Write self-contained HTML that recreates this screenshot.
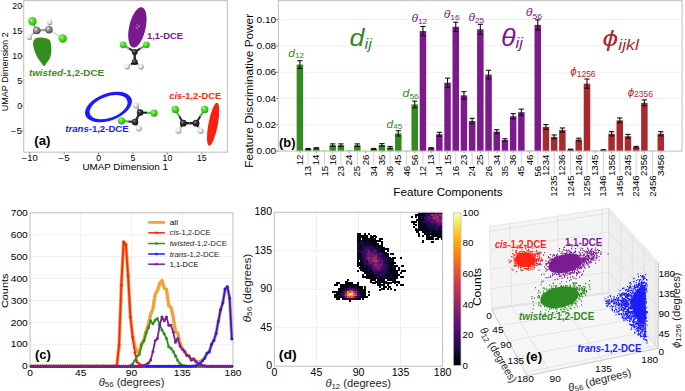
<!DOCTYPE html>
<html><head><meta charset="utf-8"><title>Figure</title>
<style>html,body{margin:0;padding:0;background:#fff;overflow:hidden;}svg{display:block;font-family:"Liberation Sans",sans-serif;}</style>
</head><body>
<svg width="685" height="391" viewBox="0 0 685 391"><defs><radialGradient id="gCl" cx="0.38" cy="0.35" r="0.7"><stop offset="0" stop-color="#d8ffc8"/><stop offset="0.25" stop-color="#5fe63a"/><stop offset="0.8" stop-color="#2cc014"/><stop offset="1" stop-color="#1c8a0c"/></radialGradient>
<radialGradient id="gC" cx="0.38" cy="0.35" r="0.7"><stop offset="0" stop-color="#f2f2f2"/><stop offset="0.3" stop-color="#9a9a9a"/><stop offset="0.8" stop-color="#5e5e5e"/><stop offset="1" stop-color="#3a3a3a"/></radialGradient>
<radialGradient id="gK" cx="0.38" cy="0.35" r="0.7"><stop offset="0" stop-color="#9a9a9a"/><stop offset="0.3" stop-color="#3a3a3a"/><stop offset="0.8" stop-color="#1a1a1a"/><stop offset="1" stop-color="#050505"/></radialGradient>
<radialGradient id="gH" cx="0.38" cy="0.35" r="0.7"><stop offset="0" stop-color="#ffffff"/><stop offset="0.4" stop-color="#e8e8e8"/><stop offset="0.85" stop-color="#a8a8a8"/><stop offset="1" stop-color="#787878"/></radialGradient><linearGradient id="cbar" x1="0" y1="0" x2="0" y2="1"><stop offset="0.00" stop-color="#fcffa4"/><stop offset="0.05" stop-color="#f1ef75"/><stop offset="0.10" stop-color="#f6d746"/><stop offset="0.15" stop-color="#fbbe23"/><stop offset="0.20" stop-color="#fca50a"/><stop offset="0.25" stop-color="#f98e09"/><stop offset="0.30" stop-color="#f37819"/><stop offset="0.35" stop-color="#ea632a"/><stop offset="0.40" stop-color="#dd513a"/><stop offset="0.45" stop-color="#cc4248"/><stop offset="0.50" stop-color="#bc3754"/><stop offset="0.55" stop-color="#a82e5f"/><stop offset="0.60" stop-color="#932667"/><stop offset="0.65" stop-color="#7f1e6c"/><stop offset="0.70" stop-color="#6a176e"/><stop offset="0.75" stop-color="#57106e"/><stop offset="0.80" stop-color="#420a68"/><stop offset="0.85" stop-color="#2b0b57"/><stop offset="0.90" stop-color="#160b39"/><stop offset="0.95" stop-color="#07051b"/><stop offset="1.00" stop-color="#000004"/></linearGradient></defs><polygon points="489.40,226.80 608.60,208.10 608.40,293.20 491.60,309.40" fill="#f4f4f4" stroke="none" stroke-width="0.8"/>
<polygon points="608.60,208.10 658.60,262.70 658.00,348.40 608.40,293.20" fill="#eeeeee" stroke="none" stroke-width="0.8"/>
<polygon points="491.60,309.40 608.40,293.20 658.00,348.40 527.00,375.90" fill="#f6f6f6" stroke="none" stroke-width="0.8"/>
<line x1="489.40" y1="226.80" x2="608.60" y2="208.10" stroke="#e0e0e0" stroke-width="0.8"/>
<line x1="608.60" y1="208.10" x2="658.60" y2="262.70" stroke="#e0e0e0" stroke-width="0.8"/>
<line x1="608.60" y1="208.10" x2="608.40" y2="293.20" stroke="#e0e0e0" stroke-width="0.8"/>
<line x1="491.60" y1="309.40" x2="608.40" y2="293.20" stroke="#e0e0e0" stroke-width="0.8"/>
<line x1="608.40" y1="293.20" x2="658.00" y2="348.40" stroke="#e0e0e0" stroke-width="0.8"/>
<line x1="489.40" y1="226.80" x2="491.60" y2="309.40" stroke="#e0e0e0" stroke-width="0.8"/>
<line x1="658.60" y1="262.70" x2="658.00" y2="348.40" stroke="#e0e0e0" stroke-width="0.8"/>
<line x1="491.57" y1="308.16" x2="608.40" y2="291.92" stroke="#dcdcdc" stroke-width="0.7"/>
<line x1="608.40" y1="291.92" x2="658.01" y2="347.11" stroke="#dcdcdc" stroke-width="0.7"/>
<line x1="491.05" y1="288.75" x2="608.45" y2="271.93" stroke="#dcdcdc" stroke-width="0.7"/>
<line x1="608.45" y1="271.93" x2="658.15" y2="326.97" stroke="#dcdcdc" stroke-width="0.7"/>
<line x1="490.53" y1="269.34" x2="608.50" y2="251.93" stroke="#dcdcdc" stroke-width="0.7"/>
<line x1="608.50" y1="251.93" x2="658.29" y2="306.84" stroke="#dcdcdc" stroke-width="0.7"/>
<line x1="490.02" y1="249.93" x2="608.54" y2="231.93" stroke="#dcdcdc" stroke-width="0.7"/>
<line x1="608.54" y1="231.93" x2="658.43" y2="286.70" stroke="#dcdcdc" stroke-width="0.7"/>
<line x1="489.53" y1="231.51" x2="608.59" y2="212.95" stroke="#dcdcdc" stroke-width="0.7"/>
<line x1="608.59" y1="212.95" x2="658.57" y2="267.58" stroke="#dcdcdc" stroke-width="0.7"/>
<line x1="509.90" y1="223.58" x2="511.69" y2="306.61" stroke="#dcdcdc" stroke-width="0.7"/>
<line x1="511.69" y1="306.61" x2="549.53" y2="371.17" stroke="#dcdcdc" stroke-width="0.7"/>
<line x1="557.70" y1="216.08" x2="558.53" y2="300.12" stroke="#dcdcdc" stroke-width="0.7"/>
<line x1="558.53" y1="300.12" x2="602.06" y2="360.14" stroke="#dcdcdc" stroke-width="0.7"/>
<line x1="602.28" y1="209.09" x2="602.21" y2="294.06" stroke="#dcdcdc" stroke-width="0.7"/>
<line x1="602.21" y1="294.06" x2="651.06" y2="349.86" stroke="#dcdcdc" stroke-width="0.7"/>
<line x1="608.60" y1="208.10" x2="608.40" y2="293.20" stroke="#dcdcdc" stroke-width="0.7"/>
<line x1="491.60" y1="309.40" x2="608.40" y2="293.20" stroke="#dcdcdc" stroke-width="0.7"/>
<line x1="620.70" y1="221.31" x2="620.40" y2="306.56" stroke="#dcdcdc" stroke-width="0.7"/>
<line x1="500.17" y1="325.49" x2="620.40" y2="306.56" stroke="#dcdcdc" stroke-width="0.7"/>
<line x1="632.40" y1="234.09" x2="632.01" y2="319.48" stroke="#dcdcdc" stroke-width="0.7"/>
<line x1="508.45" y1="341.05" x2="632.01" y2="319.48" stroke="#dcdcdc" stroke-width="0.7"/>
<line x1="644.20" y1="246.98" x2="643.72" y2="332.50" stroke="#dcdcdc" stroke-width="0.7"/>
<line x1="516.80" y1="356.75" x2="643.72" y2="332.50" stroke="#dcdcdc" stroke-width="0.7"/>
<line x1="656.10" y1="259.97" x2="655.52" y2="345.64" stroke="#dcdcdc" stroke-width="0.7"/>
<line x1="525.23" y1="372.57" x2="655.52" y2="345.64" stroke="#dcdcdc" stroke-width="0.7"/>
<line x1="491.60" y1="309.40" x2="527.00" y2="375.90" stroke="#bdbdbd" stroke-width="0.8"/>
<line x1="527.00" y1="375.90" x2="658.00" y2="348.40" stroke="#bdbdbd" stroke-width="0.8"/>
<line x1="658.00" y1="348.40" x2="658.60" y2="262.70" stroke="#bdbdbd" stroke-width="0.8"/>
<ellipse cx="525.0" cy="259.8" rx="9.6" ry="7.2" transform="rotate(0 525.0 259.8)" fill="#ff2414"/>
<path d="M517.5 245.6h1.1m6.4 1h1.1m-10.1 1h1.1m2.4 .5h1.1m4.4 0h1.1m5.9 0h1.1m-11.6 1h1.1m2.9 0h1.1m1.4 .5h1.1m-16.6 .5h1.1m1.9 .5h1.1m-.6 0h1.1m10.4 0h1.1m-.6 0h1.1m-1.1 0h1.1m6.9 0h1.1m-16.1 .5h1.1m4.4 0h1.1m-8.1 .5h1.1m1.9 0h1.1m-.1 0h1.1m-.6 0h1.1m4.9 0h1.1m.4 0h1.1m-.1 0h1.1m1.9 0h1.1m-21.6 .5h1.1m-.1 0h1.1m4.4 0h1.1m7.4 0h1.1m-1.1 0h1.1m-1.1 0h1.1m-12.6 .5h1.1m-3.6 .5h1.1m-1.1 0h1.1m2.4 0h1.1m3.4 0h1.1m-.6 0h1.1m-.1 0h1.1m1.4 0h1.1m-.1 0h1.1m.4 0h1.1m-19.6 .5h1.1m4.4 0h1.1m1.4 0h1.1m-.6 0h1.1m-.1 0h1.1m-.1 0h1.1m-.1 0h1.1m-.6 0h1.1m.9 0h1.1m-.6 0h1.1m-.1 0h1.1m-.6 0h1.1m-.1 0h1.1m.9 0h1.1m1.4 0h1.1m-1.1 0h1.1m1.4 0h1.1m-23.6 .5h1.1m3.4 0h1.1m-.1 0h1.1m-.1 0h1.1m2.4 0h1.1m-.1 0h1.1m3.4 0h1.1m1.9 0h1.1m-1.1 0h1.1m-1.1 0h1.1m1.4 0h1.1m-.6 0h1.1m.9 0h1.1m-.6 0h1.1m-25.1 .5h1.1m.9 0h1.1m.4 0h1.1m.9 0h1.1m-1.1 0h1.1m-.1 0h1.1m-1.1 0h1.1m.9 0h1.1m-.6 0h1.1m-.6 0h1.1m-.1 0h1.1m-.6 0h1.1m.4 0h1.1m.9 0h1.1m-1.1 0h1.1m-.6 0h1.1m.4 0h1.1m-17.1 .5h1.1m1.9 0h1.1m-.1 0h1.1m.9 0h1.1m-.1 0h1.1m-.1 0h1.1m.4 0h1.1m-.1 0h1.1m-1.1 0h1.1m-.1 0h1.1m-.1 0h1.1m-.6 0h1.1m-1.1 0h1.1m-1.1 0h1.1m-1.1 0h1.1m-.1 0h1.1m-.1 0h1.1m-.1 0h1.1m-1.1 0h1.1m-.6 0h1.1m.4 0h1.1m-.6 0h1.1m-1.1 0h1.1m-20.1 .5h1.1m2.9 0h1.1m.4 0h1.1m-.6 0h1.1m-1.1 0h1.1m-.6 0h1.1m-1.1 0h1.1m-.6 0h1.1m-.6 0h1.1m.9 0h1.1m-.6 0h1.1m.9 0h1.1m.4 0h1.1m-1.1 0h1.1m-.6 0h1.1m-1.1 0h1.1m-.6 0h1.1m-.6 0h1.1m-.6 0h1.1m-.1 0h1.1m.4 0h1.1m1.9 0h1.1m-19.6 .5h1.1m1.4 0h1.1m.9 0h1.1m-.6 0h1.1m-.6 0h1.1m-.1 0h1.1m-.6 0h1.1m-1.1 0h1.1m1.4 0h1.1m-.6 0h1.1m-.1 0h1.1m-.6 0h1.1m-.6 0h1.1m1.4 0h1.1m-.6 0h1.1m-.6 0h1.1m.9 0h1.1m-23.6 .5h1.1m6.4 0h1.1m-.1 0h1.1m-1.1 0h1.1m2.4 0h1.1m-1.1 0h1.1m-.6 0h1.1m-.1 0h1.1m-1.1 0h1.1m.9 0h1.1m-.6 0h1.1m-1.1 0h1.1m-1.1 0h1.1m.9 0h1.1m-1.1 0h1.1m-.1 0h1.1m-.1 0h1.1m4.9 0h1.1m-25.6 .5h1.1m1.9 0h1.1m.9 0h1.1m.9 0h1.1m.4 0h1.1m-.1 0h1.1m-1.1 0h1.1m.9 0h1.1m-1.1 0h1.1m-.6 0h1.1m-1.1 0h1.1m-.6 0h1.1m-.6 0h1.1m-.1 0h1.1m-.6 0h1.1m-.6 0h1.1m-.6 0h1.1m-.1 0h1.1m-.1 0h1.1m-.6 0h1.1m-.1 0h1.1m-.6 0h1.1m-1.1 0h1.1m.4 0h1.1m-18.1 .5h1.1m.4 0h1.1m-.6 0h1.1m.4 0h1.1m-.1 0h1.1m-.6 0h1.1m.4 0h1.1m-1.1 0h1.1m-.6 0h1.1m.4 0h1.1m-.1 0h1.1m-1.1 0h1.1m-.6 0h1.1m-1.1 0h1.1m.4 0h1.1m-.6 0h1.1m.4 0h1.1m-.1 0h1.1m-.6 0h1.1m.4 0h1.1m-1.1 0h1.1m.4 0h1.1m-22.1 .5h1.1m1.4 0h1.1m-.6 0h1.1m-.6 0h1.1m-1.1 0h1.1m-.6 0h1.1m-.6 0h1.1m-.1 0h1.1m-.6 0h1.1m-.6 0h1.1m-.1 0h1.1m-.6 0h1.1m-.1 0h1.1m-.6 0h1.1m-1.1 0h1.1m-1.1 0h1.1m-.6 0h1.1m-1.1 0h1.1m-.6 0h1.1m-.1 0h1.1m-.1 0h1.1m-1.1 0h1.1m-.6 0h1.1m-1.1 0h1.1m-.6 0h1.1m-1.1 0h1.1m-.6 0h1.1m-.1 0h1.1m-15.1 .5h1.1m-.1 0h1.1m-.1 0h1.1m-.6 0h1.1m-1.1 0h1.1m-1.1 0h1.1m1.4 0h1.1m-.1 0h1.1m-.1 0h1.1m-1.1 0h1.1m-.6 0h1.1m-1.1 0h1.1m-1.1 0h1.1m-.6 0h1.1m-1.1 0h1.1m-1.1 0h1.1m-1.1 0h1.1m-.6 0h1.1m-1.1 0h1.1m-.6 0h1.1m-.6 0h1.1m-.6 0h1.1m-1.1 0h1.1m-.1 0h1.1m-.6 0h1.1m-1.1 0h1.1m-1.1 0h1.1m-.6 0h1.1m-.1 0h1.1m-1.1 0h1.1m-1.1 0h1.1m-.6 0h1.1m-.1 0h1.1m.4 0h1.1m2.4 0h1.1m-19.6 .5h1.1m.4 0h1.1m-.6 0h1.1m.4 0h1.1m-.1 0h1.1m-.6 0h1.1m-1.1 0h1.1m-.6 0h1.1m.9 0h1.1m-.1 0h1.1m-1.1 0h1.1m-.6 0h1.1m-1.1 0h1.1m-1.1 0h1.1m-1.1 0h1.1m-.1 0h1.1m-1.1 0h1.1m-1.1 0h1.1m-1.1 0h1.1m-1.1 0h1.1m-.6 0h1.1m-1.1 0h1.1m-.6 0h1.1m-1.1 0h1.1m-1.1 0h1.1m-.6 0h1.1m-.6 0h1.1m-.6 0h1.1m-.6 0h1.1m-.6 0h1.1m-.6 0h1.1m-1.1 0h1.1m-.1 0h1.1m-1.1 0h1.1m-1.1 0h1.1m.4 0h1.1m-.6 0h1.1m.4 0h1.1m-21.1 .5h1.1m.4 0h1.1m-.1 0h1.1m1.9 0h1.1m-.6 0h1.1m.4 0h1.1m-.1 0h1.1m-1.1 0h1.1m-.6 0h1.1m-.6 0h1.1m-.6 0h1.1m-.1 0h1.1m-1.1 0h1.1m-.6 0h1.1m-.6 0h1.1m-1.1 0h1.1m-.6 0h1.1m-1.1 0h1.1m-.6 0h1.1m-1.1 0h1.1m-1.1 0h1.1m-1.1 0h1.1m2.4 0h1.1m2.4 0h1.1m-.1 0h1.1m-.1 0h1.1m1.4 0h1.1m1.9 0h1.1m-34.1 .5h1.1m3.9 0h1.1m.9 0h1.1m-.1 0h1.1m.4 0h1.1m-.6 0h1.1m-1.1 0h1.1m1.4 0h1.1m-.6 0h1.1m-1.1 0h1.1m-.6 0h1.1m-.6 0h1.1m-.6 0h1.1m-.6 0h1.1m-.6 0h1.1m.9 0h1.1m-.6 0h1.1m-.1 0h1.1m-.6 0h1.1m-1.1 0h1.1m-.1 0h1.1m.4 0h1.1m-1.1 0h1.1m-.6 0h1.1m-.1 0h1.1m.4 0h1.1m.4 0h1.1m-1.1 0h1.1m-.1 0h1.1m-28.6 .5h1.1m1.4 0h1.1m1.4 0h1.1m.4 0h1.1m-.1 0h1.1m-.1 0h1.1m-.6 0h1.1m-.1 0h1.1m.4 0h1.1m.4 0h1.1m-1.1 0h1.1m-.6 0h1.1m.4 0h1.1m-1.1 0h1.1m-.6 0h1.1m-1.1 0h1.1m-1.1 0h1.1m-1.1 0h1.1m-1.1 0h1.1m-.6 0h1.1m-.6 0h1.1m-.6 0h1.1m-.6 0h1.1m-1.1 0h1.1m-.6 0h1.1m-1.1 0h1.1m-.1 0h1.1m-1.1 0h1.1m-.1 0h1.1m-.6 0h1.1m-.6 0h1.1m-.6 0h1.1m-.6 0h1.1m-.6 0h1.1m-.1 0h1.1m-1.1 0h1.1m3.4 0h1.1m-23.6 .5h1.1m.4 0h1.1m-1.1 0h1.1m-.1 0h1.1m-.6 0h1.1m-1.1 0h1.1m-.6 0h1.1m-1.1 0h1.1m.4 0h1.1m2.4 0h1.1m-.6 0h1.1m-.6 0h1.1m-1.1 0h1.1m-1.1 0h1.1m-1.1 0h1.1m-.6 0h1.1m-.6 0h1.1m-.1 0h1.1m-1.1 0h1.1m-.6 0h1.1m-1.1 0h1.1m-.6 0h1.1m-1.1 0h1.1m.4 0h1.1m-.6 0h1.1m1.9 0h1.1m-.6 0h1.1m-.6 0h1.1m.4 0h1.1m-25.1 .5h1.1m-1.1 0h1.1m4.4 0h1.1m-.6 0h1.1m.9 0h1.1m-.1 0h1.1m-1.1 0h1.1m-.6 0h1.1m-1.1 0h1.1m-.6 0h1.1m-.1 0h1.1m-.6 0h1.1m-.6 0h1.1m-1.1 0h1.1m-.6 0h1.1m-1.1 0h1.1m-.6 0h1.1m-1.1 0h1.1m-.6 0h1.1m-1.1 0h1.1m-.6 0h1.1m-.1 0h1.1m-.6 0h1.1m-.6 0h1.1m1.4 0h1.1m-.6 0h1.1m3.9 0h1.1m-.1 0h1.1m3.9 0h1.1m-21.1 .5h1.1m-1.1 0h1.1m-.6 0h1.1m-1.1 0h1.1m-1.1 0h1.1m-1.1 0h1.1m-.6 0h1.1m-1.1 0h1.1m-.1 0h1.1m-1.1 0h1.1m-.1 0h1.1m-1.1 0h1.1m2.4 0h1.1m-1.1 0h1.1m-1.1 0h1.1m-1.1 0h1.1m-.6 0h1.1m-.1 0h1.1m.9 0h1.1m-22.1 .5h1.1m5.4 0h1.1m-.6 0h1.1m-1.1 0h1.1m-.6 0h1.1m-.6 0h1.1m.4 0h1.1m.4 0h1.1m.9 0h1.1m-1.1 0h1.1m1.9 0h1.1m-.6 0h1.1m-1.1 0h1.1m-.6 0h1.1m-1.1 0h1.1m-.6 0h1.1m-.6 0h1.1m-.6 0h1.1m-.6 0h1.1m-1.1 0h1.1m-.1 0h1.1m-1.1 0h1.1m-.6 0h1.1m-.1 0h1.1m.4 0h1.1m-.1 0h1.1m-20.1 .5h1.1m-.6 0h1.1m-.6 0h1.1m3.4 0h1.1m-1.1 0h1.1m-.1 0h1.1m.4 0h1.1m.4 0h1.1m.9 0h1.1m-1.1 0h1.1m-.6 0h1.1m-.6 0h1.1m-1.1 0h1.1m-.1 0h1.1m-.6 0h1.1m-.6 0h1.1m-.6 0h1.1m-.1 0h1.1m-.6 0h1.1m-.6 0h1.1m-.6 0h1.1m-.6 0h1.1m.9 0h1.1m-19.6 .5h1.1m2.4 0h1.1m2.4 0h1.1m.4 0h1.1m-1.1 0h1.1m.4 0h1.1m-1.1 0h1.1m-.1 0h1.1m-1.1 0h1.1m-1.1 0h1.1m.4 0h1.1m-.1 0h1.1m-.6 0h1.1m1.4 0h1.1m-1.1 0h1.1m12.4 0h1.1m-26.6 .5h1.1m-.1 0h1.1m-.6 0h1.1m-1.1 0h1.1m1.9 0h1.1m-.1 0h1.1m.4 0h1.1m.4 0h1.1m-.6 0h1.1m3.4 0h1.1m-.1 0h1.1m1.9 0h1.1m-23.1 .5h1.1m4.9 0h1.1m-.1 0h1.1m-.1 0h1.1m-.1 0h1.1m.4 0h1.1m-1.1 0h1.1m1.9 0h1.1m.4 0h1.1m2.9 0h1.1m3.9 0h1.1m-26.6 .5h1.1m.9 0h1.1m1.9 0h1.1m.4 0h1.1m-.1 0h1.1m1.4 0h1.1m.4 0h1.1m.4 0h1.1m-.6 0h1.1m1.4 0h1.1m.9 0h1.1m.4 0h1.1m-19.6 .5h1.1m-.1 0h1.1m.9 0h1.1m-.1 0h1.1m1.4 0h1.1m-1.1 0h1.1m.9 0h1.1m-.6 0h1.1m-1.1 0h1.1m-.6 0h1.1m-.6 0h1.1m.4 0h1.1m-1.1 0h1.1m-.6 0h1.1m-.6 0h1.1m-.6 0h1.1m-.6 0h1.1m-.1 0h1.1m3.9 0h1.1m-15.6 .5h1.1m-.1 0h1.1m1.4 0h1.1m1.9 0h1.1m.9 0h1.1m-1.1 0h1.1m3.4 0h1.1m-19.6 .5h1.1m1.9 0h1.1m8.9 0h1.1m-.1 0h1.1m-.1 0h1.1m-1.1 0h1.1m-10.6 .5h1.1m9.4 0h1.1m.4 0h1.1m-15.1 .5h1.1m.9 0h1.1m-.6 0h1.1m.9 0h1.1m3.9 0h1.1m5.4 0h1.1m-7.1 .5h1.1m-1.1 0h1.1m4.4 0h1.1m-10.6 .5h1.1m-.1 0h1.1m-.1 0h1.1m.4 0h1.1m-.6 0h1.1m.9 0h1.1m-19.6 .5h1.1m14.9 0h1.1m-8.6 .5h1.1m5.4 0h1.1m2.9 0h1.1m.9 0h1.1m-21.1 .5h1.1m8.4 0h1.1m-.6 0h1.1m4.4 0h1.1m-8.1 .5h1.1m-6.1 1h1.1" stroke="#ff2414" stroke-width="1.1" fill="none"/>
<path d="M528 247.6h1.1m-.6 4h1.1m7.9 .5h1.1m-13.1 .5h1.1m13.9 0h1.1m2.4 0h1.1m-19.1 .5h1.1m9.4 0h1.1m-.6 0h1.1m.4 0h1.1m-15.1 .5h1.1m12.4 0h1.1m.4 0h1.1m-13.6 .5h1.1m.9 0h1.1m8.4 0h1.1m-14.1 .5h1.1m3.4 0h1.1m1.4 0h1.1m3.4 0h1.1m-14.6 .5h1.1m10.4 0h1.1m-10.1 .5h1.1m-.1 0h1.1m3.4 0h1.1m5.9 0h1.1m-9.6 .5h1.1m.9 0h1.1m.9 0h1.1m-.1 0h1.1m-8.1 .5h1.1m.4 0h1.1m-1.1 0h1.1m-.1 0h1.1m-6.6 .5h1.1m12.9 0h1.1m-15.6 .5h1.1m2.9 0h1.1m9.4 0h1.1m-20.1 .5h1.1m-.6 0h1.1m9.9 0h1.1m.9 0h1.1m4.4 0h1.1m.9 0h1.1m-23.1 .5h1.1m-.6 0h1.1m12.4 0h1.1m-.6 0h1.1m.9 0h1.1m1.4 0h1.1m-10.6 .5h1.1m.9 0h1.1m-.6 0h1.1m1.4 0h1.1m-.6 0h1.1m-10.6 .5h1.1m1.9 0h1.1m-.1 0h1.1m6.4 0h1.1m-.6 0h1.1m-.6 0h1.1m.4 0h1.1m-12.1 .5h1.1m2.4 0h1.1m9.9 0h1.1m-17.1 .5h1.1m8.4 0h1.1m3.4 0h1.1m.9 0h1.1m-27.1 .5h1.1m3.9 0h1.1m-.6 0h1.1m-.1 0h1.1m.9 0h1.1m-.1 0h1.1m2.4 0h1.1m-.6 0h1.1m1.9 0h1.1m4.4 0h1.1m-17.1 .5h1.1m-.6 0h1.1m9.4 0h1.1m-.6 0h1.1m-12.6 .5h1.1m7.4 0h1.1m.9 0h1.1m2.4 0h1.1m-15.6 .5h1.1m9.4 0h1.1m-3.1 .5h1.1m.4 0h1.1m.4 0h1.1m1.9 .5h1.1m-.1 0h1.1m-7.6 .5h1.1m.4 .5h1.1m-7.6 .5h1.1m-13.1 .5h1.1m21.4 0h1.1" stroke="#ff2414" stroke-width="1.1" fill="none"/>
<ellipse cx="565.0" cy="263.5" rx="16.5" ry="9.0" transform="rotate(-12 565.0 263.5)" fill="#7b1c93"/>
<path d="M585 243.6h1.1m-17.1 .5h1.1m-.1 1h1.1m5.9 0h1.1m-1.1 1h1.1m-14.1 1h1.1m-1.6 .5h1.1m15.9 .5h1.1m-22.6 .5h1.1m10.9 0h1.1m2.9 0h1.1m-13.1 1h1.1m-.6 .5h1.1m1.4 0h1.1m.9 0h1.1m10.9 0h1.1m8.9 0h1.1m-25.6 .5h1.1m-.1 0h1.1m20.4 0h1.1m-30.6 .5h1.1m-1.1 0h1.1m9.4 0h1.1m4.9 0h1.1m9.9 0h1.1m-25.6 .5h1.1m12.4 0h1.1m-36.6 .5h1.1m25.9 0h1.1m.9 0h1.1m.4 0h1.1m-.1 0h1.1m1.9 0h1.1m3.4 0h1.1m-6.1 .5h1.1m-.1 0h1.1m6.4 0h1.1m7.9 0h1.1m3.9 0h1.1m-35.6 .5h1.1m3.9 0h1.1m2.9 0h1.1m-.6 0h1.1m7.4 0h1.1m7.9 0h1.1m-29.1 .5h1.1m1.9 0h1.1m-.1 0h1.1m-.1 0h1.1m2.4 0h1.1m2.9 0h1.1m-17.1 .5h1.1m6.9 0h1.1m-.1 0h1.1m1.4 0h1.1m-.1 0h1.1m1.4 0h1.1m6.9 0h1.1m5.9 0h1.1m-38.1 .5h1.1m2.4 0h1.1m16.9 0h1.1m1.9 0h1.1m-.6 0h1.1m-.1 0h1.1m-34.1 .5h1.1m8.9 0h1.1m-.6 0h1.1m1.4 0h1.1m4.9 0h1.1m1.9 0h1.1m.9 0h1.1m-.1 0h1.1m3.4 0h1.1m.4 0h1.1m2.4 0h1.1m.9 0h1.1m2.9 0h1.1m-30.6 .5h1.1m4.4 0h1.1m.4 0h1.1m.9 0h1.1m.9 0h1.1m-1.1 0h1.1m.4 0h1.1m-.1 0h1.1m-.1 0h1.1m-.1 0h1.1m-.1 0h1.1m3.9 0h1.1m.4 0h1.1m.9 0h1.1m-28.1 .5h1.1m2.9 0h1.1m-.1 0h1.1m-.6 0h1.1m5.4 0h1.1m2.9 0h1.1m1.4 0h1.1m-.6 0h1.1m-.6 0h1.1m2.9 0h1.1m-.6 0h1.1m.4 0h1.1m.9 0h1.1m6.9 0h1.1m-40.6 .5h1.1m7.4 0h1.1m2.4 0h1.1m-.1 0h1.1m1.9 0h1.1m2.4 0h1.1m.4 0h1.1m.4 0h1.1m.4 0h1.1m.4 0h1.1m-.1 0h1.1m-.6 0h1.1m-.6 0h1.1m2.9 0h1.1m-1.1 0h1.1m4.9 0h1.1m-31.6 .5h1.1m3.9 0h1.1m.4 0h1.1m4.9 0h1.1m-.6 0h1.1m-1.1 0h1.1m-1.1 0h1.1m2.9 0h1.1m3.9 0h1.1m-30.1 .5h1.1m4.9 0h1.1m6.4 0h1.1m-.6 0h1.1m.4 0h1.1m-1.1 0h1.1m1.4 0h1.1m-1.1 0h1.1m-.1 0h1.1m.4 0h1.1m-1.1 0h1.1m-.6 0h1.1m-.6 0h1.1m2.4 0h1.1m-.6 0h1.1m1.4 0h1.1m-.6 0h1.1m-.6 0h1.1m.4 0h1.1m4.9 0h1.1m-36.1 .5h1.1m2.9 0h1.1m8.4 0h1.1m-.1 0h1.1m-1.1 0h1.1m.4 0h1.1m1.4 0h1.1m2.4 0h1.1m.4 0h1.1m.9 0h1.1m-.6 0h1.1m1.9 0h1.1m-30.1 .5h1.1m.9 0h1.1m5.4 0h1.1m-.1 0h1.1m2.4 0h1.1m-1.1 0h1.1m-.1 0h1.1m3.4 0h1.1m-.1 0h1.1m-.6 0h1.1m-.1 0h1.1m1.9 0h1.1m1.4 0h1.1m1.4 0h1.1m-.6 0h1.1m-.1 0h1.1m1.4 0h1.1m7.9 0h1.1m.4 0h1.1m1.9 0h1.1m-45.6 .5h1.1m-.1 0h1.1m1.4 0h1.1m-.6 0h1.1m.4 0h1.1m.9 0h1.1m2.9 0h1.1m-.6 0h1.1m3.9 0h1.1m-1.1 0h1.1m.4 0h1.1m-1.1 0h1.1m-.1 0h1.1m-.6 0h1.1m1.4 0h1.1m.9 0h1.1m.9 0h1.1m-.1 0h1.1m-.6 0h1.1m1.9 0h1.1m-1.1 0h1.1m-.6 0h1.1m-.6 0h1.1m-35.1 .5h1.1m.9 0h1.1m.4 0h1.1m-.1 0h1.1m-1.1 0h1.1m2.9 0h1.1m-1.1 0h1.1m-1.1 0h1.1m2.4 0h1.1m-1.1 0h1.1m-.6 0h1.1m-.6 0h1.1m-1.1 0h1.1m-.1 0h1.1m-.6 0h1.1m-.1 0h1.1m-1.1 0h1.1m-.6 0h1.1m-.1 0h1.1m-.1 0h1.1m-1.1 0h1.1m-.6 0h1.1m-.6 0h1.1m.4 0h1.1m-.1 0h1.1m-.1 0h1.1m-1.1 0h1.1m-.6 0h1.1m-.1 0h1.1m4.4 0h1.1m-.6 0h1.1m.9 0h1.1m.4 0h1.1m-.6 0h1.1m7.4 0h1.1m-52.1 .5h1.1m7.4 0h1.1m-.6 0h1.1m-.1 0h1.1m2.4 0h1.1m2.9 0h1.1m.4 0h1.1m-.1 0h1.1m-.6 0h1.1m-.6 0h1.1m-1.1 0h1.1m-.6 0h1.1m-.6 0h1.1m-1.1 0h1.1m-1.1 0h1.1m-.1 0h1.1m.4 0h1.1m-.6 0h1.1m-1.1 0h1.1m-.1 0h1.1m-1.1 0h1.1m-.6 0h1.1m-1.1 0h1.1m.9 0h1.1m.4 0h1.1m-.6 0h1.1m-1.1 0h1.1m.4 0h1.1m.4 0h1.1m.9 0h1.1m-1.1 0h1.1m-.6 0h1.1m-1.1 0h1.1m-1.1 0h1.1m3.4 0h1.1m1.9 0h1.1m-.1 0h1.1m7.9 0h1.1m2.9 0h1.1m-63.6 .5h1.1m17.4 0h1.1m2.9 0h1.1m-1.1 0h1.1m.9 0h1.1m-.1 0h1.1m-.6 0h1.1m-.6 0h1.1m.9 0h1.1m-.1 0h1.1m-.6 0h1.1m-.6 0h1.1m-.1 0h1.1m-1.1 0h1.1m-1.1 0h1.1m-1.1 0h1.1m-1.1 0h1.1m-.6 0h1.1m-.1 0h1.1m-1.1 0h1.1m1.4 0h1.1m-.1 0h1.1m-1.1 0h1.1m-.6 0h1.1m-.1 0h1.1m-.6 0h1.1m-.6 0h1.1m-.1 0h1.1m-.6 0h1.1m.4 0h1.1m-.6 0h1.1m-.6 0h1.1m.4 0h1.1m-.6 0h1.1m-.6 0h1.1m-.1 0h1.1m-.6 0h1.1m.4 0h1.1m-40.1 .5h1.1m1.9 0h1.1m5.9 0h1.1m-1.1 0h1.1m-.1 0h1.1m.9 0h1.1m-.1 0h1.1m-1.1 0h1.1m-.6 0h1.1m-.6 0h1.1m-1.1 0h1.1m-.6 0h1.1m-.1 0h1.1m.4 0h1.1m-1.1 0h1.1m-.1 0h1.1m-.1 0h1.1m-.6 0h1.1m-1.1 0h1.1m-.6 0h1.1m-1.1 0h1.1m-1.1 0h1.1m-.1 0h1.1m-1.1 0h1.1m-.6 0h1.1m-.6 0h1.1m-.1 0h1.1m-1.1 0h1.1m-1.1 0h1.1m-.6 0h1.1m-.1 0h1.1m-1.1 0h1.1m-.1 0h1.1m1.4 0h1.1m1.4 0h1.1m-1.1 0h1.1m-.6 0h1.1m-.6 0h1.1m.4 0h1.1m-32.1 .5h1.1m2.9 0h1.1m7.4 0h1.1m-.1 0h1.1m-.6 0h1.1m-.6 0h1.1m-.6 0h1.1m-1.1 0h1.1m.4 0h1.1m-1.1 0h1.1m-.6 0h1.1m-.1 0h1.1m-.6 0h1.1m-.6 0h1.1m-1.1 0h1.1m.4 0h1.1m.4 0h1.1m-1.1 0h1.1m-.6 0h1.1m-1.1 0h1.1m5.4 0h1.1m-.6 0h1.1m-.6 0h1.1m3.9 0h1.1m.4 0h1.1m3.9 0h1.1m-43.1 .5h1.1m1.9 0h1.1m1.4 0h1.1m.4 0h1.1m.9 0h1.1m-1.1 0h1.1m-.1 0h1.1m-.6 0h1.1m1.4 0h1.1m.9 0h1.1m-.6 0h1.1m-1.1 0h1.1m-.6 0h1.1m-.6 0h1.1m-.6 0h1.1m-1.1 0h1.1m-.6 0h1.1m.9 0h1.1m.9 0h1.1m-1.1 0h1.1m-1.1 0h1.1m.9 0h1.1m2.9 0h1.1m-.1 0h1.1m.9 0h1.1m.4 0h1.1m-.1 0h1.1m-.6 0h1.1m-1.1 0h1.1m-.6 0h1.1m7.9 0h1.1m-44.1 .5h1.1m.4 0h1.1m2.9 0h1.1m.4 0h1.1m1.4 0h1.1m1.4 0h1.1m-.6 0h1.1m-1.1 0h1.1m-.1 0h1.1m-1.1 0h1.1m.4 0h1.1m-.1 0h1.1m.9 0h1.1m-.6 0h1.1m-.6 0h1.1m-.6 0h1.1m-.6 0h1.1m-.1 0h1.1m-.1 0h1.1m-.6 0h1.1m.4 0h1.1m.4 0h1.1m-.6 0h1.1m-.1 0h1.1m-.6 0h1.1m-.6 0h1.1m2.9 0h1.1m1.9 0h1.1m-37.1 .5h1.1m-.1 0h1.1m2.4 0h1.1m-.6 0h1.1m-.1 0h1.1m-.1 0h1.1m-.6 0h1.1m1.4 0h1.1m-.6 0h1.1m.4 0h1.1m-.6 0h1.1m-.6 0h1.1m-.1 0h1.1m-1.1 0h1.1m-1.1 0h1.1m-.6 0h1.1m.9 0h1.1m1.9 0h1.1m-1.1 0h1.1m-1.1 0h1.1m-.1 0h1.1m-1.1 0h1.1m-.6 0h1.1m-.6 0h1.1m-1.1 0h1.1m-1.1 0h1.1m-.6 0h1.1m-1.1 0h1.1m-.6 0h1.1m.4 0h1.1m-1.1 0h1.1m-.1 0h1.1m-.6 0h1.1m-.1 0h1.1m-1.1 0h1.1m-.6 0h1.1m.9 0h1.1m.9 0h1.1m-.1 0h1.1m9.4 0h1.1m4.4 0h1.1m-56.6 .5h1.1m5.4 0h1.1m9.4 0h1.1m.9 0h1.1m-.1 0h1.1m.9 0h1.1m-.6 0h1.1m-.6 0h1.1m-.1 0h1.1m-.1 0h1.1m.4 0h1.1m-.1 0h1.1m.4 0h1.1m-.6 0h1.1m-1.1 0h1.1m-.1 0h1.1m-.6 0h1.1m-1.1 0h1.1m-1.1 0h1.1m-.6 0h1.1m-1.1 0h1.1m2.4 0h1.1m-.6 0h1.1m.9 0h1.1m2.4 0h1.1m-.1 0h1.1m3.9 0h1.1m-49.1 .5h1.1m9.9 0h1.1m-1.1 0h1.1m1.4 0h1.1m-.6 0h1.1m-.1 0h1.1m1.9 0h1.1m1.9 0h1.1m.4 0h1.1m-.1 0h1.1m-1.1 0h1.1m-.6 0h1.1m-.6 0h1.1m-.6 0h1.1m-.6 0h1.1m.4 0h1.1m-1.1 0h1.1m-.6 0h1.1m-.6 0h1.1m-.6 0h1.1m.4 0h1.1m-1.1 0h1.1m-.1 0h1.1m-1.1 0h1.1m-.6 0h1.1m-1.1 0h1.1m-1.1 0h1.1m-.6 0h1.1m-.6 0h1.1m-.6 0h1.1m-.6 0h1.1m-.6 0h1.1m.9 0h1.1m.9 0h1.1m-.1 0h1.1m-1.1 0h1.1m.9 0h1.1m-1.1 0h1.1m-.6 0h1.1m6.4 0h1.1m-48.1 .5h1.1m-1.1 0h1.1m3.9 0h1.1m2.9 0h1.1m-.1 0h1.1m-.1 0h1.1m-1.1 0h1.1m3.4 0h1.1m-1.1 0h1.1m1.4 0h1.1m-.6 0h1.1m-.1 0h1.1m1.9 0h1.1m-1.1 0h1.1m-.6 0h1.1m.4 0h1.1m-1.1 0h1.1m-.1 0h1.1m-1.1 0h1.1m-.6 0h1.1m-.1 0h1.1m-.6 0h1.1m-1.1 0h1.1m-1.1 0h1.1m-1.1 0h1.1m-.6 0h1.1m-.1 0h1.1m.4 0h1.1m-1.1 0h1.1m-.1 0h1.1m.9 0h1.1m2.9 0h1.1m-.6 0h1.1m2.4 0h1.1m-45.6 .5h1.1m7.4 0h1.1m2.4 0h1.1m1.4 0h1.1m.4 0h1.1m-.1 0h1.1m-.6 0h1.1m-.1 0h1.1m.9 0h1.1m-.1 0h1.1m-1.1 0h1.1m-.6 0h1.1m-1.1 0h1.1m-.6 0h1.1m-1.1 0h1.1m-.6 0h1.1m-.6 0h1.1m-.6 0h1.1m-1.1 0h1.1m-.6 0h1.1m-.6 0h1.1m.9 0h1.1m-.6 0h1.1m-.6 0h1.1m-.6 0h1.1m-.1 0h1.1m-1.1 0h1.1m-.1 0h1.1m-1.1 0h1.1m-1.1 0h1.1m-.1 0h1.1m3.4 0h1.1m-.6 0h1.1m.4 0h1.1m-.1 0h1.1m-.6 0h1.1m.4 0h1.1m-.6 0h1.1m2.4 0h1.1m.9 0h1.1m-35.1 .5h1.1m.4 0h1.1m.4 0h1.1m-.1 0h1.1m-1.1 0h1.1m-.1 0h1.1m-.6 0h1.1m-1.1 0h1.1m.9 0h1.1m.9 0h1.1m-1.1 0h1.1m.9 0h1.1m-.6 0h1.1m-.1 0h1.1m.4 0h1.1m-.1 0h1.1m.4 0h1.1m-.6 0h1.1m-.6 0h1.1m-.6 0h1.1m-.1 0h1.1m-.6 0h1.1m-.1 0h1.1m-1.1 0h1.1m-.6 0h1.1m1.4 0h1.1m-.6 0h1.1m-.1 0h1.1m-.6 0h1.1m.9 0h1.1m-.1 0h1.1m1.9 0h1.1m-.6 0h1.1m-33.6 .5h1.1m1.4 0h1.1m2.4 0h1.1m-.6 0h1.1m-.1 0h1.1m-1.1 0h1.1m-.6 0h1.1m-1.1 0h1.1m.9 0h1.1m.4 0h1.1m-1.1 0h1.1m-.1 0h1.1m-.6 0h1.1m-.6 0h1.1m-.6 0h1.1m-.1 0h1.1m-1.1 0h1.1m.4 0h1.1m.9 0h1.1m3.4 0h1.1m-.6 0h1.1m.9 0h1.1m-.6 0h1.1m-30.1 .5h1.1m-.1 0h1.1m-.6 0h1.1m-.6 0h1.1m-.1 0h1.1m.9 0h1.1m-1.1 0h1.1m-.6 0h1.1m-.1 0h1.1m-.6 0h1.1m-.6 0h1.1m2.4 0h1.1m.4 0h1.1m-.6 0h1.1m-1.1 0h1.1m-.6 0h1.1m-1.1 0h1.1m-1.1 0h1.1m-1.1 0h1.1m.9 0h1.1m1.9 0h1.1m1.9 0h1.1m-.1 0h1.1m-.1 0h1.1m-.6 0h1.1m-.6 0h1.1m-1.1 0h1.1m-.1 0h1.1m3.4 0h1.1m2.4 0h1.1m-1.1 0h1.1m6.4 0h1.1m-45.6 .5h1.1m5.9 0h1.1m.9 0h1.1m-.6 0h1.1m.4 0h1.1m-.6 0h1.1m-.1 0h1.1m-.1 0h1.1m-1.1 0h1.1m-.1 0h1.1m-1.1 0h1.1m.9 0h1.1m-1.1 0h1.1m-.1 0h1.1m-.6 0h1.1m-.6 0h1.1m-.1 0h1.1m-.6 0h1.1m-.6 0h1.1m-.1 0h1.1m-.6 0h1.1m2.4 0h1.1m-.1 0h1.1m-1.1 0h1.1m1.4 0h1.1m-.6 0h1.1m-.6 0h1.1m.4 0h1.1m-.6 0h1.1m-.6 0h1.1m-.1 0h1.1m-.1 0h1.1m.4 0h1.1m-.6 0h1.1m.9 0h1.1m.4 0h1.1m-35.6 .5h1.1m.4 0h1.1m-.1 0h1.1m.4 0h1.1m3.9 0h1.1m.4 0h1.1m1.4 0h1.1m-1.1 0h1.1m-1.1 0h1.1m-.6 0h1.1m-.6 0h1.1m-.6 0h1.1m-1.1 0h1.1m-.1 0h1.1m-.6 0h1.1m-.6 0h1.1m-1.1 0h1.1m1.4 0h1.1m-1.1 0h1.1m-.6 0h1.1m.4 0h1.1m-1.1 0h1.1m-.6 0h1.1m-.1 0h1.1m-1.1 0h1.1m.9 0h1.1m-.1 0h1.1m.4 0h1.1m.9 0h1.1m-31.1 .5h1.1m.4 0h1.1m3.4 0h1.1m-.6 0h1.1m.4 0h1.1m-.1 0h1.1m-.1 0h1.1m2.4 0h1.1m-.6 0h1.1m-1.1 0h1.1m-1.1 0h1.1m.4 0h1.1m-.6 0h1.1m.9 0h1.1m-1.1 0h1.1m-.6 0h1.1m.9 0h1.1m-.6 0h1.1m.4 0h1.1m2.9 0h1.1m2.9 0h1.1m-.1 0h1.1m-.6 0h1.1m2.9 0h1.1m-40.1 .5h1.1m1.9 0h1.1m-1.1 0h1.1m-.6 0h1.1m-.6 0h1.1m-.6 0h1.1m-.1 0h1.1m-.6 0h1.1m.9 0h1.1m.4 0h1.1m.4 0h1.1m1.4 0h1.1m1.9 0h1.1m-.6 0h1.1m-.1 0h1.1m.4 0h1.1m-1.1 0h1.1m-.1 0h1.1m-1.1 0h1.1m1.4 0h1.1m-.6 0h1.1m-1.1 0h1.1m2.4 0h1.1m-.6 0h1.1m4.4 0h1.1m-.6 0h1.1m.9 0h1.1m-33.6 .5h1.1m-1.1 0h1.1m1.4 0h1.1m4.9 0h1.1m2.4 0h1.1m-.6 0h1.1m-.6 0h1.1m.4 0h1.1m-1.1 0h1.1m-.1 0h1.1m-1.1 0h1.1m3.4 0h1.1m-.1 0h1.1m-.1 0h1.1m-1.1 0h1.1m-.6 0h1.1m-.6 0h1.1m1.4 0h1.1m-.6 0h1.1m1.4 0h1.1m-31.6 .5h1.1m1.9 0h1.1m4.9 0h1.1m-1.1 0h1.1m.4 0h1.1m-.6 0h1.1m-.1 0h1.1m-.6 0h1.1m1.4 0h1.1m-1.1 0h1.1m.4 0h1.1m-.1 0h1.1m1.4 0h1.1m5.4 0h1.1m-.6 0h1.1m-.1 0h1.1m-.1 0h1.1m-38.1 .5h1.1m6.9 0h1.1m8.4 0h1.1m-.1 0h1.1m2.9 0h1.1m-.6 0h1.1m-.6 0h1.1m-.6 0h1.1m-.6 0h1.1m1.4 0h1.1m-1.1 0h1.1m-1.1 0h1.1m-.6 0h1.1m-.6 0h1.1m1.4 0h1.1m.4 0h1.1m-.6 0h1.1m-.6 0h1.1m-.1 0h1.1m-.1 0h1.1m-.6 0h1.1m-25.1 .5h1.1m2.4 0h1.1m.9 0h1.1m1.4 0h1.1m2.9 0h1.1m-1.1 0h1.1m.9 0h1.1m.4 0h1.1m.9 0h1.1m8.4 0h1.1m-32.6 .5h1.1m4.4 0h1.1m1.9 0h1.1m-1.1 0h1.1m-.6 0h1.1m1.9 0h1.1m2.9 0h1.1m.4 0h1.1m-.6 0h1.1m-.1 0h1.1m.4 0h1.1m-.1 0h1.1m.4 0h1.1m-.6 0h1.1m12.9 0h1.1m-32.6 .5h1.1m-.1 0h1.1m5.9 0h1.1m11.4 0h1.1m.9 0h1.1m2.9 0h1.1m-25.6 .5h1.1m-1.1 0h1.1m2.4 0h1.1m-1.1 0h1.1m1.4 0h1.1m.9 0h1.1m-.6 0h1.1m1.4 0h1.1m-.1 0h1.1m-.1 0h1.1m4.4 0h1.1m.9 0h1.1m4.4 0h1.1m-1.1 0h1.1m-24.1 .5h1.1m-.6 0h1.1m-1.1 0h1.1m2.4 0h1.1m4.4 0h1.1m2.4 0h1.1m.4 0h1.1m1.4 0h1.1m1.4 0h1.1m1.4 0h1.1m-25.1 .5h1.1m-.6 0h1.1m1.9 0h1.1m3.4 0h1.1m1.9 0h1.1m-.6 0h1.1m.4 0h1.1m1.4 0h1.1m1.4 0h1.1m2.4 0h1.1m-.1 0h1.1m-26.1 .5h1.1m5.4 0h1.1m9.4 0h1.1m-26.6 .5h1.1m9.4 0h1.1m3.4 0h1.1m-.6 0h1.1m4.9 0h1.1m1.4 0h1.1m-1.1 0h1.1m.4 0h1.1m-.1 0h1.1m5.4 0h1.1m4.4 0h1.1m-42.1 .5h1.1m10.4 0h1.1m2.4 0h1.1m.4 0h1.1m2.9 0h1.1m.4 0h1.1m-.1 .5h1.1m10.9 0h1.1m3.9 0h1.1m-30.1 .5h1.1m6.4 0h1.1m5.9 0h1.1m-17.6 .5h1.1m9.4 0h1.1m2.4 0h1.1m-15.1 .5h1.1m7.9 0h1.1m11.9 0h1.1m-23.6 .5h1.1m13.4 0h1.1m4.9 0h1.1m7.9 0h1.1m-34.6 .5h1.1m.9 0h1.1m12.9 .5h1.1m4.4 0h1.1m5.4 0h1.1m.9 .5h1.1m-19.6 .5h1.1m-3.6 .5h1.1m14.9 0h1.1m-29.1 1.5h1.1m-2.6 1h1.1m33.4 1h1.1" stroke="#7b1c93" stroke-width="1.1" fill="none"/>
<path d="M600.5 245.6h1.1m-14.6 2.5h1.1m6.9 0h1.1m-14.1 .5h1.1m8.4 0h1.1m-5.1 .5h1.1m2.4 .5h1.1m4.9 0h1.1m-1.1 0h1.1m-3.6 .5h1.1m-13.1 .5h1.1m11.9 0h1.1m1.4 0h1.1m-.1 0h1.1m-16.1 .5h1.1m6.4 0h1.1m-6.1 .5h1.1m.9 0h1.1m.4 0h1.1m-.6 0h1.1m-1.1 0h1.1m1.4 0h1.1m-9.1 .5h1.1m14.4 0h1.1m-15.1 .5h1.1m-.6 0h1.1m-1.1 0h1.1m.9 0h1.1m.9 0h1.1m.9 0h1.1m-.6 0h1.1m-.1 0h1.1m2.4 0h1.1m-2.6 .5h1.1m-9.1 .5h1.1m.4 0h1.1m-1.1 0h1.1m1.4 0h1.1m-.6 0h1.1m.9 0h1.1m-12.6 .5h1.1m-.6 0h1.1m1.4 0h1.1m2.9 0h1.1m-.1 0h1.1m-.6 0h1.1m-.1 0h1.1m5.9 0h1.1m-.6 0h1.1m5.9 0h1.1m-28.6 .5h1.1m9.9 0h1.1m-9.1 .5h1.1m-.6 0h1.1m5.9 0h1.1m-.1 0h1.1m1.4 0h1.1m.9 0h1.1m-18.6 .5h1.1m1.9 0h1.1m3.9 0h1.1m-.6 0h1.1m-.1 0h1.1m-.6 0h1.1m1.9 0h1.1m3.9 0h1.1m-21.1 .5h1.1m8.4 0h1.1m-.6 0h1.1m-.6 0h1.1m4.9 0h1.1m-.6 0h1.1m-9.6 .5h1.1m1.9 0h1.1m2.4 0h1.1m5.9 0h1.1m-16.6 .5h1.1m.4 0h1.1m-.6 0h1.1m2.9 0h1.1m1.4 0h1.1m.4 0h1.1m1.4 0h1.1m-.1 0h1.1m-23.1 .5h1.1m5.9 0h1.1m2.4 0h1.1m-1.1 0h1.1m2.4 0h1.1m3.9 0h1.1m-23.1 .5h1.1m7.9 0h1.1m5.4 0h1.1m-.1 0h1.1m1.4 0h1.1m.4 0h1.1m2.4 0h1.1m-20.6 .5h1.1m4.4 0h1.1m-.1 0h1.1m.4 0h1.1m.4 0h1.1m-1.1 0h1.1m-.6 0h1.1m-.1 0h1.1m.9 0h1.1m.4 0h1.1m-.1 0h1.1m-10.6 .5h1.1m-.6 0h1.1m-.1 0h1.1m-.1 0h1.1m.9 0h1.1m3.4 0h1.1m-.6 0h1.1m-15.6 .5h1.1m.9 0h1.1m1.4 0h1.1m1.4 0h1.1m-.6 0h1.1m.9 0h1.1m-1.1 0h1.1m-.6 0h1.1m-.6 0h1.1m-.6 0h1.1m.9 0h1.1m-3.1 .5h1.1m1.4 0h1.1m1.4 0h1.1m-18.1 .5h1.1m4.9 0h1.1m1.4 0h1.1m1.9 0h1.1m-14.6 .5h1.1m3.4 0h1.1m5.9 0h1.1m-6.6 .5h1.1m1.4 0h1.1m5.9 0h1.1m-20.6 .5h1.1m8.4 0h1.1m-.6 0h1.1m-.6 0h1.1m1.9 0h1.1m1.4 0h1.1m.9 0h1.1m-.1 0h1.1m-11.1 .5h1.1m3.9 0h1.1m1.4 0h1.1m-14.6 .5h1.1m9.4 .5h1.1m1.4 0h1.1m-7.1 .5h1.1m1.4 .5h1.1m-3.6 .5h1.1m6.4 0h1.1m-11.6 .5h1.1m-.6 1.5h1.1m9.9 0h1.1" stroke="#7b1c93" stroke-width="1.1" fill="none"/>
<ellipse cx="559.5" cy="297.2" rx="19.5" ry="10.2" transform="rotate(-12 559.5 297.2)" fill="#2e8c22"/>
<path d="M569 280.6h1.1m18.9 0h1.1m-29.1 1h1.1m3.9 0h1.1m5.4 1h1.1m-20.6 .5h1.1m18.9 0h1.1m.4 0h1.1m.4 0h1.1m-24.6 .5h1.1m5.9 0h1.1m12.4 0h1.1m-.6 0h1.1m-34.1 1h1.1m7.4 .5h1.1m19.4 0h1.1m2.4 0h1.1m-18.1 .5h1.1m3.9 0h1.1m2.9 0h1.1m.4 0h1.1m2.4 0h1.1m-20.1 .5h1.1m.9 0h1.1m.9 0h1.1m4.4 0h1.1m1.4 0h1.1m14.9 0h1.1m-24.6 .5h1.1m4.9 0h1.1m3.4 0h1.1m2.4 0h1.1m-.6 0h1.1m2.9 0h1.1m-15.1 .5h1.1m4.4 0h1.1m5.9 0h1.1m2.4 0h1.1m-42.1 .5h1.1m18.9 0h1.1m4.9 0h1.1m-1.1 0h1.1m-.1 0h1.1m-.6 0h1.1m-.6 0h1.1m1.4 0h1.1m-.6 0h1.1m1.9 0h1.1m-27.6 .5h1.1m-.1 0h1.1m5.9 0h1.1m-.1 0h1.1m6.9 0h1.1m-.1 0h1.1m1.9 0h1.1m1.4 0h1.1m-1.1 0h1.1m-.6 0h1.1m.9 0h1.1m5.4 0h1.1m8.4 0h1.1m-33.6 .5h1.1m-.6 0h1.1m-.6 0h1.1m2.4 0h1.1m.4 0h1.1m1.4 0h1.1m-.6 0h1.1m-1.1 0h1.1m-.6 0h1.1m-.6 0h1.1m-.1 0h1.1m3.4 0h1.1m1.9 0h1.1m2.9 0h1.1m-31.1 .5h1.1m.4 0h1.1m-1.1 0h1.1m1.9 0h1.1m10.9 0h1.1m-.6 0h1.1m.9 0h1.1m.9 0h1.1m-.6 0h1.1m-.6 0h1.1m.9 0h1.1m-.6 0h1.1m3.4 0h1.1m-.6 0h1.1m.4 0h1.1m5.4 0h1.1m-26.6 .5h1.1m.9 0h1.1m1.9 0h1.1m5.9 0h1.1m.4 0h1.1m10.4 0h1.1m-35.1 .5h1.1m-.1 0h1.1m1.4 0h1.1m-1.1 0h1.1m4.4 0h1.1m-.1 0h1.1m-.6 0h1.1m-.1 0h1.1m-1.1 0h1.1m.9 0h1.1m1.4 0h1.1m.9 0h1.1m.9 0h1.1m-.6 0h1.1m-.6 0h1.1m1.9 0h1.1m2.9 0h1.1m-38.6 .5h1.1m16.9 0h1.1m1.4 0h1.1m-.1 0h1.1m-1.1 0h1.1m-.6 0h1.1m1.4 0h1.1m3.4 0h1.1m-.1 0h1.1m1.9 0h1.1m11.9 0h1.1m-42.1 .5h1.1m2.4 0h1.1m2.9 0h1.1m-.1 0h1.1m1.9 0h1.1m.4 0h1.1m-.6 0h1.1m.4 0h1.1m-.6 0h1.1m-.6 0h1.1m.4 0h1.1m.4 0h1.1m-.1 0h1.1m2.9 0h1.1m-1.1 0h1.1m.9 0h1.1m-22.1 .5h1.1m2.4 0h1.1m-.1 0h1.1m-.1 0h1.1m-.6 0h1.1m-.6 0h1.1m.9 0h1.1m-.6 0h1.1m-.1 0h1.1m-.6 0h1.1m-1.1 0h1.1m.4 0h1.1m-1.1 0h1.1m2.9 0h1.1m-1.1 0h1.1m-.6 0h1.1m-.6 0h1.1m-.1 0h1.1m-.1 0h1.1m.9 0h1.1m1.9 0h1.1m.4 0h1.1m.9 0h1.1m6.4 0h1.1m-44.6 .5h1.1m5.9 0h1.1m3.4 0h1.1m-.1 0h1.1m-1.1 0h1.1m-1.1 0h1.1m-.6 0h1.1m-1.1 0h1.1m-.6 0h1.1m.4 0h1.1m-.1 0h1.1m1.4 0h1.1m-.6 0h1.1m3.9 0h1.1m-1.1 0h1.1m-1.1 0h1.1m-.1 0h1.1m-1.1 0h1.1m-.6 0h1.1m-.6 0h1.1m-.1 0h1.1m2.4 0h1.1m-.1 0h1.1m1.9 0h1.1m-31.6 .5h1.1m2.4 0h1.1m.4 0h1.1m1.9 0h1.1m-.6 0h1.1m-.1 0h1.1m-.1 0h1.1m3.4 0h1.1m-1.1 0h1.1m-.1 0h1.1m.4 0h1.1m-.6 0h1.1m-.1 0h1.1m-1.1 0h1.1m-.1 0h1.1m.4 0h1.1m-1.1 0h1.1m-1.1 0h1.1m-.6 0h1.1m-.6 0h1.1m3.4 0h1.1m-.1 0h1.1m.4 0h1.1m1.4 0h1.1m-39.1 .5h1.1m10.4 0h1.1m4.4 0h1.1m-1.1 0h1.1m-.1 0h1.1m.4 0h1.1m1.4 0h1.1m.4 0h1.1m.4 0h1.1m2.4 0h1.1m7.9 0h1.1m1.4 0h1.1m-.6 0h1.1m-36.6 .5h1.1m-.6 0h1.1m-.6 0h1.1m6.9 0h1.1m-.6 0h1.1m-1.1 0h1.1m-1.1 0h1.1m-.6 0h1.1m.9 0h1.1m1.9 0h1.1m-1.1 0h1.1m-1.1 0h1.1m-.1 0h1.1m1.4 0h1.1m-.6 0h1.1m-.1 0h1.1m-.6 0h1.1m.9 0h1.1m-.6 0h1.1m3.9 0h1.1m-.1 0h1.1m3.9 0h1.1m2.4 0h1.1m-28.6 .5h1.1m-.6 0h1.1m-1.1 0h1.1m.4 0h1.1m-1.1 0h1.1m-.1 0h1.1m-.1 0h1.1m-.1 0h1.1m-.6 0h1.1m-1.1 0h1.1m-.1 0h1.1m.9 0h1.1m.9 0h1.1m-1.1 0h1.1m.9 0h1.1m-.1 0h1.1m.9 0h1.1m-1.1 0h1.1m.4 0h1.1m-.1 0h1.1m-.1 0h1.1m-.6 0h1.1m.4 0h1.1m-30.1 .5h1.1m.4 0h1.1m-.6 0h1.1m2.9 0h1.1m.4 0h1.1m-.6 0h1.1m.4 0h1.1m-1.1 0h1.1m3.4 0h1.1m-1.1 0h1.1m-.6 0h1.1m-.6 0h1.1m-.6 0h1.1m-1.1 0h1.1m-.6 0h1.1m-1.1 0h1.1m.4 0h1.1m-.6 0h1.1m-.6 0h1.1m.4 0h1.1m.4 0h1.1m-.6 0h1.1m-.6 0h1.1m-1.1 0h1.1m-.1 0h1.1m-1.1 0h1.1m-.6 0h1.1m-.6 0h1.1m-.6 0h1.1m.4 0h1.1m-.1 0h1.1m1.9 0h1.1m-.6 0h1.1m-30.6 .5h1.1m1.9 0h1.1m-.6 0h1.1m1.4 0h1.1m.9 0h1.1m-1.1 0h1.1m.4 0h1.1m1.9 0h1.1m-1.1 0h1.1m-.6 0h1.1m-1.1 0h1.1m-.6 0h1.1m.9 0h1.1m-1.1 0h1.1m-.1 0h1.1m-.1 0h1.1m-.1 0h1.1m.4 0h1.1m-.6 0h1.1m-1.1 0h1.1m-1.1 0h1.1m-.6 0h1.1m.4 0h1.1m1.9 0h1.1m.4 0h1.1m.9 0h1.1m4.9 0h1.1m-44.1 .5h1.1m2.4 0h1.1m-.1 0h1.1m4.9 0h1.1m4.4 0h1.1m-.6 0h1.1m-.6 0h1.1m-.6 0h1.1m2.4 0h1.1m-.1 0h1.1m-1.1 0h1.1m-.6 0h1.1m-.6 0h1.1m-1.1 0h1.1m-1.1 0h1.1m-1.1 0h1.1m-.6 0h1.1m-.6 0h1.1m.9 0h1.1m-.6 0h1.1m-.1 0h1.1m-.6 0h1.1m-1.1 0h1.1m-1.1 0h1.1m.9 0h1.1m-.1 0h1.1m-1.1 0h1.1m1.9 0h1.1m-.1 0h1.1m.9 0h1.1m-1.1 0h1.1m2.9 0h1.1m-41.1 .5h1.1m4.4 0h1.1m2.4 0h1.1m-.6 0h1.1m.4 0h1.1m-1.1 0h1.1m-1.1 0h1.1m-.6 0h1.1m.9 0h1.1m-.1 0h1.1m-.6 0h1.1m.9 0h1.1m-.1 0h1.1m-.6 0h1.1m-.6 0h1.1m-.1 0h1.1m-1.1 0h1.1m-.1 0h1.1m-1.1 0h1.1m-.6 0h1.1m.4 0h1.1m-1.1 0h1.1m-.6 0h1.1m-1.1 0h1.1m.4 0h1.1m-.6 0h1.1m.4 0h1.1m-.6 0h1.1m-1.1 0h1.1m-.6 0h1.1m-.6 0h1.1m-1.1 0h1.1m-1.1 0h1.1m-1.1 0h1.1m.4 0h1.1m-1.1 0h1.1m-1.1 0h1.1m-.1 0h1.1m-.6 0h1.1m8.9 0h1.1m-50.1 .5h1.1m12.4 0h1.1m-.1 0h1.1m-.6 0h1.1m1.4 0h1.1m.4 0h1.1m-.6 0h1.1m.9 0h1.1m-1.1 0h1.1m.4 0h1.1m.9 0h1.1m-.6 0h1.1m-1.1 0h1.1m-1.1 0h1.1m-1.1 0h1.1m-.6 0h1.1m.4 0h1.1m-.6 0h1.1m1.4 0h1.1m-.6 0h1.1m.9 0h1.1m-.6 0h1.1m-.6 0h1.1m-.1 0h1.1m-1.1 0h1.1m.4 0h1.1m.4 0h1.1m-.6 0h1.1m-.6 0h1.1m1.4 0h1.1m-.1 0h1.1m.4 0h1.1m2.9 0h1.1m1.4 0h1.1m-46.1 .5h1.1m.4 0h1.1m-.6 0h1.1m4.4 0h1.1m-.1 0h1.1m-.6 0h1.1m.4 0h1.1m-1.1 0h1.1m-.1 0h1.1m-1.1 0h1.1m-.1 0h1.1m-1.1 0h1.1m.4 0h1.1m.4 0h1.1m-.6 0h1.1m-1.1 0h1.1m-.6 0h1.1m-.6 0h1.1m-1.1 0h1.1m-.6 0h1.1m-1.1 0h1.1m-.1 0h1.1m-1.1 0h1.1m-1.1 0h1.1m-.6 0h1.1m-.6 0h1.1m-1.1 0h1.1m-1.1 0h1.1m-1.1 0h1.1m-1.1 0h1.1m-1.1 0h1.1m.9 0h1.1m-1.1 0h1.1m-.6 0h1.1m-1.1 0h1.1m-.6 0h1.1m.9 0h1.1m.9 0h1.1m-.1 0h1.1m.4 0h1.1m-.1 0h1.1m-.6 0h1.1m2.4 0h1.1m.9 0h1.1m-32.6 .5h1.1m2.9 0h1.1m-.1 0h1.1m-1.1 0h1.1m1.9 0h1.1m2.4 0h1.1m-.6 0h1.1m-.6 0h1.1m-.6 0h1.1m.4 0h1.1m.4 0h1.1m.4 0h1.1m-1.1 0h1.1m-1.1 0h1.1m-1.1 0h1.1m1.9 0h1.1m-.1 0h1.1m-.6 0h1.1m.9 0h1.1m-1.1 0h1.1m-1.1 0h1.1m.4 0h1.1m-.1 0h1.1m-1.1 0h1.1m2.9 0h1.1m-39.1 .5h1.1m3.4 0h1.1m4.9 0h1.1m.9 0h1.1m-1.1 0h1.1m.4 0h1.1m1.4 0h1.1m1.9 0h1.1m2.4 0h1.1m-.1 0h1.1m-1.1 0h1.1m-.6 0h1.1m2.4 0h1.1m-.1 0h1.1m-.6 0h1.1m.4 0h1.1m-.6 0h1.1m-1.1 0h1.1m-1.1 0h1.1m-.1 0h1.1m.4 0h1.1m-.1 0h1.1m3.9 0h1.1m-1.1 0h1.1m3.4 0h1.1m-48.1 .5h1.1m8.4 0h1.1m2.9 0h1.1m-1.1 0h1.1m5.4 0h1.1m-.6 0h1.1m-.6 0h1.1m-.1 0h1.1m-1.1 0h1.1m-.6 0h1.1m-.6 0h1.1m-.1 0h1.1m-.6 0h1.1m-.6 0h1.1m-.1 0h1.1m-.1 0h1.1m-1.1 0h1.1m.4 0h1.1m-.1 0h1.1m-.6 0h1.1m-1.1 0h1.1m-.6 0h1.1m-.6 0h1.1m-.6 0h1.1m-.6 0h1.1m-.1 0h1.1m-.6 0h1.1m.9 0h1.1m-.6 0h1.1m-1.1 0h1.1m-.6 0h1.1m-.6 0h1.1m-.6 0h1.1m-.6 0h1.1m-.1 0h1.1m-.6 0h1.1m.9 0h1.1m-1.1 0h1.1m-32.6 .5h1.1m2.9 0h1.1m.4 0h1.1m-.1 0h1.1m-1.1 0h1.1m-.6 0h1.1m-.6 0h1.1m.9 0h1.1m.9 0h1.1m-.6 0h1.1m-.1 0h1.1m-.6 0h1.1m-.1 0h1.1m-.1 0h1.1m-1.1 0h1.1m-.6 0h1.1m-1.1 0h1.1m-.6 0h1.1m-.1 0h1.1m-.6 0h1.1m-1.1 0h1.1m.4 0h1.1m-1.1 0h1.1m-.1 0h1.1m.4 0h1.1m1.9 0h1.1m.4 0h1.1m.9 0h1.1m-.6 0h1.1m-.6 0h1.1m-.6 0h1.1m1.4 0h1.1m-32.1 .5h1.1m.9 0h1.1m-.6 0h1.1m-.1 0h1.1m1.4 0h1.1m-.1 0h1.1m-.1 0h1.1m1.4 0h1.1m.9 0h1.1m.4 0h1.1m-.6 0h1.1m1.4 0h1.1m-.1 0h1.1m-.6 0h1.1m-.6 0h1.1m-.6 0h1.1m-.6 0h1.1m1.9 0h1.1m-.6 0h1.1m.4 0h1.1m4.9 0h1.1m4.4 0h1.1m-38.1 .5h1.1m-.6 0h1.1m2.4 0h1.1m-1.1 0h1.1m.9 0h1.1m.9 0h1.1m-.1 0h1.1m-.1 0h1.1m-.1 0h1.1m-.6 0h1.1m-.6 0h1.1m-.6 0h1.1m.4 0h1.1m-.6 0h1.1m.4 0h1.1m-1.1 0h1.1m-.1 0h1.1m-.6 0h1.1m-.1 0h1.1m-.6 0h1.1m3.4 0h1.1m.4 0h1.1m2.9 0h1.1m1.4 0h1.1m.4 0h1.1m-32.1 .5h1.1m-.6 0h1.1m2.9 0h1.1m-.1 0h1.1m-1.1 0h1.1m-.6 0h1.1m-.1 0h1.1m-.6 0h1.1m-1.1 0h1.1m-.6 0h1.1m-1.1 0h1.1m-1.1 0h1.1m-.6 0h1.1m-1.1 0h1.1m-.6 0h1.1m.4 0h1.1m.4 0h1.1m.4 0h1.1m-1.1 0h1.1m-.6 0h1.1m.4 0h1.1m1.4 0h1.1m-.6 0h1.1m-.1 0h1.1m-.6 0h1.1m-.6 0h1.1m1.4 0h1.1m-.6 0h1.1m.9 0h1.1m.9 0h1.1m-29.1 .5h1.1m3.4 0h1.1m-.1 0h1.1m.4 0h1.1m-.6 0h1.1m.9 0h1.1m-.1 0h1.1m-.6 0h1.1m2.4 0h1.1m-.6 0h1.1m-1.1 0h1.1m-1.1 0h1.1m-1.1 0h1.1m-.6 0h1.1m-.1 0h1.1m-.6 0h1.1m-.1 0h1.1m-1.1 0h1.1m-.6 0h1.1m.9 0h1.1m1.4 0h1.1m6.4 0h1.1m-1.1 0h1.1m5.4 0h1.1m-49.6 .5h1.1m8.9 0h1.1m1.9 0h1.1m.9 0h1.1m-.1 0h1.1m-.6 0h1.1m-.1 0h1.1m1.4 0h1.1m-.6 0h1.1m-.6 0h1.1m2.4 0h1.1m-.6 0h1.1m1.4 0h1.1m-.1 0h1.1m2.9 0h1.1m.4 0h1.1m-.1 0h1.1m-.6 0h1.1m-.1 0h1.1m.4 0h1.1m.4 0h1.1m3.4 0h1.1m-34.6 .5h1.1m-.6 0h1.1m-.6 0h1.1m-.6 0h1.1m.4 0h1.1m-.1 0h1.1m.4 0h1.1m-1.1 0h1.1m.4 0h1.1m.4 0h1.1m.9 0h1.1m-.1 0h1.1m.4 0h1.1m-1.1 0h1.1m-.6 0h1.1m-.1 0h1.1m-.6 0h1.1m-1.1 0h1.1m-.6 0h1.1m-.6 0h1.1m-1.1 0h1.1m-.6 0h1.1m-.6 0h1.1m-.6 0h1.1m-.6 0h1.1m.9 0h1.1m.4 0h1.1m-.1 0h1.1m.9 0h1.1m2.4 0h1.1m-34.1 .5h1.1m6.9 0h1.1m1.4 0h1.1m-.6 0h1.1m-.6 0h1.1m-.6 0h1.1m4.4 0h1.1m.4 0h1.1m-1.1 0h1.1m-.6 0h1.1m.9 0h1.1m-.1 0h1.1m.4 0h1.1m-.1 0h1.1m-.1 0h1.1m-1.1 0h1.1m-1.1 0h1.1m-.6 0h1.1m-.1 0h1.1m.9 0h1.1m-1.1 0h1.1m-.1 0h1.1m-.1 0h1.1m2.9 0h1.1m-35.1 .5h1.1m3.4 0h1.1m.4 0h1.1m-1.1 0h1.1m.9 0h1.1m-.6 0h1.1m1.9 0h1.1m-.1 0h1.1m1.9 0h1.1m-1.1 0h1.1m1.9 0h1.1m-.1 0h1.1m1.9 0h1.1m-.1 0h1.1m-.6 0h1.1m.4 0h1.1m1.9 0h1.1m.4 0h1.1m.9 0h1.1m-.1 0h1.1m1.4 0h1.1m-30.6 .5h1.1m-.6 0h1.1m.9 0h1.1m-1.1 0h1.1m.9 0h1.1m-.6 0h1.1m-.6 0h1.1m-.6 0h1.1m.4 0h1.1m-1.1 0h1.1m-1.1 0h1.1m-.6 0h1.1m-.6 0h1.1m.4 0h1.1m-.1 0h1.1m-.6 0h1.1m.4 0h1.1m2.4 0h1.1m-.1 0h1.1m-1.1 0h1.1m.4 0h1.1m-.1 0h1.1m4.4 0h1.1m2.4 0h1.1m-.1 0h1.1m-28.6 .5h1.1m-.6 0h1.1m9.4 0h1.1m-.1 0h1.1m.9 0h1.1m-.6 0h1.1m-.1 0h1.1m.9 0h1.1m2.4 0h1.1m1.9 0h1.1m-28.1 .5h1.1m.9 0h1.1m1.9 0h1.1m-.1 0h1.1m-.6 0h1.1m.4 0h1.1m-.1 0h1.1m1.4 0h1.1m-1.1 0h1.1m-.6 0h1.1m-.1 0h1.1m-.6 0h1.1m-.6 0h1.1m-.1 0h1.1m6.4 0h1.1m-1.1 0h1.1m-35.6 .5h1.1m3.9 0h1.1m.4 0h1.1m3.9 0h1.1m-1.1 0h1.1m-.6 0h1.1m-.1 0h1.1m-.1 0h1.1m2.4 0h1.1m-1.1 0h1.1m-.6 0h1.1m3.4 0h1.1m-.6 0h1.1m.9 0h1.1m-.1 0h1.1m11.4 0h1.1m2.9 0h1.1m4.4 0h1.1m-42.6 .5h1.1m6.4 0h1.1m1.9 0h1.1m2.9 0h1.1m-1.1 0h1.1m1.4 0h1.1m1.4 0h1.1m1.9 0h1.1m.9 0h1.1m2.4 0h1.1m1.9 0h1.1m-31.1 .5h1.1m6.9 0h1.1m3.4 0h1.1m.4 0h1.1m.4 0h1.1m1.4 0h1.1m-15.6 .5h1.1m1.4 0h1.1m2.9 0h1.1m.4 0h1.1m3.9 0h1.1m.4 0h1.1m.4 0h1.1m2.4 0h1.1m3.9 0h1.1m-1.1 0h1.1m7.4 0h1.1m-31.1 .5h1.1m2.9 0h1.1m-.1 0h1.1m1.9 0h1.1m-.6 0h1.1m-.1 0h1.1m.4 0h1.1m5.4 0h1.1m-16.6 .5h1.1m.9 0h1.1m-.6 0h1.1m-1.1 0h1.1m.9 0h1.1m2.9 0h1.1m2.9 0h1.1m1.9 0h1.1m-.6 0h1.1m7.9 0h1.1m-25.6 .5h1.1m5.4 0h1.1m12.4 0h1.1m-19.6 .5h1.1m.9 0h1.1m.9 0h1.1m13.9 0h1.1m-.6 0h1.1m-39.1 .5h1.1m26.4 0h1.1m1.9 0h1.1m2.4 0h1.1m-18.6 .5h1.1m6.4 0h1.1m2.9 0h1.1m-1.1 0h1.1m2.4 0h1.1m-19.6 .5h1.1m20.9 0h1.1m-7.1 1h1.1m-22.6 .5h1.1m6.9 0h1.1m6.9 0h1.1m5.9 0h1.1m.4 0h1.1m-3.6 .5h1.1m-.6 0h1.1m-11.1 .5h1.1m-9.1 .5h1.1m12.4 0h1.1m-4.1 1h1.1m-11.1 .5h1.1m14.4 .5h1.1m-1.1 0h1.1m-18.1 .5h1.1" stroke="#2e8c22" stroke-width="1.1" fill="none"/>
<path d="M585 283.6h1.1m2.4 1h1.1m-15.1 .5h1.1m2.4 .5h1.1m.9 0h1.1m-7.1 1h1.1m7.9 0h1.1m-.6 0h1.1m-1.1 0h1.1m4.4 0h1.1m-5.1 .5h1.1m-13.1 .5h1.1m2.9 0h1.1m3.4 0h1.1m-5.6 .5h1.1m.9 0h1.1m.4 0h1.1m-1.1 0h1.1m-9.6 .5h1.1m2.9 0h1.1m4.9 0h1.1m.9 0h1.1m-10.1 .5h1.1m2.4 0h1.1m1.9 0h1.1m-.6 0h1.1m6.4 0h1.1m-17.1 .5h1.1m-1.1 0h1.1m-.1 0h1.1m-.1 0h1.1m.4 0h1.1m.9 0h1.1m2.4 0h1.1m.4 0h1.1m-12.6 .5h1.1m4.9 0h1.1m3.4 0h1.1m-.1 0h1.1m-12.1 .5h1.1m-.1 0h1.1m.4 0h1.1m2.4 0h1.1m1.4 0h1.1m1.4 0h1.1m.4 0h1.1m-.6 0h1.1m-14.1 .5h1.1m-.6 0h1.1m11.4 0h1.1m-20.6 .5h1.1m4.9 0h1.1m-.1 0h1.1m1.9 0h1.1m-.6 0h1.1m-7.1 .5h1.1m4.4 0h1.1m4.4 0h1.1m.9 0h1.1m.9 0h1.1m-13.6 .5h1.1m1.4 0h1.1m-1.1 0h1.1m4.9 0h1.1m-9.6 .5h1.1m5.4 0h1.1m-.6 0h1.1m-.6 0h1.1m1.4 0h1.1m-10.6 .5h1.1m-.6 0h1.1m3.9 0h1.1m-.1 0h1.1m-.6 0h1.1m-.6 0h1.1m.4 0h1.1m.4 0h1.1m-9.6 .5h1.1m-9.1 .5h1.1m3.4 0h1.1m4.4 0h1.1m-.1 0h1.1m.9 0h1.1m-6.1 .5h1.1m7.9 0h1.1m-12.6 1h1.1m-4.1 1.5h1.1m6.9 1h1.1m-10.6 1h1.1m.9 .5h1.1" stroke="#2e8c22" stroke-width="1.1" fill="none"/>
<polygon points="641,286 645.5,290 645.5,318 641,326 635,314 630,303 634,294 638,289" fill="#1d1dff"/>
<path d="M637.5 274.1h1.1m6.4 .5h1.1m-6.1 1h1.1m1.4 0h1.1m-2.1 .5h1.1m-4.6 .5h1.1m2.9 0h1.1m.4 0h1.1m-3.1 .5h1.1m-.1 0h1.1m-10.1 1h1.1m8.4 0h1.1m-.6 0h1.1m-.6 0h1.1m-.6 0h1.1m-12.1 .5h1.1m9.9 0h1.1m-3.1 .5h1.1m-6.1 .5h1.1m1.4 0h1.1m1.9 0h1.1m-1.1 0h1.1m1.9 0h1.1m-8.1 .5h1.1m6.4 0h1.1m-11.6 .5h1.1m1.9 .5h1.1m1.4 0h1.1m-9.6 .5h1.1m-.6 0h1.1m6.4 .5h1.1m1.4 0h1.1m-14.6 .5h1.1m4.4 0h1.1m3.9 0h1.1m.4 0h1.1m.4 0h1.1m-1.1 0h1.1m-.1 0h1.1m-16.6 .5h1.1m7.9 0h1.1m-.1 0h1.1m1.4 0h1.1m.4 0h1.1m1.9 0h1.1m-9.1 .5h1.1m1.9 0h1.1m-.6 0h1.1m-.6 0h1.1m-.6 0h1.1m-13.1 .5h1.1m6.4 0h1.1m.4 0h1.1m-1.1 0h1.1m.4 0h1.1m2.9 0h1.1m-10.1 .5h1.1m1.4 0h1.1m1.9 0h1.1m3.9 0h1.1m-1.1 0h1.1m-13.6 .5h1.1m-.6 0h1.1m1.9 0h1.1m-.1 0h1.1m-.1 0h1.1m.9 0h1.1m1.9 0h1.1m-16.1 .5h1.1m5.9 0h1.1m2.9 0h1.1m.9 0h1.1m-.1 0h1.1m.4 0h1.1m-16.6 .5h1.1m3.4 0h1.1m1.4 0h1.1m.4 0h1.1m1.9 0h1.1m-.1 0h1.1m.4 0h1.1m-1.1 0h1.1m-.1 0h1.1m.9 0h1.1m-20.6 .5h1.1m1.9 0h1.1m1.4 0h1.1m2.9 0h1.1m-.6 0h1.1m2.4 0h1.1m-1.1 0h1.1m-.6 0h1.1m1.4 0h1.1m-.6 0h1.1m-.6 0h1.1m-16.1 .5h1.1m3.4 0h1.1m-.1 0h1.1m-.1 0h1.1m.4 0h1.1m1.4 0h1.1m.9 0h1.1m-1.1 0h1.1m-.6 0h1.1m-.6 0h1.1m.4 0h1.1m-16.6 .5h1.1m-.6 0h1.1m-.6 0h1.1m3.9 0h1.1m-1.1 0h1.1m-.6 0h1.1m.4 0h1.1m2.4 0h1.1m1.4 0h1.1m.4 0h1.1m-22.6 .5h1.1m-.6 0h1.1m3.4 0h1.1m-.1 0h1.1m.4 0h1.1m2.4 0h1.1m3.9 0h1.1m3.4 0h1.1m-.6 0h1.1m.9 0h1.1m-25.1 .5h1.1m9.4 0h1.1m7.4 0h1.1m-1.1 0h1.1m-.6 0h1.1m-1.1 0h1.1m-.6 0h1.1m-8.6 .5h1.1m-1.1 0h1.1m7.4 0h1.1m-.6 0h1.1m-.6 0h1.1m-.1 0h1.1m-.6 0h1.1m-21.1 .5h1.1m-.6 0h1.1m.4 0h1.1m6.4 0h1.1m.9 0h1.1m.9 0h1.1m-1.1 0h1.1m3.9 0h1.1m.9 0h1.1m-22.1 .5h1.1m1.9 0h1.1m1.9 0h1.1m.9 0h1.1m3.9 0h1.1m-.6 0h1.1m-.6 0h1.1m-.6 0h1.1m.9 0h1.1m1.9 0h1.1m-.1 0h1.1m-27.1 .5h1.1m7.4 0h1.1m-.6 0h1.1m.4 0h1.1m-.6 0h1.1m3.9 0h1.1m-.1 0h1.1m3.9 0h1.1m-.1 0h1.1m-.1 0h1.1m-.6 0h1.1m-18.6 .5h1.1m-.1 0h1.1m-.1 0h1.1m2.4 0h1.1m3.9 0h1.1m-.1 0h1.1m1.4 0h1.1m-.6 0h1.1m-.6 0h1.1m-1.1 0h1.1m-1.1 0h1.1m.9 0h1.1m-12.1 .5h1.1m1.9 0h1.1m-.6 0h1.1m.9 0h1.1m3.4 0h1.1m-.1 0h1.1m-.6 0h1.1m1.4 0h1.1m-15.1 .5h1.1m-1.1 0h1.1m2.4 0h1.1m-.6 0h1.1m1.9 0h1.1m.4 0h1.1m.4 0h1.1m-.1 0h1.1m-22.1 .5h1.1m6.4 0h1.1m1.4 0h1.1m-.6 0h1.1m1.4 0h1.1m-.6 0h1.1m-1.1 0h1.1m2.9 0h1.1m.4 0h1.1m-1.1 0h1.1m-.6 0h1.1m-.6 0h1.1m-.6 0h1.1m-.6 0h1.1m-.1 0h1.1m-.6 0h1.1m-22.1 .5h1.1m-1.1 0h1.1m.9 0h1.1m1.4 0h1.1m-1.1 0h1.1m2.4 0h1.1m.4 0h1.1m-.1 0h1.1m-.6 0h1.1m2.9 0h1.1m-.6 0h1.1m4.4 0h1.1m-27.6 .5h1.1m1.9 0h1.1m-.1 0h1.1m-1.1 0h1.1m.9 0h1.1m-1.1 0h1.1m-.1 0h1.1m-1.1 0h1.1m1.4 0h1.1m1.9 0h1.1m1.9 0h1.1m.4 0h1.1m3.9 0h1.1m3.4 0h1.1m-25.1 .5h1.1m5.9 0h1.1m4.9 0h1.1m-1.1 0h1.1m-.1 0h1.1m-1.1 0h1.1m.9 0h1.1m1.9 0h1.1m-21.1 .5h1.1m-.6 0h1.1m-.1 0h1.1m.4 0h1.1m-.1 0h1.1m-.6 0h1.1m.4 0h1.1m-.6 0h1.1m-.6 0h1.1m-.6 0h1.1m-.1 0h1.1m11.9 0h1.1m-.1 0h1.1m-24.1 .5h1.1m.9 0h1.1m.9 0h1.1m1.4 0h1.1m-.6 0h1.1m-.1 0h1.1m.4 0h1.1m-.6 0h1.1m-.1 0h1.1m.9 0h1.1m-.6 0h1.1m.4 0h1.1m1.4 0h1.1m.4 0h1.1m-1.1 0h1.1m.9 0h1.1m-.6 0h1.1m2.9 0h1.1m-36.6 .5h1.1m6.4 0h1.1m1.9 0h1.1m3.4 0h1.1m.9 0h1.1m.4 0h1.1m.9 0h1.1m-.1 0h1.1m.4 0h1.1m-1.1 0h1.1m.4 0h1.1m.9 0h1.1m-1.1 0h1.1m-.1 0h1.1m-.6 0h1.1m-1.1 0h1.1m-.1 0h1.1m1.4 0h1.1m-1.1 0h1.1m-.1 0h1.1m-1.1 0h1.1m-.6 0h1.1m.9 0h1.1m-26.1 .5h1.1m.4 0h1.1m3.9 0h1.1m-.1 0h1.1m.4 0h1.1m4.4 0h1.1m1.4 0h1.1m.4 0h1.1m-.1 0h1.1m-1.1 0h1.1m-.1 0h1.1m-.6 0h1.1m-.6 0h1.1m.9 0h1.1m.4 0h1.1m-35.6 .5h1.1m2.4 0h1.1m4.9 0h1.1m4.4 0h1.1m.9 0h1.1m-.1 0h1.1m2.4 0h1.1m1.4 0h1.1m1.4 0h1.1m2.4 0h1.1m-1.1 0h1.1m-.6 0h1.1m-1.1 0h1.1m-.6 0h1.1m-.6 0h1.1m-.1 0h1.1m-.6 0h1.1m.4 0h1.1m-.6 0h1.1m-38.6 .5h1.1m4.9 0h1.1m10.9 0h1.1m3.9 0h1.1m1.4 0h1.1m-.6 0h1.1m.4 0h1.1m-1.1 0h1.1m-.1 0h1.1m-.6 0h1.1m1.4 0h1.1m3.9 0h1.1m-29.1 .5h1.1m-1.1 0h1.1m.9 0h1.1m2.4 0h1.1m-.6 0h1.1m1.9 0h1.1m.4 0h1.1m2.9 0h1.1m-1.1 0h1.1m1.9 0h1.1m2.4 0h1.1m1.4 0h1.1m-.6 0h1.1m.4 0h1.1m-1.1 0h1.1m-1.1 0h1.1m-1.1 0h1.1m-.6 0h1.1m-25.1 .5h1.1m7.4 0h1.1m3.9 0h1.1m-.1 0h1.1m2.4 0h1.1m-.1 0h1.1m.4 0h1.1m5.4 0h1.1m-41.6 .5h1.1m7.9 0h1.1m2.9 0h1.1m2.9 0h1.1m.4 0h1.1m-.1 0h1.1m1.9 0h1.1m-.6 0h1.1m-.1 0h1.1m2.9 0h1.1m-.1 0h1.1m-.6 0h1.1m-.1 0h1.1m-.6 0h1.1m-.1 0h1.1m2.9 0h1.1m.9 0h1.1m-.6 0h1.1m-33.1 .5h1.1m4.4 0h1.1m5.4 0h1.1m-.1 0h1.1m-1.1 0h1.1m2.9 0h1.1m-.1 0h1.1m.9 0h1.1m4.9 0h1.1m-.6 0h1.1m.4 0h1.1m-.6 0h1.1m-.6 0h1.1m1.4 0h1.1m1.9 0h1.1m-38.1 .5h1.1m3.9 0h1.1m-.6 0h1.1m-.1 0h1.1m5.4 0h1.1m.4 0h1.1m-1.1 0h1.1m.9 0h1.1m2.4 0h1.1m-.6 0h1.1m-.1 0h1.1m-1.1 0h1.1m6.4 0h1.1m1.9 0h1.1m-1.1 0h1.1m2.4 0h1.1m-.1 0h1.1m-1.1 0h1.1m-39.6 .5h1.1m1.4 0h1.1m2.4 0h1.1m-.1 0h1.1m.4 0h1.1m.9 0h1.1m-.6 0h1.1m-1.1 0h1.1m-.6 0h1.1m-.1 0h1.1m1.9 0h1.1m-.1 0h1.1m-1.1 0h1.1m.9 0h1.1m-.1 0h1.1m2.4 0h1.1m-.6 0h1.1m-.1 0h1.1m-.1 0h1.1m-1.1 0h1.1m2.9 0h1.1m.4 0h1.1m.4 0h1.1m-1.1 0h1.1m-.1 0h1.1m-30.1 .5h1.1m4.4 0h1.1m2.4 0h1.1m-.6 0h1.1m-.6 0h1.1m.9 0h1.1m-1.1 0h1.1m-.6 0h1.1m2.9 0h1.1m.9 0h1.1m-.6 0h1.1m1.9 0h1.1m.4 0h1.1m-.6 0h1.1m-1.1 0h1.1m-.6 0h1.1m2.4 0h1.1m-.6 0h1.1m-.1 0h1.1m-.6 0h1.1m1.4 0h1.1m-.6 0h1.1m-1.1 0h1.1m-40.1 .5h1.1m1.4 0h1.1m-.1 0h1.1m2.9 0h1.1m2.9 0h1.1m-1.1 0h1.1m.4 0h1.1m2.4 0h1.1m.4 0h1.1m-.1 0h1.1m-.6 0h1.1m.4 0h1.1m-.6 0h1.1m1.9 0h1.1m-.1 0h1.1m-1.1 0h1.1m.4 0h1.1m1.9 0h1.1m.9 0h1.1m-1.1 0h1.1m.4 0h1.1m-.6 0h1.1m.9 0h1.1m-.6 0h1.1m-.6 0h1.1m-.6 0h1.1m-1.1 0h1.1m.4 0h1.1m-39.1 .5h1.1m1.4 0h1.1m.9 0h1.1m-.1 0h1.1m-.6 0h1.1m1.4 0h1.1m.9 0h1.1m3.4 0h1.1m-.6 0h1.1m-.6 0h1.1m-1.1 0h1.1m1.9 0h1.1m-.6 0h1.1m-1.1 0h1.1m-1.1 0h1.1m-.6 0h1.1m3.9 0h1.1m.4 0h1.1m1.9 0h1.1m-.6 0h1.1m-.1 0h1.1m-.1 0h1.1m2.9 0h1.1m-.1 0h1.1m-.1 0h1.1m-1.1 0h1.1m-.6 0h1.1m-1.1 0h1.1m.4 0h1.1m-40.1 .5h1.1m2.4 0h1.1m-1.1 0h1.1m-.6 0h1.1m2.4 0h1.1m6.4 0h1.1m-.1 0h1.1m-.1 0h1.1m-.1 0h1.1m.9 0h1.1m1.4 0h1.1m.4 0h1.1m-.1 0h1.1m3.9 0h1.1m-1.1 0h1.1m.4 0h1.1m-.6 0h1.1m2.4 0h1.1m-.6 0h1.1m-.6 0h1.1m-31.1 .5h1.1m1.4 0h1.1m.9 0h1.1m1.4 0h1.1m.4 0h1.1m2.9 0h1.1m-.1 0h1.1m-1.1 0h1.1m1.9 0h1.1m-.6 0h1.1m-.6 0h1.1m-.6 0h1.1m-1.1 0h1.1m2.4 0h1.1m2.4 0h1.1m-1.1 0h1.1m-1.1 0h1.1m-.1 0h1.1m.4 0h1.1m1.9 0h1.1m.4 0h1.1m-1.1 0h1.1m-38.6 .5h1.1m-.1 0h1.1m-1.1 0h1.1m2.9 0h1.1m.4 0h1.1m.4 0h1.1m8.9 0h1.1m.4 0h1.1m-.6 0h1.1m1.9 0h1.1m5.4 0h1.1m-.6 0h1.1m1.4 0h1.1m.4 0h1.1m-.1 0h1.1m-1.1 0h1.1m-.6 0h1.1m.9 0h1.1m-41.1 .5h1.1m-.6 0h1.1m.4 0h1.1m-.6 0h1.1m-.6 0h1.1m-.1 0h1.1m4.9 0h1.1m1.4 0h1.1m-.6 0h1.1m-.6 0h1.1m1.4 0h1.1m.4 0h1.1m-.1 0h1.1m-.6 0h1.1m-.1 0h1.1m-1.1 0h1.1m1.4 0h1.1m1.4 0h1.1m-1.1 0h1.1m4.9 0h1.1m-1.1 0h1.1m-.1 0h1.1m-.6 0h1.1m-1.1 0h1.1m.4 0h1.1m-1.1 0h1.1m-.6 0h1.1m3.9 0h1.1m-37.6 .5h1.1m3.9 0h1.1m1.4 0h1.1m.4 0h1.1m1.9 0h1.1m3.9 0h1.1m-1.1 0h1.1m-.6 0h1.1m-.6 0h1.1m.9 0h1.1m4.4 0h1.1m-1.1 0h1.1m.9 0h1.1m-1.1 0h1.1m-1.1 0h1.1m-.6 0h1.1m-1.1 0h1.1m-.6 0h1.1m-.6 0h1.1m2.9 0h1.1m-.6 0h1.1m-.6 0h1.1m.4 0h1.1m-27.6 .5h1.1m-.1 0h1.1m-.6 0h1.1m1.4 0h1.1m.4 0h1.1m-.1 0h1.1m.4 0h1.1m.4 0h1.1m-.1 0h1.1m-.6 0h1.1m4.9 0h1.1m-.6 0h1.1m1.9 0h1.1m-.6 0h1.1m-.6 0h1.1m-.1 0h1.1m-.6 0h1.1m.9 0h1.1m-36.1 .5h1.1m6.9 0h1.1m1.4 0h1.1m1.4 0h1.1m.4 0h1.1m-.6 0h1.1m-.6 0h1.1m-.6 0h1.1m-.1 0h1.1m-.6 0h1.1m-.1 0h1.1m3.9 0h1.1m-.6 0h1.1m3.9 0h1.1m-.6 0h1.1m-.6 0h1.1m.9 0h1.1m.9 0h1.1m-.6 0h1.1m-.6 0h1.1m.9 0h1.1m-34.6 .5h1.1m5.4 0h1.1m-.1 0h1.1m-.6 0h1.1m.9 0h1.1m-1.1 0h1.1m-.1 0h1.1m.9 0h1.1m1.4 0h1.1m-.6 0h1.1m1.4 0h1.1m.9 0h1.1m.9 0h1.1m1.9 0h1.1m.4 0h1.1m.4 0h1.1m.4 0h1.1m2.4 0h1.1m-39.6 .5h1.1m-.1 0h1.1m4.9 0h1.1m.9 0h1.1m4.9 0h1.1m1.9 0h1.1m5.4 0h1.1m-.1 0h1.1m-.1 0h1.1m.9 0h1.1m-.6 0h1.1m-.1 0h1.1m-.6 0h1.1m.4 0h1.1m.4 0h1.1m-.6 0h1.1m.9 0h1.1m.4 0h1.1m-1.1 0h1.1m-.1 0h1.1m-.6 0h1.1m-36.6 .5h1.1m1.4 0h1.1m-1.1 0h1.1m8.4 0h1.1m-1.1 0h1.1m1.9 0h1.1m-.1 0h1.1m-.1 0h1.1m-.1 0h1.1m1.4 0h1.1m3.9 0h1.1m.4 0h1.1m1.4 0h1.1m.9 0h1.1m-1.1 0h1.1m-.6 0h1.1m-.6 0h1.1m-.1 0h1.1m-1.1 0h1.1m-24.6 .5h1.1m3.9 0h1.1m2.4 0h1.1m-1.1 0h1.1m6.4 0h1.1m.9 0h1.1m-.6 0h1.1m2.9 0h1.1m-.6 0h1.1m-28.1 .5h1.1m2.9 0h1.1m.9 0h1.1m-.6 0h1.1m-.1 0h1.1m1.4 0h1.1m1.9 0h1.1m.4 0h1.1m-1.1 0h1.1m-.1 0h1.1m.4 0h1.1m-.1 0h1.1m-.1 0h1.1m3.4 0h1.1m1.4 0h1.1m.9 0h1.1m1.4 0h1.1m-35.6 .5h1.1m5.4 0h1.1m9.9 0h1.1m1.9 0h1.1m3.4 0h1.1m-1.1 0h1.1m1.4 0h1.1m3.9 0h1.1m-.6 0h1.1m-1.1 0h1.1m-27.1 .5h1.1m1.4 0h1.1m1.4 0h1.1m-.6 0h1.1m-.1 0h1.1m-1.1 0h1.1m1.4 0h1.1m-1.1 0h1.1m-.6 0h1.1m-.6 0h1.1m.4 0h1.1m-.6 0h1.1m-1.1 0h1.1m-1.1 0h1.1m-.6 0h1.1m-1.1 0h1.1m-.1 0h1.1m-.1 0h1.1m-.6 0h1.1m1.4 0h1.1m.9 0h1.1m-.6 0h1.1m.4 0h1.1m.9 0h1.1m1.9 0h1.1m-31.1 .5h1.1m8.4 0h1.1m-.6 0h1.1m4.4 0h1.1m1.9 0h1.1m.4 0h1.1m-1.1 0h1.1m-.1 0h1.1m-1.1 0h1.1m-1.1 0h1.1m-.1 0h1.1m-.6 0h1.1m.9 0h1.1m.9 0h1.1m1.4 0h1.1m-.6 0h1.1m-34.1 .5h1.1m-.6 0h1.1m2.9 0h1.1m3.9 0h1.1m.4 0h1.1m-.1 0h1.1m-.6 0h1.1m1.4 0h1.1m-.6 0h1.1m-.1 0h1.1m5.9 0h1.1m-.6 0h1.1m.4 0h1.1m-.6 0h1.1m-1.1 0h1.1m4.4 0h1.1m-1.1 0h1.1m-1.1 0h1.1m.4 0h1.1m-26.6 .5h1.1m-.1 0h1.1m.4 0h1.1m-.1 0h1.1m3.4 0h1.1m-1.1 0h1.1m5.4 0h1.1m.4 0h1.1m-.6 0h1.1m-.1 0h1.1m-.1 0h1.1m-1.1 0h1.1m-.6 0h1.1m-.1 0h1.1m-.6 0h1.1m-.6 0h1.1m-.1 0h1.1m-1.1 0h1.1m-.6 0h1.1m-.6 0h1.1m-.1 0h1.1m.4 0h1.1m-33.6 .5h1.1m.9 0h1.1m11.4 0h1.1m-.6 0h1.1m-.1 0h1.1m3.4 0h1.1m1.9 0h1.1m-.6 0h1.1m-.1 0h1.1m-.1 0h1.1m-.6 0h1.1m-.6 0h1.1m.4 0h1.1m-.6 0h1.1m.9 0h1.1m-1.1 0h1.1m-.1 0h1.1m-.6 0h1.1m-1.1 0h1.1m-.6 0h1.1m-29.6 .5h1.1m.9 0h1.1m3.4 0h1.1m3.4 0h1.1m-.1 0h1.1m2.9 0h1.1m-.6 0h1.1m.4 0h1.1m.4 0h1.1m-1.1 0h1.1m-.6 0h1.1m-1.1 0h1.1m.4 0h1.1m-.6 0h1.1m1.9 0h1.1m-.6 0h1.1m1.9 0h1.1m-1.1 0h1.1m-28.1 .5h1.1m5.4 0h1.1m-.1 0h1.1m-.1 0h1.1m-.1 0h1.1m-.1 0h1.1m.4 0h1.1m-.1 0h1.1m-.6 0h1.1m-.6 0h1.1m-.1 0h1.1m-1.1 0h1.1m3.4 0h1.1m.9 0h1.1m1.4 0h1.1m.9 0h1.1m-1.1 0h1.1m.9 0h1.1m-.6 0h1.1m-33.6 .5h1.1m1.4 0h1.1m-.6 0h1.1m4.4 0h1.1m1.4 0h1.1m1.9 0h1.1m.4 0h1.1m-.1 0h1.1m-.6 0h1.1m-.1 0h1.1m.9 0h1.1m-.6 0h1.1m-.6 0h1.1m2.9 0h1.1m-.6 0h1.1m-.1 0h1.1m1.9 0h1.1m.4 0h1.1m-.6 0h1.1m.4 0h1.1m-20.6 .5h1.1m-.1 0h1.1m-.1 0h1.1m-1.1 0h1.1m2.9 0h1.1m-.1 0h1.1m1.4 0h1.1m-1.1 0h1.1m-.1 0h1.1m.9 0h1.1m-.6 0h1.1m.4 0h1.1m-.1 0h1.1m2.4 0h1.1m-21.6 .5h1.1m2.9 0h1.1m.4 0h1.1m.4 0h1.1m.4 0h1.1m.9 0h1.1m2.9 0h1.1m-1.1 0h1.1m3.4 0h1.1m-.6 0h1.1m-27.1 .5h1.1m.4 0h1.1m.9 0h1.1m.9 0h1.1m.4 0h1.1m5.4 0h1.1m.9 0h1.1m.4 0h1.1m-.6 0h1.1m.4 0h1.1m-1.1 0h1.1m1.4 0h1.1m-.6 0h1.1m-.6 0h1.1m-1.1 0h1.1m1.4 0h1.1m-27.6 .5h1.1m-.1 0h1.1m3.4 0h1.1m.4 0h1.1m-.1 0h1.1m-.1 0h1.1m-.6 0h1.1m.9 0h1.1m-.6 0h1.1m.4 0h1.1m-.1 0h1.1m.4 0h1.1m3.4 0h1.1m-1.1 0h1.1m-.1 0h1.1m.4 0h1.1m-.6 0h1.1m-1.1 0h1.1m-.6 0h1.1m.9 0h1.1m-29.6 .5h1.1m1.9 0h1.1m1.4 0h1.1m-1.1 0h1.1m-.6 0h1.1m2.9 0h1.1m.4 0h1.1m8.4 0h1.1m.9 0h1.1m-.6 0h1.1m2.4 0h1.1m.9 0h1.1m-.1 0h1.1m-1.1 0h1.1m-23.1 .5h1.1m-.6 0h1.1m1.9 0h1.1m5.4 0h1.1m-1.1 0h1.1m4.4 0h1.1m-.6 0h1.1m-14.1 .5h1.1m-.1 0h1.1m.4 0h1.1m2.4 0h1.1m.9 0h1.1m-.6 0h1.1m-.6 0h1.1m.9 0h1.1m-16.6 .5h1.1m2.9 0h1.1m2.9 0h1.1m-.1 0h1.1m1.4 0h1.1m-.6 0h1.1m3.4 0h1.1m.9 0h1.1m.4 0h1.1m1.4 0h1.1m-.6 0h1.1m-22.6 .5h1.1m1.4 0h1.1m.9 0h1.1m.4 0h1.1m-.1 0h1.1m-.1 0h1.1m.9 0h1.1m-.1 0h1.1m-.6 0h1.1m-1.1 0h1.1m-.6 0h1.1m3.9 0h1.1m-.1 0h1.1m-.6 0h1.1m-.6 0h1.1m-.6 0h1.1m.9 0h1.1m-1.1 0h1.1m-24.6 .5h1.1m4.9 0h1.1m3.9 0h1.1m.9 0h1.1m.4 0h1.1m-.1 0h1.1m.4 0h1.1m-1.1 0h1.1m.4 0h1.1m3.9 0h1.1m-.6 0h1.1m-24.6 .5h1.1m1.4 0h1.1m.9 0h1.1m.9 0h1.1m13.9 0h1.1m1.4 0h1.1m-1.1 0h1.1m-24.6 .5h1.1m.9 0h1.1m1.4 0h1.1m-.1 0h1.1m-.6 0h1.1m1.4 0h1.1m3.4 0h1.1m1.9 0h1.1m-1.1 0h1.1m-1.1 0h1.1m-.6 0h1.1m1.4 0h1.1m.4 0h1.1m.9 0h1.1m-.6 0h1.1m-23.6 .5h1.1m.4 0h1.1m-.6 0h1.1m-.1 0h1.1m1.9 0h1.1m-.6 0h1.1m-.6 0h1.1m-.1 0h1.1m1.4 0h1.1m-.1 0h1.1m-.6 0h1.1m.9 0h1.1m-.6 0h1.1m-.6 0h1.1m-.6 0h1.1m.4 0h1.1m-.1 0h1.1m-.6 0h1.1m2.4 0h1.1m-20.6 .5h1.1m-1.1 0h1.1m2.9 0h1.1m-1.1 0h1.1m-.6 0h1.1m-.6 0h1.1m2.4 0h1.1m4.4 0h1.1m-1.1 0h1.1m-.6 0h1.1m2.4 0h1.1m-.1 0h1.1m-.6 0h1.1m-1.1 0h1.1m-20.6 .5h1.1m6.4 0h1.1m-.6 0h1.1m3.9 0h1.1m-.1 0h1.1m-.6 0h1.1m2.9 0h1.1m-.1 0h1.1m-1.1 0h1.1m-22.6 .5h1.1m5.9 0h1.1m1.9 0h1.1m2.4 0h1.1m3.9 0h1.1m-.1 0h1.1m-.6 0h1.1m-.6 0h1.1m-21.6 .5h1.1m2.4 0h1.1m.9 0h1.1m6.9 0h1.1m.9 0h1.1m-.1 0h1.1m-.1 0h1.1m1.4 0h1.1m-12.6 .5h1.1m-.6 0h1.1m-.6 0h1.1m-.6 0h1.1m2.9 0h1.1m-.1 0h1.1m-.6 0h1.1m-.1 0h1.1m-.1 0h1.1m-.6 0h1.1m-.6 0h1.1m.9 0h1.1m-.6 0h1.1m-.6 0h1.1m-.6 0h1.1m-.1 0h1.1m-18.6 .5h1.1m-.6 0h1.1m1.4 0h1.1m2.4 0h1.1m2.4 0h1.1m-.6 0h1.1m-.1 0h1.1m-.1 0h1.1m-.6 0h1.1m1.4 0h1.1m-13.1 .5h1.1m.4 0h1.1m.9 0h1.1m.9 0h1.1m-.6 0h1.1m-1.1 0h1.1m-1.1 0h1.1m.9 0h1.1m-.1 0h1.1m-1.1 0h1.1m.4 0h1.1m-.6 0h1.1m-1.1 0h1.1m-11.6 .5h1.1m-1.1 0h1.1m3.4 0h1.1m.4 0h1.1m-.1 0h1.1m-.6 0h1.1m2.4 0h1.1m-10.1 .5h1.1m.9 0h1.1m4.4 0h1.1m-.1 0h1.1m-8.6 .5h1.1m-.6 0h1.1m-.1 0h1.1m-.1 0h1.1m2.9 0h1.1m.9 0h1.1m-.6 0h1.1m-17.1 .5h1.1m2.9 0h1.1m.9 0h1.1m.9 0h1.1m-.1 0h1.1m3.4 0h1.1m-.1 0h1.1m-14.6 .5h1.1m-.1 0h1.1m-.1 0h1.1m2.4 0h1.1m-5.6 .5h1.1m-1.1 0h1.1m-.1 0h1.1m.9 0h1.1m2.9 0h1.1m-.1 0h1.1m1.4 0h1.1m-.1 0h1.1m-.6 0h1.1m.9 0h1.1m.4 0h1.1m-16.6 .5h1.1m1.4 0h1.1m2.9 0h1.1m1.4 0h1.1m-.6 0h1.1m.9 0h1.1m.9 0h1.1m-14.1 .5h1.1m.4 0h1.1m4.9 0h1.1m-.6 0h1.1m.9 0h1.1m-.1 0h1.1m-.6 0h1.1m-10.6 .5h1.1m-.1 0h1.1m-1.1 0h1.1m.4 0h1.1m-1.1 0h1.1m1.4 0h1.1m4.9 0h1.1m-1.1 0h1.1m-11.6 .5h1.1m2.9 0h1.1m-1.1 0h1.1m.9 0h1.1m-.6 0h1.1m.4 0h1.1m-.1 0h1.1m-1.1 0h1.1m.9 0h1.1m-12.6 .5h1.1m-.1 0h1.1m1.4 0h1.1m1.4 0h1.1m-.1 0h1.1m-10.6 .5h1.1m5.9 0h1.1m-.6 0h1.1m-.1 0h1.1m-.6 0h1.1m-.6 0h1.1m.9 0h1.1m.9 0h1.1m-9.6 .5h1.1m-.6 0h1.1m.9 0h1.1m.9 0h1.1m.9 0h1.1m1.4 0h1.1m-9.1 .5h1.1m1.9 0h1.1m-.6 0h1.1m.4 0h1.1m.9 0h1.1m-14.6 .5h1.1m2.9 0h1.1m4.9 0h1.1m-.1 0h1.1m-.1 0h1.1m-1.1 0h1.1m-.1 0h1.1m-6.6 .5h1.1m-.6 0h1.1m2.4 0h1.1m1.9 0h1.1m-9.1 .5h1.1m-2.1 .5h1.1m-.6 0h1.1m-.1 0h1.1m-.6 0h1.1m.4 0h1.1m1.4 0h1.1m-1.1 0h1.1m.4 0h1.1m-1.1 0h1.1m-3.6 .5h1.1m1.9 0h1.1m-.6 0h1.1m-.6 0h1.1m-.6 0h1.1m-1.1 0h1.1m-1.6 .5h1.1m-1.1 0h1.1m-12.1 .5h1.1m4.9 0h1.1m.4 0h1.1m1.9 0h1.1m-11.1 .5h1.1m2.4 0h1.1m.9 0h1.1m2.9 0h1.1m-5.6 .5h1.1m2.9 0h1.1m-7.1 .5h1.1m-.6 0h1.1m.4 0h1.1m-.6 0h1.1m2.9 0h1.1m-.6 0h1.1m-.6 0h1.1m-7.1 .5h1.1m2.4 0h1.1m1.4 0h1.1m-8.6 .5h1.1m4.4 0h1.1m-.6 0h1.1m-4.6 .5h1.1m-1.1 0h1.1m3.9 0h1.1m-5.6 .5h1.1m1.9 0h1.1m-.1 0h1.1m-5.6 .5h1.1m.4 0h1.1m.4 0h1.1m-.6 0h1.1m-.1 0h1.1m-.6 0h1.1m-.1 0h1.1m-3.1 .5h1.1m-1.6 1.5h1.1m-1.6 .5h1.1m.4 .5h1.1m-.1 0h1.1m-.6 .5h1.1m-.6 1h1.1m-1.1 2h1.1" stroke="#1d1dff" stroke-width="1.1" fill="none"/>
<text x="494.90" y="247.60" font-size="10.4" font-weight="bold" fill="#ff2414" textLength="51.50" lengthAdjust="spacingAndGlyphs"><tspan font-style="italic">cis</tspan><tspan>-1,2-DCE</tspan></text>
<text x="565.00" y="246.00" font-size="10.4" font-weight="bold" fill="#7b1c93" textLength="37.10" lengthAdjust="spacingAndGlyphs"><tspan>1,1-DCE</tspan></text>
<text x="518.90" y="320.40" font-size="10.4" font-weight="bold" fill="#2e8c22" textLength="75.40" lengthAdjust="spacingAndGlyphs"><tspan font-style="italic">twisted</tspan><tspan>-1,2-DCE</tspan></text>
<text x="577.40" y="351.60" font-size="10.4" font-weight="bold" fill="#1d1dff" textLength="64.00" lengthAdjust="spacingAndGlyphs"><tspan font-style="italic">trans</tspan><tspan>-1,2-DCE</tspan></text>
<text x="525.90" y="360.90" font-size="13.2" font-weight="bold" textLength="16.20" lengthAdjust="spacingAndGlyphs">(e)</text>
<text x="489.00" y="318.90" font-size="9.68" text-anchor="middle" textLength="5.60" lengthAdjust="spacingAndGlyphs">0</text>
<text x="497.90" y="333.30" font-size="9.68" text-anchor="middle" textLength="11.20" lengthAdjust="spacingAndGlyphs">45</text>
<text x="505.90" y="348.30" font-size="9.68" text-anchor="middle" textLength="11.20" lengthAdjust="spacingAndGlyphs">90</text>
<text x="515.80" y="364.30" font-size="9.68" text-anchor="middle" textLength="16.80" lengthAdjust="spacingAndGlyphs">135</text>
<text x="525.40" y="381.70" font-size="9.68" text-anchor="middle" textLength="16.80" lengthAdjust="spacingAndGlyphs">180</text>
<text x="555.20" y="381.80" font-size="9.68" text-anchor="middle" textLength="11.20" lengthAdjust="spacingAndGlyphs">90</text>
<text x="603.50" y="371.70" font-size="9.68" text-anchor="middle" textLength="16.80" lengthAdjust="spacingAndGlyphs">135</text>
<text x="649.70" y="362.60" font-size="9.68" text-anchor="middle" textLength="16.80" lengthAdjust="spacingAndGlyphs">180</text>
<text x="658.40" y="355.20" font-size="9.68" textLength="5.60" lengthAdjust="spacingAndGlyphs">0</text>
<text x="658.40" y="336.60" font-size="9.68" textLength="11.20" lengthAdjust="spacingAndGlyphs">45</text>
<text x="658.40" y="316.50" font-size="9.68" textLength="11.20" lengthAdjust="spacingAndGlyphs">90</text>
<text x="658.40" y="297.30" font-size="9.68" textLength="16.80" lengthAdjust="spacingAndGlyphs">135</text>
<text x="658.40" y="276.80" font-size="9.68" textLength="16.80" lengthAdjust="spacingAndGlyphs">180</text>
<text x="0" y="0" font-size="11.00" fill="#262626" text-anchor="middle" textLength="64.50" lengthAdjust="spacingAndGlyphs" transform="translate(600.60 383.60) rotate(-14.3)"><tspan font-style="italic">θ</tspan><tspan font-size="7.70" dy="1.6">56</tspan><tspan dy="-1.6"> (degrees)</tspan></text>
<text x="0" y="0" font-size="11.00" fill="#262626" text-anchor="middle" textLength="62.00" lengthAdjust="spacingAndGlyphs" transform="translate(495.20 356.80) rotate(59.5)"><tspan font-style="italic">θ</tspan><tspan font-size="7.70" dy="1.6">12</tspan><tspan dy="-1.6"> (degrees)</tspan></text>
<text x="0" y="0" font-size="11.00" fill="#262626" text-anchor="middle" textLength="75.50" lengthAdjust="spacingAndGlyphs" transform="translate(679.80 310.20) rotate(-90)"><tspan font-style="italic">ϕ</tspan><tspan font-size="7.70" dy="1.6">1256</tspan><tspan dy="-1.6"> (degrees)</tspan></text>
<path d="M36.00 38.30C37.25 37.73 39.33 37.62 41.00 37.60C42.67 37.58 44.57 37.80 46.00 38.20C47.43 38.60 48.77 39.03 49.60 40.00C50.43 40.97 50.72 42.50 51.00 44.00C51.28 45.50 51.28 47.33 51.30 49.00C51.32 50.67 51.35 52.40 51.10 54.00C50.85 55.60 50.48 57.17 49.80 58.60C49.12 60.03 47.95 61.33 47.00 62.60C46.05 63.87 45.05 66.17 44.10 66.20C43.15 66.23 42.22 63.97 41.30 62.80C40.38 61.63 39.45 60.50 38.60 59.20C37.75 57.90 36.92 56.53 36.20 55.00C35.48 53.47 34.82 51.67 34.30 50.00C33.78 48.33 33.23 46.50 33.10 45.00C32.97 43.50 33.02 42.12 33.50 41.00C33.98 39.88 34.75 38.87 36.00 38.30Z" fill="#378c1e"/>
<ellipse cx="137.4" cy="27.4" rx="8.2" ry="20.6" transform="rotate(12.6 137.4 27.4)" fill="#7a1a8a"/>
<rect x="136.5" y="24.5" width="0.9" height="0.9" fill="#fff" opacity="0.8"/>
<rect x="138.2" y="26.2" width="0.9" height="0.9" fill="#fff" opacity="0.8"/>
<rect x="137.2" y="28.4" width="0.9" height="0.9" fill="#fff" opacity="0.8"/>
<rect x="139.1" y="25.5" width="0.9" height="0.9" fill="#fff" opacity="0.8"/>
<rect x="135.8" y="27.2" width="0.9" height="0.9" fill="#fff" opacity="0.8"/>
<path d="M84.0 0 a24.5 13.5 0 1 0 49 0 a24.5 13.5 0 1 0 -49 0 Z M88.7 0.2 a19.8 10.6 0 1 0 39.6 0 a19.8 10.6 0 1 0 -39.6 0 Z" transform="rotate(-20 108.5 107) translate(0 107)" fill="#1a1aff" fill-rule="evenodd"/>
<ellipse cx="213.1" cy="124.3" rx="4.7" ry="21.8" transform="rotate(10.6 213.1 124.3)" fill="#ff1f0f"/>
<line x1="36.70" y1="30.50" x2="34.55" y2="25.90" stroke="#777" stroke-width="1.6"/>
<line x1="34.55" y1="25.90" x2="32.40" y2="21.30" stroke="#3ccc1c" stroke-width="1.6"/>
<line x1="36.70" y1="30.50" x2="33.05" y2="33.95" stroke="#777" stroke-width="1.6"/>
<line x1="33.05" y1="33.95" x2="29.40" y2="37.40" stroke="#ccc" stroke-width="1.6"/>
<line x1="36.70" y1="30.50" x2="42.80" y2="30.10" stroke="#999" stroke-width="2.2"/>
<line x1="42.80" y1="30.10" x2="48.90" y2="29.70" stroke="#999" stroke-width="2.2"/>
<line x1="48.90" y1="29.70" x2="49.30" y2="26.05" stroke="#777" stroke-width="1.6"/>
<line x1="49.30" y1="26.05" x2="49.70" y2="22.40" stroke="#ccc" stroke-width="1.6"/>
<line x1="48.90" y1="29.70" x2="62.70" y2="38.50" stroke="#b8b8b8" stroke-width="0.9"/>
<circle cx="29.40" cy="37.40" r="2.6" fill="url(#gH)"/>
<circle cx="49.70" cy="22.40" r="2.6" fill="url(#gH)"/>
<circle cx="32.40" cy="21.30" r="4.2" fill="url(#gCl)"/>
<circle cx="36.70" cy="30.50" r="3.8" fill="url(#gC)"/>
<circle cx="48.90" cy="29.70" r="3.8" fill="url(#gC)"/>
<circle cx="62.70" cy="38.50" r="4.2" fill="url(#gCl)"/>
<line x1="134.70" y1="52.00" x2="128.90" y2="48.40" stroke="#222" stroke-width="2.0"/>
<line x1="128.90" y1="48.40" x2="123.10" y2="44.80" stroke="#3ccc1c" stroke-width="2.0"/>
<line x1="134.70" y1="52.00" x2="140.55" y2="48.40" stroke="#222" stroke-width="2.0"/>
<line x1="140.55" y1="48.40" x2="146.40" y2="44.80" stroke="#3ccc1c" stroke-width="2.0"/>
<line x1="134.70" y1="52.00" x2="134.70" y2="56.95" stroke="#222" stroke-width="2.4"/>
<line x1="134.70" y1="56.95" x2="134.70" y2="61.90" stroke="#222" stroke-width="2.4"/>
<line x1="134.70" y1="61.90" x2="130.95" y2="64.30" stroke="#222" stroke-width="2.0"/>
<line x1="130.95" y1="64.30" x2="127.20" y2="66.70" stroke="#ccc" stroke-width="2.0"/>
<line x1="134.70" y1="61.90" x2="137.85" y2="64.30" stroke="#222" stroke-width="2.0"/>
<line x1="137.85" y1="64.30" x2="141.00" y2="66.70" stroke="#ccc" stroke-width="2.0"/>
<circle cx="123.10" cy="44.80" r="3.4" fill="url(#gCl)"/>
<circle cx="146.40" cy="44.80" r="3.4" fill="url(#gCl)"/>
<circle cx="134.70" cy="52.00" r="3.0" fill="url(#gK)"/>
<circle cx="134.70" cy="61.90" r="3.0" fill="url(#gK)"/>
<circle cx="127.20" cy="66.70" r="2.8" fill="url(#gH)"/>
<circle cx="141.00" cy="66.70" r="2.8" fill="url(#gH)"/>
<line x1="140.10" y1="112.50" x2="138.15" y2="108.95" stroke="#222" stroke-width="2.0"/>
<line x1="138.15" y1="108.95" x2="136.20" y2="105.40" stroke="#ccc" stroke-width="2.0"/>
<line x1="140.10" y1="112.50" x2="147.10" y2="112.80" stroke="#222" stroke-width="2.0"/>
<line x1="147.10" y1="112.80" x2="154.10" y2="113.10" stroke="#3ccc1c" stroke-width="2.0"/>
<line x1="140.10" y1="112.50" x2="137.55" y2="117.30" stroke="#222" stroke-width="2.4"/>
<line x1="137.55" y1="117.30" x2="135.00" y2="122.10" stroke="#222" stroke-width="2.4"/>
<line x1="135.00" y1="122.10" x2="128.25" y2="121.45" stroke="#222" stroke-width="2.0"/>
<line x1="128.25" y1="121.45" x2="121.50" y2="120.80" stroke="#3ccc1c" stroke-width="2.0"/>
<line x1="135.00" y1="122.10" x2="136.90" y2="125.30" stroke="#222" stroke-width="2.0"/>
<line x1="136.90" y1="125.30" x2="138.80" y2="128.50" stroke="#ccc" stroke-width="2.0"/>
<circle cx="136.20" cy="105.40" r="3.0" fill="url(#gH)"/>
<circle cx="138.80" cy="128.50" r="3.0" fill="url(#gH)"/>
<circle cx="140.10" cy="112.50" r="3.3" fill="url(#gK)"/>
<circle cx="135.00" cy="122.10" r="3.3" fill="url(#gK)"/>
<circle cx="154.10" cy="113.10" r="3.6" fill="url(#gCl)"/>
<circle cx="121.50" cy="120.80" r="3.6" fill="url(#gCl)"/>
<line x1="183.30" y1="123.20" x2="179.30" y2="116.30" stroke="#222" stroke-width="2.0"/>
<line x1="179.30" y1="116.30" x2="175.30" y2="109.40" stroke="#3ccc1c" stroke-width="2.0"/>
<line x1="196.00" y1="123.20" x2="200.35" y2="116.30" stroke="#222" stroke-width="2.0"/>
<line x1="200.35" y1="116.30" x2="204.70" y2="109.40" stroke="#3ccc1c" stroke-width="2.0"/>
<line x1="183.30" y1="123.20" x2="189.65" y2="123.20" stroke="#222" stroke-width="2.4"/>
<line x1="189.65" y1="123.20" x2="196.00" y2="123.20" stroke="#222" stroke-width="2.4"/>
<line x1="183.30" y1="123.20" x2="180.90" y2="126.85" stroke="#222" stroke-width="2.0"/>
<line x1="180.90" y1="126.85" x2="178.50" y2="130.50" stroke="#ccc" stroke-width="2.0"/>
<line x1="196.00" y1="123.20" x2="198.35" y2="126.85" stroke="#222" stroke-width="2.0"/>
<line x1="198.35" y1="126.85" x2="200.70" y2="130.50" stroke="#ccc" stroke-width="2.0"/>
<circle cx="175.30" cy="109.40" r="3.7" fill="url(#gCl)"/>
<circle cx="204.70" cy="109.40" r="3.7" fill="url(#gCl)"/>
<circle cx="183.30" cy="123.20" r="3.4" fill="url(#gK)"/>
<circle cx="196.00" cy="123.20" r="3.4" fill="url(#gK)"/>
<circle cx="178.50" cy="130.80" r="3.1" fill="url(#gH)"/>
<circle cx="200.70" cy="130.80" r="3.1" fill="url(#gH)"/>
<text x="28.90" y="75.90" font-size="9.0" font-weight="bold" fill="#3a8c22" textLength="75.30" lengthAdjust="spacingAndGlyphs"><tspan font-style="italic">twisted</tspan><tspan>-1,2-DCE</tspan></text>
<text x="146.90" y="39.00" font-size="9.0" font-weight="bold" fill="#7a1a8a" textLength="36.30" lengthAdjust="spacingAndGlyphs"><tspan>1,1-DCE</tspan></text>
<text x="65.30" y="132.40" font-size="9.0" font-weight="bold" fill="#1a1aff" textLength="63.30" lengthAdjust="spacingAndGlyphs"><tspan font-style="italic">trans</tspan><tspan>-1,2-DCE</tspan></text>
<text x="169.20" y="98.80" font-size="9.0" font-weight="bold" fill="#ff1f0f" textLength="52.00" lengthAdjust="spacingAndGlyphs"><tspan font-style="italic">cis</tspan><tspan>-1,2-DCE</tspan></text>
<line x1="29.80" y1="152.20" x2="29.80" y2="154.40" stroke="#555" stroke-width="0.8"/>
<text x="29.80" y="160.60" font-size="8.36" text-anchor="middle" textLength="16.04" lengthAdjust="spacingAndGlyphs">−10</text>
<line x1="64.20" y1="152.20" x2="64.20" y2="154.40" stroke="#555" stroke-width="0.8"/>
<text x="64.20" y="160.60" font-size="8.36" text-anchor="middle" textLength="11.20" lengthAdjust="spacingAndGlyphs">−5</text>
<line x1="98.60" y1="152.20" x2="98.60" y2="154.40" stroke="#555" stroke-width="0.8"/>
<text x="98.60" y="160.60" font-size="8.36" text-anchor="middle" textLength="4.84" lengthAdjust="spacingAndGlyphs">0</text>
<line x1="133.00" y1="152.20" x2="133.00" y2="154.40" stroke="#555" stroke-width="0.8"/>
<text x="133.00" y="160.60" font-size="8.36" text-anchor="middle" textLength="4.84" lengthAdjust="spacingAndGlyphs">5</text>
<line x1="167.40" y1="152.20" x2="167.40" y2="154.40" stroke="#555" stroke-width="0.8"/>
<text x="167.40" y="160.60" font-size="8.36" text-anchor="middle" textLength="9.67" lengthAdjust="spacingAndGlyphs">10</text>
<line x1="201.80" y1="152.20" x2="201.80" y2="154.40" stroke="#555" stroke-width="0.8"/>
<text x="201.80" y="160.60" font-size="8.36" text-anchor="middle" textLength="9.67" lengthAdjust="spacingAndGlyphs">15</text>
<line x1="21.50" y1="130.80" x2="23.70" y2="130.80" stroke="#555" stroke-width="0.8"/>
<text x="22.00" y="133.60" font-size="8.36" text-anchor="end" textLength="11.20" lengthAdjust="spacingAndGlyphs">−5</text>
<line x1="21.50" y1="105.90" x2="23.70" y2="105.90" stroke="#555" stroke-width="0.8"/>
<text x="22.00" y="108.70" font-size="8.36" text-anchor="end" textLength="4.84" lengthAdjust="spacingAndGlyphs">0</text>
<line x1="21.50" y1="81.00" x2="23.70" y2="81.00" stroke="#555" stroke-width="0.8"/>
<text x="22.00" y="83.80" font-size="8.36" text-anchor="end" textLength="4.84" lengthAdjust="spacingAndGlyphs">5</text>
<line x1="21.50" y1="56.10" x2="23.70" y2="56.10" stroke="#555" stroke-width="0.8"/>
<text x="22.00" y="58.90" font-size="8.36" text-anchor="end" textLength="9.67" lengthAdjust="spacingAndGlyphs">10</text>
<line x1="21.50" y1="31.20" x2="23.70" y2="31.20" stroke="#555" stroke-width="0.8"/>
<text x="22.00" y="34.00" font-size="8.36" text-anchor="end" textLength="9.67" lengthAdjust="spacingAndGlyphs">15</text>
<line x1="21.50" y1="6.30" x2="23.70" y2="6.30" stroke="#555" stroke-width="0.8"/>
<text x="22.00" y="9.10" font-size="8.36" text-anchor="end" textLength="9.67" lengthAdjust="spacingAndGlyphs">20</text>
<rect x="23.7" y="0.6" width="203.70000000000002" height="151.6" fill="none" stroke="#c4c4c4" stroke-width="1.1"/>
<text x="125.20" y="170.10" font-size="9" text-anchor="middle" textLength="85.50" lengthAdjust="spacingAndGlyphs">UMAP Dimension 1</text>
<text x="7.60" y="71.80" font-size="9" text-anchor="middle" textLength="79.00" lengthAdjust="spacingAndGlyphs" transform="rotate(-90 7.60 71.80)">UMAP Dimension 2</text>
<text x="34.30" y="144.90" font-size="13.2" font-weight="bold" textLength="16.20" lengthAdjust="spacingAndGlyphs">(a)</text>
<line x1="278.40" y1="124.80" x2="682.10" y2="124.80" stroke="#ebebeb" stroke-width="0.8"/>
<line x1="278.40" y1="98.50" x2="682.10" y2="98.50" stroke="#ebebeb" stroke-width="0.8"/>
<line x1="278.40" y1="72.20" x2="682.10" y2="72.20" stroke="#ebebeb" stroke-width="0.8"/>
<line x1="278.40" y1="45.90" x2="682.10" y2="45.90" stroke="#ebebeb" stroke-width="0.8"/>
<line x1="278.40" y1="19.60" x2="682.10" y2="19.60" stroke="#ebebeb" stroke-width="0.8"/>
<line x1="276.20" y1="151.10" x2="278.40" y2="151.10" stroke="#555" stroke-width="0.8"/>
<text x="276.20" y="154.30" font-size="9.68" text-anchor="end" textLength="19.59" lengthAdjust="spacingAndGlyphs">0.00</text>
<line x1="276.20" y1="124.80" x2="278.40" y2="124.80" stroke="#555" stroke-width="0.8"/>
<text x="276.20" y="128.00" font-size="9.68" text-anchor="end" textLength="19.59" lengthAdjust="spacingAndGlyphs">0.02</text>
<line x1="276.20" y1="98.50" x2="278.40" y2="98.50" stroke="#555" stroke-width="0.8"/>
<text x="276.20" y="101.70" font-size="9.68" text-anchor="end" textLength="19.59" lengthAdjust="spacingAndGlyphs">0.04</text>
<line x1="276.20" y1="72.20" x2="278.40" y2="72.20" stroke="#555" stroke-width="0.8"/>
<text x="276.20" y="75.40" font-size="9.68" text-anchor="end" textLength="19.59" lengthAdjust="spacingAndGlyphs">0.06</text>
<line x1="276.20" y1="45.90" x2="278.40" y2="45.90" stroke="#555" stroke-width="0.8"/>
<text x="276.20" y="49.10" font-size="9.68" text-anchor="end" textLength="19.59" lengthAdjust="spacingAndGlyphs">0.08</text>
<line x1="276.20" y1="19.60" x2="278.40" y2="19.60" stroke="#555" stroke-width="0.8"/>
<text x="276.20" y="22.80" font-size="9.68" text-anchor="end" textLength="19.59" lengthAdjust="spacingAndGlyphs">0.10</text>
<rect x="296.65" y="64.57" width="6.50" height="86.53" fill="#358a1f"/>
<line x1="299.90" y1="60.76" x2="299.90" y2="68.39" stroke="#111" stroke-width="1.1"/>
<line x1="297.30" y1="60.76" x2="302.50" y2="60.76" stroke="#111" stroke-width="1.1"/>
<line x1="297.30" y1="68.39" x2="302.50" y2="68.39" stroke="#111" stroke-width="1.1"/>
<rect x="304.85" y="149.00" width="6.50" height="2.10" fill="#358a1f"/>
<line x1="308.10" y1="148.47" x2="308.10" y2="149.52" stroke="#111" stroke-width="1.1"/>
<line x1="305.50" y1="148.47" x2="310.70" y2="148.47" stroke="#111" stroke-width="1.1"/>
<line x1="305.50" y1="149.52" x2="310.70" y2="149.52" stroke="#111" stroke-width="1.1"/>
<rect x="313.05" y="148.21" width="6.50" height="2.89" fill="#358a1f"/>
<line x1="316.30" y1="147.68" x2="316.30" y2="148.73" stroke="#111" stroke-width="1.1"/>
<line x1="313.70" y1="147.68" x2="318.90" y2="147.68" stroke="#111" stroke-width="1.1"/>
<line x1="313.70" y1="148.73" x2="318.90" y2="148.73" stroke="#111" stroke-width="1.1"/>
<rect x="321.26" y="150.71" width="6.50" height="0.39" fill="#358a1f"/>
<rect x="329.46" y="145.18" width="6.50" height="5.92" fill="#358a1f"/>
<line x1="332.71" y1="143.87" x2="332.71" y2="146.50" stroke="#111" stroke-width="1.1"/>
<line x1="330.11" y1="143.87" x2="335.31" y2="143.87" stroke="#111" stroke-width="1.1"/>
<line x1="330.11" y1="146.50" x2="335.31" y2="146.50" stroke="#111" stroke-width="1.1"/>
<rect x="337.66" y="145.18" width="6.50" height="5.92" fill="#358a1f"/>
<line x1="340.91" y1="143.87" x2="340.91" y2="146.50" stroke="#111" stroke-width="1.1"/>
<line x1="338.31" y1="143.87" x2="343.51" y2="143.87" stroke="#111" stroke-width="1.1"/>
<line x1="338.31" y1="146.50" x2="343.51" y2="146.50" stroke="#111" stroke-width="1.1"/>
<rect x="345.86" y="150.44" width="6.50" height="0.66" fill="#358a1f"/>
<rect x="354.06" y="145.18" width="6.50" height="5.92" fill="#358a1f"/>
<line x1="357.31" y1="143.87" x2="357.31" y2="146.50" stroke="#111" stroke-width="1.1"/>
<line x1="354.71" y1="143.87" x2="359.91" y2="143.87" stroke="#111" stroke-width="1.1"/>
<line x1="354.71" y1="146.50" x2="359.91" y2="146.50" stroke="#111" stroke-width="1.1"/>
<rect x="362.27" y="150.84" width="6.50" height="0.26" fill="#358a1f"/>
<rect x="370.47" y="149.00" width="6.50" height="2.10" fill="#358a1f"/>
<line x1="373.72" y1="148.47" x2="373.72" y2="149.52" stroke="#111" stroke-width="1.1"/>
<line x1="371.12" y1="148.47" x2="376.32" y2="148.47" stroke="#111" stroke-width="1.1"/>
<line x1="371.12" y1="149.52" x2="376.32" y2="149.52" stroke="#111" stroke-width="1.1"/>
<rect x="378.67" y="144.92" width="6.50" height="6.18" fill="#358a1f"/>
<line x1="381.92" y1="143.60" x2="381.92" y2="146.23" stroke="#111" stroke-width="1.1"/>
<line x1="379.32" y1="143.60" x2="384.52" y2="143.60" stroke="#111" stroke-width="1.1"/>
<line x1="379.32" y1="146.23" x2="384.52" y2="146.23" stroke="#111" stroke-width="1.1"/>
<rect x="386.87" y="147.55" width="6.50" height="3.55" fill="#358a1f"/>
<line x1="390.12" y1="146.50" x2="390.12" y2="148.60" stroke="#111" stroke-width="1.1"/>
<line x1="387.52" y1="146.50" x2="392.72" y2="146.50" stroke="#111" stroke-width="1.1"/>
<line x1="387.52" y1="148.60" x2="392.72" y2="148.60" stroke="#111" stroke-width="1.1"/>
<rect x="395.07" y="133.35" width="6.50" height="17.75" fill="#358a1f"/>
<line x1="398.32" y1="130.72" x2="398.32" y2="135.98" stroke="#111" stroke-width="1.1"/>
<line x1="395.72" y1="130.72" x2="400.92" y2="130.72" stroke="#111" stroke-width="1.1"/>
<line x1="395.72" y1="135.98" x2="400.92" y2="135.98" stroke="#111" stroke-width="1.1"/>
<rect x="403.28" y="150.84" width="6.50" height="0.26" fill="#358a1f"/>
<rect x="411.48" y="104.42" width="6.50" height="46.68" fill="#358a1f"/>
<line x1="414.73" y1="101.13" x2="414.73" y2="107.70" stroke="#111" stroke-width="1.1"/>
<line x1="412.13" y1="101.13" x2="417.33" y2="101.13" stroke="#111" stroke-width="1.1"/>
<line x1="412.13" y1="107.70" x2="417.33" y2="107.70" stroke="#111" stroke-width="1.1"/>
<rect x="419.68" y="31.04" width="6.50" height="120.06" fill="#7c1a8c"/>
<line x1="422.93" y1="26.44" x2="422.93" y2="35.64" stroke="#111" stroke-width="1.1"/>
<line x1="420.33" y1="26.44" x2="425.53" y2="26.44" stroke="#111" stroke-width="1.1"/>
<line x1="420.33" y1="35.64" x2="425.53" y2="35.64" stroke="#111" stroke-width="1.1"/>
<rect x="427.88" y="148.21" width="6.50" height="2.89" fill="#7c1a8c"/>
<line x1="431.13" y1="147.68" x2="431.13" y2="148.73" stroke="#111" stroke-width="1.1"/>
<line x1="428.53" y1="147.68" x2="433.73" y2="147.68" stroke="#111" stroke-width="1.1"/>
<line x1="428.53" y1="148.73" x2="433.73" y2="148.73" stroke="#111" stroke-width="1.1"/>
<rect x="436.08" y="134.27" width="6.50" height="16.83" fill="#7c1a8c"/>
<line x1="439.33" y1="132.30" x2="439.33" y2="136.24" stroke="#111" stroke-width="1.1"/>
<line x1="436.73" y1="132.30" x2="441.93" y2="132.30" stroke="#111" stroke-width="1.1"/>
<line x1="436.73" y1="136.24" x2="441.93" y2="136.24" stroke="#111" stroke-width="1.1"/>
<rect x="444.29" y="82.72" width="6.50" height="68.38" fill="#7c1a8c"/>
<line x1="447.54" y1="78.12" x2="447.54" y2="87.32" stroke="#111" stroke-width="1.1"/>
<line x1="444.94" y1="78.12" x2="450.14" y2="78.12" stroke="#111" stroke-width="1.1"/>
<line x1="444.94" y1="87.32" x2="450.14" y2="87.32" stroke="#111" stroke-width="1.1"/>
<rect x="452.49" y="26.83" width="6.50" height="124.27" fill="#7c1a8c"/>
<line x1="455.74" y1="22.23" x2="455.74" y2="31.44" stroke="#111" stroke-width="1.1"/>
<line x1="453.14" y1="22.23" x2="458.34" y2="22.23" stroke="#111" stroke-width="1.1"/>
<line x1="453.14" y1="31.44" x2="458.34" y2="31.44" stroke="#111" stroke-width="1.1"/>
<rect x="460.69" y="95.34" width="6.50" height="55.76" fill="#7c1a8c"/>
<line x1="463.94" y1="91.66" x2="463.94" y2="99.03" stroke="#111" stroke-width="1.1"/>
<line x1="461.34" y1="91.66" x2="466.54" y2="91.66" stroke="#111" stroke-width="1.1"/>
<line x1="461.34" y1="99.03" x2="466.54" y2="99.03" stroke="#111" stroke-width="1.1"/>
<rect x="468.89" y="120.99" width="6.50" height="30.11" fill="#7c1a8c"/>
<line x1="472.14" y1="118.36" x2="472.14" y2="123.62" stroke="#111" stroke-width="1.1"/>
<line x1="469.54" y1="118.36" x2="474.74" y2="118.36" stroke="#111" stroke-width="1.1"/>
<line x1="469.54" y1="123.62" x2="474.74" y2="123.62" stroke="#111" stroke-width="1.1"/>
<rect x="477.09" y="29.33" width="6.50" height="121.77" fill="#7c1a8c"/>
<line x1="480.34" y1="24.33" x2="480.34" y2="34.33" stroke="#111" stroke-width="1.1"/>
<line x1="477.74" y1="24.33" x2="482.94" y2="24.33" stroke="#111" stroke-width="1.1"/>
<line x1="477.74" y1="34.33" x2="482.94" y2="34.33" stroke="#111" stroke-width="1.1"/>
<rect x="485.30" y="74.57" width="6.50" height="76.53" fill="#7c1a8c"/>
<line x1="488.55" y1="70.23" x2="488.55" y2="78.91" stroke="#111" stroke-width="1.1"/>
<line x1="485.95" y1="70.23" x2="491.15" y2="70.23" stroke="#111" stroke-width="1.1"/>
<line x1="485.95" y1="78.91" x2="491.15" y2="78.91" stroke="#111" stroke-width="1.1"/>
<rect x="493.50" y="131.64" width="6.50" height="19.46" fill="#7c1a8c"/>
<line x1="496.75" y1="129.67" x2="496.75" y2="133.61" stroke="#111" stroke-width="1.1"/>
<line x1="494.15" y1="129.67" x2="499.35" y2="129.67" stroke="#111" stroke-width="1.1"/>
<line x1="494.15" y1="133.61" x2="499.35" y2="133.61" stroke="#111" stroke-width="1.1"/>
<rect x="501.70" y="140.05" width="6.50" height="11.05" fill="#7c1a8c"/>
<line x1="504.95" y1="138.74" x2="504.95" y2="141.37" stroke="#111" stroke-width="1.1"/>
<line x1="502.35" y1="138.74" x2="507.55" y2="138.74" stroke="#111" stroke-width="1.1"/>
<line x1="502.35" y1="141.37" x2="507.55" y2="141.37" stroke="#111" stroke-width="1.1"/>
<rect x="509.90" y="116.25" width="6.50" height="34.85" fill="#7c1a8c"/>
<line x1="513.15" y1="113.62" x2="513.15" y2="118.88" stroke="#111" stroke-width="1.1"/>
<line x1="510.55" y1="113.62" x2="515.75" y2="113.62" stroke="#111" stroke-width="1.1"/>
<line x1="510.55" y1="118.88" x2="515.75" y2="118.88" stroke="#111" stroke-width="1.1"/>
<rect x="518.10" y="112.18" width="6.50" height="38.92" fill="#7c1a8c"/>
<line x1="521.35" y1="109.15" x2="521.35" y2="115.20" stroke="#111" stroke-width="1.1"/>
<line x1="518.75" y1="109.15" x2="523.95" y2="109.15" stroke="#111" stroke-width="1.1"/>
<line x1="518.75" y1="115.20" x2="523.95" y2="115.20" stroke="#111" stroke-width="1.1"/>
<rect x="526.31" y="150.71" width="6.50" height="0.39" fill="#7c1a8c"/>
<rect x="534.51" y="24.86" width="6.50" height="126.24" fill="#7c1a8c"/>
<line x1="537.76" y1="19.86" x2="537.76" y2="29.86" stroke="#111" stroke-width="1.1"/>
<line x1="535.16" y1="19.86" x2="540.36" y2="19.86" stroke="#111" stroke-width="1.1"/>
<line x1="535.16" y1="29.86" x2="540.36" y2="29.86" stroke="#111" stroke-width="1.1"/>
<rect x="542.71" y="126.90" width="6.50" height="24.20" fill="#a72b2e"/>
<line x1="545.96" y1="124.54" x2="545.96" y2="129.27" stroke="#111" stroke-width="1.1"/>
<line x1="543.36" y1="124.54" x2="548.56" y2="124.54" stroke="#111" stroke-width="1.1"/>
<line x1="543.36" y1="129.27" x2="548.56" y2="129.27" stroke="#111" stroke-width="1.1"/>
<rect x="550.91" y="136.90" width="6.50" height="14.20" fill="#a72b2e"/>
<line x1="554.16" y1="134.93" x2="554.16" y2="138.87" stroke="#111" stroke-width="1.1"/>
<line x1="551.56" y1="134.93" x2="556.76" y2="134.93" stroke="#111" stroke-width="1.1"/>
<line x1="551.56" y1="138.87" x2="556.76" y2="138.87" stroke="#111" stroke-width="1.1"/>
<rect x="559.11" y="130.06" width="6.50" height="21.04" fill="#a72b2e"/>
<line x1="562.36" y1="127.96" x2="562.36" y2="132.16" stroke="#111" stroke-width="1.1"/>
<line x1="559.76" y1="127.96" x2="564.96" y2="127.96" stroke="#111" stroke-width="1.1"/>
<line x1="559.76" y1="132.16" x2="564.96" y2="132.16" stroke="#111" stroke-width="1.1"/>
<rect x="567.32" y="149.52" width="6.50" height="1.58" fill="#a72b2e"/>
<line x1="570.57" y1="149.13" x2="570.57" y2="149.92" stroke="#111" stroke-width="1.1"/>
<line x1="567.97" y1="149.13" x2="573.17" y2="149.13" stroke="#111" stroke-width="1.1"/>
<line x1="567.97" y1="149.92" x2="573.17" y2="149.92" stroke="#111" stroke-width="1.1"/>
<rect x="575.52" y="139.53" width="6.50" height="11.57" fill="#a72b2e"/>
<line x1="578.77" y1="138.21" x2="578.77" y2="140.84" stroke="#111" stroke-width="1.1"/>
<line x1="576.17" y1="138.21" x2="581.37" y2="138.21" stroke="#111" stroke-width="1.1"/>
<line x1="576.17" y1="140.84" x2="581.37" y2="140.84" stroke="#111" stroke-width="1.1"/>
<rect x="583.72" y="83.64" width="6.50" height="67.46" fill="#a72b2e"/>
<line x1="586.97" y1="79.04" x2="586.97" y2="88.24" stroke="#111" stroke-width="1.1"/>
<line x1="584.37" y1="79.04" x2="589.57" y2="79.04" stroke="#111" stroke-width="1.1"/>
<line x1="584.37" y1="88.24" x2="589.57" y2="88.24" stroke="#111" stroke-width="1.1"/>
<rect x="591.92" y="150.84" width="6.50" height="0.26" fill="#a72b2e"/>
<rect x="600.12" y="150.05" width="6.50" height="1.05" fill="#a72b2e"/>
<line x1="603.37" y1="149.78" x2="603.37" y2="150.31" stroke="#111" stroke-width="1.1"/>
<line x1="600.77" y1="149.78" x2="605.97" y2="149.78" stroke="#111" stroke-width="1.1"/>
<line x1="600.77" y1="150.31" x2="605.97" y2="150.31" stroke="#111" stroke-width="1.1"/>
<rect x="608.33" y="133.74" width="6.50" height="17.36" fill="#a72b2e"/>
<line x1="611.58" y1="131.64" x2="611.58" y2="135.85" stroke="#111" stroke-width="1.1"/>
<line x1="608.98" y1="131.64" x2="614.18" y2="131.64" stroke="#111" stroke-width="1.1"/>
<line x1="608.98" y1="135.85" x2="614.18" y2="135.85" stroke="#111" stroke-width="1.1"/>
<rect x="616.53" y="120.33" width="6.50" height="30.77" fill="#a72b2e"/>
<line x1="619.78" y1="117.96" x2="619.78" y2="122.70" stroke="#111" stroke-width="1.1"/>
<line x1="617.18" y1="117.96" x2="622.38" y2="117.96" stroke="#111" stroke-width="1.1"/>
<line x1="617.18" y1="122.70" x2="622.38" y2="122.70" stroke="#111" stroke-width="1.1"/>
<rect x="624.73" y="136.24" width="6.50" height="14.86" fill="#a72b2e"/>
<line x1="627.98" y1="134.40" x2="627.98" y2="138.08" stroke="#111" stroke-width="1.1"/>
<line x1="625.38" y1="134.40" x2="630.58" y2="134.40" stroke="#111" stroke-width="1.1"/>
<line x1="625.38" y1="138.08" x2="630.58" y2="138.08" stroke="#111" stroke-width="1.1"/>
<rect x="632.93" y="147.16" width="6.50" height="3.94" fill="#a72b2e"/>
<line x1="636.18" y1="146.37" x2="636.18" y2="147.94" stroke="#111" stroke-width="1.1"/>
<line x1="633.58" y1="146.37" x2="638.78" y2="146.37" stroke="#111" stroke-width="1.1"/>
<line x1="633.58" y1="147.94" x2="638.78" y2="147.94" stroke="#111" stroke-width="1.1"/>
<rect x="641.13" y="102.84" width="6.50" height="48.26" fill="#a72b2e"/>
<line x1="644.38" y1="99.95" x2="644.38" y2="105.73" stroke="#111" stroke-width="1.1"/>
<line x1="641.78" y1="99.95" x2="646.98" y2="99.95" stroke="#111" stroke-width="1.1"/>
<line x1="641.78" y1="105.73" x2="646.98" y2="105.73" stroke="#111" stroke-width="1.1"/>
<rect x="649.34" y="150.84" width="6.50" height="0.26" fill="#a72b2e"/>
<rect x="657.54" y="133.74" width="6.50" height="17.36" fill="#a72b2e"/>
<line x1="660.79" y1="131.64" x2="660.79" y2="135.85" stroke="#111" stroke-width="1.1"/>
<line x1="658.19" y1="131.64" x2="663.39" y2="131.64" stroke="#111" stroke-width="1.1"/>
<line x1="658.19" y1="135.85" x2="663.39" y2="135.85" stroke="#111" stroke-width="1.1"/>
<line x1="299.90" y1="151.10" x2="299.90" y2="153.10" stroke="#888" stroke-width="0.8"/>
<text x="302.90" y="154.60" font-size="9.24" text-anchor="end" textLength="10.69" lengthAdjust="spacingAndGlyphs" transform="rotate(-90 302.90 154.60)">12</text>
<line x1="308.10" y1="151.10" x2="308.10" y2="164.79" stroke="#c8c8c8" stroke-width="0.8"/>
<text x="311.10" y="165.79" font-size="9.24" text-anchor="end" textLength="10.69" lengthAdjust="spacingAndGlyphs" transform="rotate(-90 311.10 165.79)">13</text>
<line x1="316.30" y1="151.10" x2="316.30" y2="153.10" stroke="#888" stroke-width="0.8"/>
<text x="319.30" y="154.60" font-size="9.24" text-anchor="end" textLength="10.69" lengthAdjust="spacingAndGlyphs" transform="rotate(-90 319.30 154.60)">14</text>
<line x1="324.51" y1="151.10" x2="324.51" y2="164.79" stroke="#c8c8c8" stroke-width="0.8"/>
<text x="327.51" y="165.79" font-size="9.24" text-anchor="end" textLength="10.69" lengthAdjust="spacingAndGlyphs" transform="rotate(-90 327.51 165.79)">15</text>
<line x1="332.71" y1="151.10" x2="332.71" y2="153.10" stroke="#888" stroke-width="0.8"/>
<text x="335.71" y="154.60" font-size="9.24" text-anchor="end" textLength="10.69" lengthAdjust="spacingAndGlyphs" transform="rotate(-90 335.71 154.60)">16</text>
<line x1="340.91" y1="151.10" x2="340.91" y2="164.79" stroke="#c8c8c8" stroke-width="0.8"/>
<text x="343.91" y="165.79" font-size="9.24" text-anchor="end" textLength="10.69" lengthAdjust="spacingAndGlyphs" transform="rotate(-90 343.91 165.79)">23</text>
<line x1="349.11" y1="151.10" x2="349.11" y2="153.10" stroke="#888" stroke-width="0.8"/>
<text x="352.11" y="154.60" font-size="9.24" text-anchor="end" textLength="10.69" lengthAdjust="spacingAndGlyphs" transform="rotate(-90 352.11 154.60)">24</text>
<line x1="357.31" y1="151.10" x2="357.31" y2="164.79" stroke="#c8c8c8" stroke-width="0.8"/>
<text x="360.31" y="165.79" font-size="9.24" text-anchor="end" textLength="10.69" lengthAdjust="spacingAndGlyphs" transform="rotate(-90 360.31 165.79)">25</text>
<line x1="365.52" y1="151.10" x2="365.52" y2="153.10" stroke="#888" stroke-width="0.8"/>
<text x="368.52" y="154.60" font-size="9.24" text-anchor="end" textLength="10.69" lengthAdjust="spacingAndGlyphs" transform="rotate(-90 368.52 154.60)">26</text>
<line x1="373.72" y1="151.10" x2="373.72" y2="164.79" stroke="#c8c8c8" stroke-width="0.8"/>
<text x="376.72" y="165.79" font-size="9.24" text-anchor="end" textLength="10.69" lengthAdjust="spacingAndGlyphs" transform="rotate(-90 376.72 165.79)">34</text>
<line x1="381.92" y1="151.10" x2="381.92" y2="153.10" stroke="#888" stroke-width="0.8"/>
<text x="384.92" y="154.60" font-size="9.24" text-anchor="end" textLength="10.69" lengthAdjust="spacingAndGlyphs" transform="rotate(-90 384.92 154.60)">35</text>
<line x1="390.12" y1="151.10" x2="390.12" y2="164.79" stroke="#c8c8c8" stroke-width="0.8"/>
<text x="393.12" y="165.79" font-size="9.24" text-anchor="end" textLength="10.69" lengthAdjust="spacingAndGlyphs" transform="rotate(-90 393.12 165.79)">36</text>
<line x1="398.32" y1="151.10" x2="398.32" y2="153.10" stroke="#888" stroke-width="0.8"/>
<text x="401.32" y="154.60" font-size="9.24" text-anchor="end" textLength="10.69" lengthAdjust="spacingAndGlyphs" transform="rotate(-90 401.32 154.60)">45</text>
<line x1="406.53" y1="151.10" x2="406.53" y2="164.79" stroke="#c8c8c8" stroke-width="0.8"/>
<text x="409.53" y="165.79" font-size="9.24" text-anchor="end" textLength="10.69" lengthAdjust="spacingAndGlyphs" transform="rotate(-90 409.53 165.79)">46</text>
<line x1="414.73" y1="151.10" x2="414.73" y2="153.10" stroke="#888" stroke-width="0.8"/>
<text x="417.73" y="154.60" font-size="9.24" text-anchor="end" textLength="10.69" lengthAdjust="spacingAndGlyphs" transform="rotate(-90 417.73 154.60)">56</text>
<line x1="422.93" y1="151.10" x2="422.93" y2="164.79" stroke="#c8c8c8" stroke-width="0.8"/>
<text x="425.93" y="165.79" font-size="9.24" text-anchor="end" textLength="10.69" lengthAdjust="spacingAndGlyphs" transform="rotate(-90 425.93 165.79)">12</text>
<line x1="431.13" y1="151.10" x2="431.13" y2="153.10" stroke="#888" stroke-width="0.8"/>
<text x="434.13" y="154.60" font-size="9.24" text-anchor="end" textLength="10.69" lengthAdjust="spacingAndGlyphs" transform="rotate(-90 434.13 154.60)">13</text>
<line x1="439.33" y1="151.10" x2="439.33" y2="164.79" stroke="#c8c8c8" stroke-width="0.8"/>
<text x="442.33" y="165.79" font-size="9.24" text-anchor="end" textLength="10.69" lengthAdjust="spacingAndGlyphs" transform="rotate(-90 442.33 165.79)">14</text>
<line x1="447.54" y1="151.10" x2="447.54" y2="153.10" stroke="#888" stroke-width="0.8"/>
<text x="450.54" y="154.60" font-size="9.24" text-anchor="end" textLength="10.69" lengthAdjust="spacingAndGlyphs" transform="rotate(-90 450.54 154.60)">15</text>
<line x1="455.74" y1="151.10" x2="455.74" y2="164.79" stroke="#c8c8c8" stroke-width="0.8"/>
<text x="458.74" y="165.79" font-size="9.24" text-anchor="end" textLength="10.69" lengthAdjust="spacingAndGlyphs" transform="rotate(-90 458.74 165.79)">16</text>
<line x1="463.94" y1="151.10" x2="463.94" y2="153.10" stroke="#888" stroke-width="0.8"/>
<text x="466.94" y="154.60" font-size="9.24" text-anchor="end" textLength="10.69" lengthAdjust="spacingAndGlyphs" transform="rotate(-90 466.94 154.60)">23</text>
<line x1="472.14" y1="151.10" x2="472.14" y2="164.79" stroke="#c8c8c8" stroke-width="0.8"/>
<text x="475.14" y="165.79" font-size="9.24" text-anchor="end" textLength="10.69" lengthAdjust="spacingAndGlyphs" transform="rotate(-90 475.14 165.79)">24</text>
<line x1="480.34" y1="151.10" x2="480.34" y2="153.10" stroke="#888" stroke-width="0.8"/>
<text x="483.34" y="154.60" font-size="9.24" text-anchor="end" textLength="10.69" lengthAdjust="spacingAndGlyphs" transform="rotate(-90 483.34 154.60)">25</text>
<line x1="488.55" y1="151.10" x2="488.55" y2="164.79" stroke="#c8c8c8" stroke-width="0.8"/>
<text x="491.55" y="165.79" font-size="9.24" text-anchor="end" textLength="10.69" lengthAdjust="spacingAndGlyphs" transform="rotate(-90 491.55 165.79)">26</text>
<line x1="496.75" y1="151.10" x2="496.75" y2="153.10" stroke="#888" stroke-width="0.8"/>
<text x="499.75" y="154.60" font-size="9.24" text-anchor="end" textLength="10.69" lengthAdjust="spacingAndGlyphs" transform="rotate(-90 499.75 154.60)">34</text>
<line x1="504.95" y1="151.10" x2="504.95" y2="164.79" stroke="#c8c8c8" stroke-width="0.8"/>
<text x="507.95" y="165.79" font-size="9.24" text-anchor="end" textLength="10.69" lengthAdjust="spacingAndGlyphs" transform="rotate(-90 507.95 165.79)">35</text>
<line x1="513.15" y1="151.10" x2="513.15" y2="153.10" stroke="#888" stroke-width="0.8"/>
<text x="516.15" y="154.60" font-size="9.24" text-anchor="end" textLength="10.69" lengthAdjust="spacingAndGlyphs" transform="rotate(-90 516.15 154.60)">36</text>
<line x1="521.35" y1="151.10" x2="521.35" y2="164.79" stroke="#c8c8c8" stroke-width="0.8"/>
<text x="524.35" y="165.79" font-size="9.24" text-anchor="end" textLength="10.69" lengthAdjust="spacingAndGlyphs" transform="rotate(-90 524.35 165.79)">45</text>
<line x1="529.56" y1="151.10" x2="529.56" y2="153.10" stroke="#888" stroke-width="0.8"/>
<text x="532.56" y="154.60" font-size="9.24" text-anchor="end" textLength="10.69" lengthAdjust="spacingAndGlyphs" transform="rotate(-90 532.56 154.60)">46</text>
<line x1="537.76" y1="151.10" x2="537.76" y2="164.79" stroke="#c8c8c8" stroke-width="0.8"/>
<text x="540.76" y="165.79" font-size="9.24" text-anchor="end" textLength="10.69" lengthAdjust="spacingAndGlyphs" transform="rotate(-90 540.76 165.79)">56</text>
<line x1="545.96" y1="151.10" x2="545.96" y2="153.10" stroke="#888" stroke-width="0.8"/>
<text x="548.96" y="154.60" font-size="9.24" text-anchor="end" textLength="21.38" lengthAdjust="spacingAndGlyphs" transform="rotate(-90 548.96 154.60)">1234</text>
<line x1="554.16" y1="151.10" x2="554.16" y2="174.38" stroke="#c8c8c8" stroke-width="0.8"/>
<text x="557.16" y="175.38" font-size="9.24" text-anchor="end" textLength="21.38" lengthAdjust="spacingAndGlyphs" transform="rotate(-90 557.16 175.38)">1235</text>
<line x1="562.36" y1="151.10" x2="562.36" y2="153.10" stroke="#888" stroke-width="0.8"/>
<text x="565.36" y="154.60" font-size="9.24" text-anchor="end" textLength="21.38" lengthAdjust="spacingAndGlyphs" transform="rotate(-90 565.36 154.60)">1236</text>
<line x1="570.57" y1="151.10" x2="570.57" y2="174.38" stroke="#c8c8c8" stroke-width="0.8"/>
<text x="573.57" y="175.38" font-size="9.24" text-anchor="end" textLength="21.38" lengthAdjust="spacingAndGlyphs" transform="rotate(-90 573.57 175.38)">1245</text>
<line x1="578.77" y1="151.10" x2="578.77" y2="153.10" stroke="#888" stroke-width="0.8"/>
<text x="581.77" y="154.60" font-size="9.24" text-anchor="end" textLength="21.38" lengthAdjust="spacingAndGlyphs" transform="rotate(-90 581.77 154.60)">1246</text>
<line x1="586.97" y1="151.10" x2="586.97" y2="174.38" stroke="#c8c8c8" stroke-width="0.8"/>
<text x="589.97" y="175.38" font-size="9.24" text-anchor="end" textLength="21.38" lengthAdjust="spacingAndGlyphs" transform="rotate(-90 589.97 175.38)">1256</text>
<line x1="595.17" y1="151.10" x2="595.17" y2="153.10" stroke="#888" stroke-width="0.8"/>
<text x="598.17" y="154.60" font-size="9.24" text-anchor="end" textLength="21.38" lengthAdjust="spacingAndGlyphs" transform="rotate(-90 598.17 154.60)">1345</text>
<line x1="603.37" y1="151.10" x2="603.37" y2="174.38" stroke="#c8c8c8" stroke-width="0.8"/>
<text x="606.37" y="175.38" font-size="9.24" text-anchor="end" textLength="21.38" lengthAdjust="spacingAndGlyphs" transform="rotate(-90 606.37 175.38)">1346</text>
<line x1="611.58" y1="151.10" x2="611.58" y2="153.10" stroke="#888" stroke-width="0.8"/>
<text x="614.58" y="154.60" font-size="9.24" text-anchor="end" textLength="21.38" lengthAdjust="spacingAndGlyphs" transform="rotate(-90 614.58 154.60)">1356</text>
<line x1="619.78" y1="151.10" x2="619.78" y2="174.38" stroke="#c8c8c8" stroke-width="0.8"/>
<text x="622.78" y="175.38" font-size="9.24" text-anchor="end" textLength="21.38" lengthAdjust="spacingAndGlyphs" transform="rotate(-90 622.78 175.38)">1456</text>
<line x1="627.98" y1="151.10" x2="627.98" y2="153.10" stroke="#888" stroke-width="0.8"/>
<text x="630.98" y="154.60" font-size="9.24" text-anchor="end" textLength="21.38" lengthAdjust="spacingAndGlyphs" transform="rotate(-90 630.98 154.60)">2345</text>
<line x1="636.18" y1="151.10" x2="636.18" y2="174.38" stroke="#c8c8c8" stroke-width="0.8"/>
<text x="639.18" y="175.38" font-size="9.24" text-anchor="end" textLength="21.38" lengthAdjust="spacingAndGlyphs" transform="rotate(-90 639.18 175.38)">2346</text>
<line x1="644.38" y1="151.10" x2="644.38" y2="153.10" stroke="#888" stroke-width="0.8"/>
<text x="647.38" y="154.60" font-size="9.24" text-anchor="end" textLength="21.38" lengthAdjust="spacingAndGlyphs" transform="rotate(-90 647.38 154.60)">2356</text>
<line x1="652.59" y1="151.10" x2="652.59" y2="174.38" stroke="#c8c8c8" stroke-width="0.8"/>
<text x="655.59" y="175.38" font-size="9.24" text-anchor="end" textLength="21.38" lengthAdjust="spacingAndGlyphs" transform="rotate(-90 655.59 175.38)">2456</text>
<line x1="660.79" y1="151.10" x2="660.79" y2="153.10" stroke="#888" stroke-width="0.8"/>
<text x="663.79" y="154.60" font-size="9.24" text-anchor="end" textLength="21.38" lengthAdjust="spacingAndGlyphs" transform="rotate(-90 663.79 154.60)">3456</text>
<rect x="278.4" y="0.6" width="403.70000000000005" height="150.5" fill="none" stroke="#c4c4c4" stroke-width="1.1"/>
<text x="448.00" y="196.40" font-size="10.4" text-anchor="middle" textLength="109.30" lengthAdjust="spacingAndGlyphs">Feature Components</text>
<text x="253.10" y="90.80" font-size="10.0" text-anchor="middle" textLength="153.80" lengthAdjust="spacingAndGlyphs" transform="rotate(-90 253.10 90.80)">Feature Discriminative Power</text>
<text x="279.10" y="147.30" font-size="13.2" font-weight="bold" textLength="16.40" lengthAdjust="spacingAndGlyphs">(b)</text>
<text x="349.60" y="45.70" font-size="23.0" fill="#358a1f" textLength="22.40" lengthAdjust="spacingAndGlyphs"><tspan font-style="italic">d</tspan><tspan font-size="14.3" dy="3.20" font-style="italic">ij</tspan></text>
<text x="501.00" y="45.50" font-size="23.1" fill="#7c1a8c" textLength="22.00" lengthAdjust="spacingAndGlyphs"><tspan font-style="italic">θ</tspan><tspan font-size="14.3" dy="2.60" font-style="italic">ij</tspan></text>
<text x="602.60" y="45.70" font-size="22.8" fill="#a72b2e" textLength="36.30" lengthAdjust="spacingAndGlyphs"><tspan font-style="italic">ϕ</tspan><tspan font-size="14.3" dy="4.00" font-style="italic">ijkl</tspan></text>
<text x="288.30" y="56.80" font-size="11.5" fill="#358a1f" textLength="15.70" lengthAdjust="spacingAndGlyphs"><tspan font-style="italic">d</tspan><tspan font-size="7.9" dy="1.30">12</tspan></text>
<text x="386.60" y="127.60" font-size="11.5" fill="#358a1f" textLength="15.60" lengthAdjust="spacingAndGlyphs"><tspan font-style="italic">d</tspan><tspan font-size="7.9" dy="1.20">45</tspan></text>
<text x="402.60" y="97.30" font-size="11.5" fill="#358a1f" textLength="16.20" lengthAdjust="spacingAndGlyphs"><tspan font-style="italic">d</tspan><tspan font-size="7.9" dy="1.40">56</tspan></text>
<text x="411.50" y="22.30" font-size="11.3" fill="#7c1a8c" textLength="15.70" lengthAdjust="spacingAndGlyphs"><tspan font-style="italic">θ</tspan><tspan font-size="7.9" dy="1.60">12</tspan></text>
<text x="443.70" y="17.70" font-size="11.3" fill="#7c1a8c" textLength="16.00" lengthAdjust="spacingAndGlyphs"><tspan font-style="italic">θ</tspan><tspan font-size="7.9" dy="1.80">16</tspan></text>
<text x="468.50" y="21.10" font-size="11.3" fill="#7c1a8c" textLength="15.70" lengthAdjust="spacingAndGlyphs"><tspan font-style="italic">θ</tspan><tspan font-size="7.9" dy="1.70">25</tspan></text>
<text x="525.80" y="16.40" font-size="11.3" fill="#7c1a8c" textLength="16.30" lengthAdjust="spacingAndGlyphs"><tspan font-style="italic">θ</tspan><tspan font-size="7.9" dy="2.40">56</tspan></text>
<text x="570.30" y="75.20" font-size="11.3" fill="#a72b2e" textLength="25.30" lengthAdjust="spacingAndGlyphs"><tspan font-style="italic">ϕ</tspan><tspan font-size="8.4" dy="1.90">1256</tspan></text>
<text x="627.70" y="95.50" font-size="11.3" fill="#a72b2e" textLength="25.20" lengthAdjust="spacingAndGlyphs"><tspan font-style="italic">ϕ</tspan><tspan font-size="8.4" dy="1.60">2356</tspan></text>
<line x1="80.75" y1="212.80" x2="80.75" y2="366.30" stroke="#ebebeb" stroke-width="0.8"/>
<line x1="131.50" y1="212.80" x2="131.50" y2="366.30" stroke="#ebebeb" stroke-width="0.8"/>
<line x1="182.25" y1="212.80" x2="182.25" y2="366.30" stroke="#ebebeb" stroke-width="0.8"/>
<line x1="30.00" y1="344.37" x2="233.00" y2="344.37" stroke="#ebebeb" stroke-width="0.8"/>
<line x1="30.00" y1="322.44" x2="233.00" y2="322.44" stroke="#ebebeb" stroke-width="0.8"/>
<line x1="30.00" y1="300.51" x2="233.00" y2="300.51" stroke="#ebebeb" stroke-width="0.8"/>
<line x1="30.00" y1="278.59" x2="233.00" y2="278.59" stroke="#ebebeb" stroke-width="0.8"/>
<line x1="30.00" y1="256.66" x2="233.00" y2="256.66" stroke="#ebebeb" stroke-width="0.8"/>
<line x1="30.00" y1="234.73" x2="233.00" y2="234.73" stroke="#ebebeb" stroke-width="0.8"/>
<rect x="30.0" y="212.8" width="203.0" height="153.5" fill="none" stroke="#c4c4c4" stroke-width="1.1"/>
<text x="27.80" y="369.40" font-size="9.79" text-anchor="end" textLength="5.66" lengthAdjust="spacingAndGlyphs">0</text>
<text x="27.80" y="347.47" font-size="9.79" text-anchor="end" textLength="16.99" lengthAdjust="spacingAndGlyphs">100</text>
<text x="27.80" y="325.54" font-size="9.79" text-anchor="end" textLength="16.99" lengthAdjust="spacingAndGlyphs">200</text>
<text x="27.80" y="303.61" font-size="9.79" text-anchor="end" textLength="16.99" lengthAdjust="spacingAndGlyphs">300</text>
<text x="27.80" y="281.69" font-size="9.79" text-anchor="end" textLength="16.99" lengthAdjust="spacingAndGlyphs">400</text>
<text x="27.80" y="259.76" font-size="9.79" text-anchor="end" textLength="16.99" lengthAdjust="spacingAndGlyphs">500</text>
<text x="27.80" y="237.83" font-size="9.79" text-anchor="end" textLength="16.99" lengthAdjust="spacingAndGlyphs">600</text>
<text x="27.80" y="215.90" font-size="9.79" text-anchor="end" textLength="16.99" lengthAdjust="spacingAndGlyphs">700</text>
<text x="30.00" y="376.00" font-size="9.79" text-anchor="middle" textLength="5.66" lengthAdjust="spacingAndGlyphs">0</text>
<text x="80.75" y="376.00" font-size="9.79" text-anchor="middle" textLength="11.32" lengthAdjust="spacingAndGlyphs">45</text>
<text x="131.50" y="376.00" font-size="9.79" text-anchor="middle" textLength="11.32" lengthAdjust="spacingAndGlyphs">90</text>
<text x="182.25" y="376.00" font-size="9.79" text-anchor="middle" textLength="16.99" lengthAdjust="spacingAndGlyphs">135</text>
<text x="233.00" y="376.00" font-size="9.79" text-anchor="middle" textLength="16.99" lengthAdjust="spacingAndGlyphs">180</text>
<polyline points="31.13,366.30 33.38,366.30 35.64,366.30 37.89,366.30 40.15,366.30 42.41,366.30 44.66,366.30 46.92,366.30 49.17,366.30 51.43,366.30 53.68,366.30 55.94,366.30 58.19,366.30 60.45,366.30 62.71,366.30 64.96,366.30 67.22,366.30 69.47,366.30 71.73,366.30 73.98,366.30 76.24,366.30 78.49,366.30 80.75,366.30 83.01,366.30 85.26,366.30 87.52,366.30 89.77,366.30 92.03,366.30 94.28,366.30 96.54,366.30 98.79,366.30 101.05,366.30 103.31,366.30 105.56,366.30 107.82,366.30 110.07,366.30 112.33,366.30 114.58,366.30 116.84,365.86 119.09,345.03 121.35,285.16 123.61,241.97 125.86,244.60 128.12,275.95 130.37,316.30 132.63,334.94 134.88,347.00 137.14,351.61 139.39,352.05 141.65,343.49 143.91,339.99 146.16,331.21 148.42,324.42 150.67,314.33 152.93,308.85 155.18,294.37 157.44,290.65 159.69,283.63 161.95,280.56 164.21,288.23 166.46,289.11 168.72,305.78 170.97,307.31 173.23,317.18 175.48,331.87 177.74,332.75 179.99,343.28 182.25,348.10 184.51,350.95 186.76,355.34 189.02,355.99 191.27,359.94 193.53,358.84 195.78,360.82 198.04,361.91 200.29,361.48 202.55,359.94 204.81,357.53 207.06,353.14 209.32,351.83 211.57,344.15 213.83,340.42 216.08,333.41 218.34,321.35 220.59,309.72 222.85,302.71 225.11,289.11 227.36,286.70 229.62,298.10 231.87,339.11" fill="none" stroke="#eea43a" stroke-width="3.4" stroke-linejoin="round"/>
<polyline points="31.13,366.30 33.38,366.30 35.64,366.30 37.89,366.30 40.15,366.30 42.41,366.30 44.66,366.30 46.92,366.30 49.17,366.30 51.43,366.30 53.68,366.30 55.94,366.30 58.19,366.30 60.45,366.30 62.71,366.30 64.96,366.30 67.22,366.30 69.47,366.30 71.73,366.30 73.98,366.30 76.24,366.30 78.49,366.30 80.75,366.30 83.01,366.30 85.26,366.30 87.52,366.30 89.77,366.30 92.03,366.30 94.28,366.30 96.54,366.30 98.79,366.30 101.05,366.30 103.31,366.30 105.56,366.30 107.82,366.30 110.07,366.30 112.33,366.30 114.58,366.30 116.84,365.86 119.09,345.03 121.35,285.16 123.61,241.97 125.86,244.60 128.12,275.95 130.37,316.96 132.63,337.13 134.88,352.70 137.14,361.91 139.39,364.11 141.65,365.20 143.91,365.86 146.16,366.30 148.42,366.30 150.67,366.30 152.93,366.30 155.18,366.30 157.44,366.30 159.69,366.30 161.95,366.30 164.21,366.30 166.46,366.30 168.72,366.30 170.97,366.30 173.23,366.30 175.48,366.30 177.74,366.30 179.99,366.30 182.25,366.30 184.51,366.30 186.76,366.30 189.02,366.30 191.27,366.30 193.53,366.30 195.78,366.30 198.04,366.30 200.29,366.30 202.55,366.30 204.81,366.30 207.06,366.30 209.32,366.30 211.57,366.30 213.83,366.30 216.08,366.30 218.34,366.30 220.59,366.30 222.85,366.30 225.11,366.30 227.36,366.30 229.62,366.30 231.87,366.30" fill="none" stroke="#ff2417" stroke-width="1.8" stroke-linejoin="round"/>
<path d="M29.63 366.30a1.5 1.5 0 1 0 3 0a1.5 1.5 0 1 0 -3 0M31.88 366.30a1.5 1.5 0 1 0 3 0a1.5 1.5 0 1 0 -3 0M34.14 366.30a1.5 1.5 0 1 0 3 0a1.5 1.5 0 1 0 -3 0M36.39 366.30a1.5 1.5 0 1 0 3 0a1.5 1.5 0 1 0 -3 0M38.65 366.30a1.5 1.5 0 1 0 3 0a1.5 1.5 0 1 0 -3 0M40.91 366.30a1.5 1.5 0 1 0 3 0a1.5 1.5 0 1 0 -3 0M43.16 366.30a1.5 1.5 0 1 0 3 0a1.5 1.5 0 1 0 -3 0M45.42 366.30a1.5 1.5 0 1 0 3 0a1.5 1.5 0 1 0 -3 0M47.67 366.30a1.5 1.5 0 1 0 3 0a1.5 1.5 0 1 0 -3 0M49.93 366.30a1.5 1.5 0 1 0 3 0a1.5 1.5 0 1 0 -3 0M52.18 366.30a1.5 1.5 0 1 0 3 0a1.5 1.5 0 1 0 -3 0M54.44 366.30a1.5 1.5 0 1 0 3 0a1.5 1.5 0 1 0 -3 0M56.69 366.30a1.5 1.5 0 1 0 3 0a1.5 1.5 0 1 0 -3 0M58.95 366.30a1.5 1.5 0 1 0 3 0a1.5 1.5 0 1 0 -3 0M61.21 366.30a1.5 1.5 0 1 0 3 0a1.5 1.5 0 1 0 -3 0M63.46 366.30a1.5 1.5 0 1 0 3 0a1.5 1.5 0 1 0 -3 0M65.72 366.30a1.5 1.5 0 1 0 3 0a1.5 1.5 0 1 0 -3 0M67.97 366.30a1.5 1.5 0 1 0 3 0a1.5 1.5 0 1 0 -3 0M70.23 366.30a1.5 1.5 0 1 0 3 0a1.5 1.5 0 1 0 -3 0M72.48 366.30a1.5 1.5 0 1 0 3 0a1.5 1.5 0 1 0 -3 0M74.74 366.30a1.5 1.5 0 1 0 3 0a1.5 1.5 0 1 0 -3 0M76.99 366.30a1.5 1.5 0 1 0 3 0a1.5 1.5 0 1 0 -3 0M79.25 366.30a1.5 1.5 0 1 0 3 0a1.5 1.5 0 1 0 -3 0M81.51 366.30a1.5 1.5 0 1 0 3 0a1.5 1.5 0 1 0 -3 0M83.76 366.30a1.5 1.5 0 1 0 3 0a1.5 1.5 0 1 0 -3 0M86.02 366.30a1.5 1.5 0 1 0 3 0a1.5 1.5 0 1 0 -3 0M88.27 366.30a1.5 1.5 0 1 0 3 0a1.5 1.5 0 1 0 -3 0M90.53 366.30a1.5 1.5 0 1 0 3 0a1.5 1.5 0 1 0 -3 0M92.78 366.30a1.5 1.5 0 1 0 3 0a1.5 1.5 0 1 0 -3 0M95.04 366.30a1.5 1.5 0 1 0 3 0a1.5 1.5 0 1 0 -3 0M97.29 366.30a1.5 1.5 0 1 0 3 0a1.5 1.5 0 1 0 -3 0M99.55 366.30a1.5 1.5 0 1 0 3 0a1.5 1.5 0 1 0 -3 0M101.81 366.30a1.5 1.5 0 1 0 3 0a1.5 1.5 0 1 0 -3 0M104.06 366.30a1.5 1.5 0 1 0 3 0a1.5 1.5 0 1 0 -3 0M106.32 366.30a1.5 1.5 0 1 0 3 0a1.5 1.5 0 1 0 -3 0M108.57 366.30a1.5 1.5 0 1 0 3 0a1.5 1.5 0 1 0 -3 0M110.83 366.30a1.5 1.5 0 1 0 3 0a1.5 1.5 0 1 0 -3 0M113.08 366.30a1.5 1.5 0 1 0 3 0a1.5 1.5 0 1 0 -3 0M115.34 365.86a1.5 1.5 0 1 0 3 0a1.5 1.5 0 1 0 -3 0M117.59 345.03a1.5 1.5 0 1 0 3 0a1.5 1.5 0 1 0 -3 0M119.85 285.16a1.5 1.5 0 1 0 3 0a1.5 1.5 0 1 0 -3 0M122.11 241.97a1.5 1.5 0 1 0 3 0a1.5 1.5 0 1 0 -3 0M124.36 244.60a1.5 1.5 0 1 0 3 0a1.5 1.5 0 1 0 -3 0M126.62 275.95a1.5 1.5 0 1 0 3 0a1.5 1.5 0 1 0 -3 0M128.87 316.96a1.5 1.5 0 1 0 3 0a1.5 1.5 0 1 0 -3 0M131.13 337.13a1.5 1.5 0 1 0 3 0a1.5 1.5 0 1 0 -3 0M133.38 352.70a1.5 1.5 0 1 0 3 0a1.5 1.5 0 1 0 -3 0M135.64 361.91a1.5 1.5 0 1 0 3 0a1.5 1.5 0 1 0 -3 0M137.89 364.11a1.5 1.5 0 1 0 3 0a1.5 1.5 0 1 0 -3 0M140.15 365.20a1.5 1.5 0 1 0 3 0a1.5 1.5 0 1 0 -3 0M142.41 365.86a1.5 1.5 0 1 0 3 0a1.5 1.5 0 1 0 -3 0M144.66 366.30a1.5 1.5 0 1 0 3 0a1.5 1.5 0 1 0 -3 0M146.92 366.30a1.5 1.5 0 1 0 3 0a1.5 1.5 0 1 0 -3 0M149.17 366.30a1.5 1.5 0 1 0 3 0a1.5 1.5 0 1 0 -3 0M151.43 366.30a1.5 1.5 0 1 0 3 0a1.5 1.5 0 1 0 -3 0M153.68 366.30a1.5 1.5 0 1 0 3 0a1.5 1.5 0 1 0 -3 0M155.94 366.30a1.5 1.5 0 1 0 3 0a1.5 1.5 0 1 0 -3 0M158.19 366.30a1.5 1.5 0 1 0 3 0a1.5 1.5 0 1 0 -3 0M160.45 366.30a1.5 1.5 0 1 0 3 0a1.5 1.5 0 1 0 -3 0M162.71 366.30a1.5 1.5 0 1 0 3 0a1.5 1.5 0 1 0 -3 0M164.96 366.30a1.5 1.5 0 1 0 3 0a1.5 1.5 0 1 0 -3 0M167.22 366.30a1.5 1.5 0 1 0 3 0a1.5 1.5 0 1 0 -3 0M169.47 366.30a1.5 1.5 0 1 0 3 0a1.5 1.5 0 1 0 -3 0M171.73 366.30a1.5 1.5 0 1 0 3 0a1.5 1.5 0 1 0 -3 0M173.98 366.30a1.5 1.5 0 1 0 3 0a1.5 1.5 0 1 0 -3 0M176.24 366.30a1.5 1.5 0 1 0 3 0a1.5 1.5 0 1 0 -3 0M178.49 366.30a1.5 1.5 0 1 0 3 0a1.5 1.5 0 1 0 -3 0M180.75 366.30a1.5 1.5 0 1 0 3 0a1.5 1.5 0 1 0 -3 0M183.01 366.30a1.5 1.5 0 1 0 3 0a1.5 1.5 0 1 0 -3 0M185.26 366.30a1.5 1.5 0 1 0 3 0a1.5 1.5 0 1 0 -3 0M187.52 366.30a1.5 1.5 0 1 0 3 0a1.5 1.5 0 1 0 -3 0M189.77 366.30a1.5 1.5 0 1 0 3 0a1.5 1.5 0 1 0 -3 0M192.03 366.30a1.5 1.5 0 1 0 3 0a1.5 1.5 0 1 0 -3 0M194.28 366.30a1.5 1.5 0 1 0 3 0a1.5 1.5 0 1 0 -3 0M196.54 366.30a1.5 1.5 0 1 0 3 0a1.5 1.5 0 1 0 -3 0M198.79 366.30a1.5 1.5 0 1 0 3 0a1.5 1.5 0 1 0 -3 0M201.05 366.30a1.5 1.5 0 1 0 3 0a1.5 1.5 0 1 0 -3 0M203.31 366.30a1.5 1.5 0 1 0 3 0a1.5 1.5 0 1 0 -3 0M205.56 366.30a1.5 1.5 0 1 0 3 0a1.5 1.5 0 1 0 -3 0M207.82 366.30a1.5 1.5 0 1 0 3 0a1.5 1.5 0 1 0 -3 0M210.07 366.30a1.5 1.5 0 1 0 3 0a1.5 1.5 0 1 0 -3 0M212.33 366.30a1.5 1.5 0 1 0 3 0a1.5 1.5 0 1 0 -3 0M214.58 366.30a1.5 1.5 0 1 0 3 0a1.5 1.5 0 1 0 -3 0M216.84 366.30a1.5 1.5 0 1 0 3 0a1.5 1.5 0 1 0 -3 0M219.09 366.30a1.5 1.5 0 1 0 3 0a1.5 1.5 0 1 0 -3 0M221.35 366.30a1.5 1.5 0 1 0 3 0a1.5 1.5 0 1 0 -3 0M223.61 366.30a1.5 1.5 0 1 0 3 0a1.5 1.5 0 1 0 -3 0M225.86 366.30a1.5 1.5 0 1 0 3 0a1.5 1.5 0 1 0 -3 0M228.12 366.30a1.5 1.5 0 1 0 3 0a1.5 1.5 0 1 0 -3 0M230.37 366.30a1.5 1.5 0 1 0 3 0a1.5 1.5 0 1 0 -3 0" fill="#ff2417"/>
<polyline points="31.13,366.30 33.38,366.30 35.64,366.30 37.89,366.30 40.15,366.30 42.41,366.30 44.66,366.30 46.92,366.30 49.17,366.30 51.43,366.30 53.68,366.30 55.94,366.30 58.19,366.30 60.45,366.30 62.71,366.30 64.96,366.30 67.22,366.30 69.47,366.30 71.73,366.30 73.98,366.30 76.24,366.30 78.49,366.30 80.75,366.30 83.01,366.30 85.26,366.30 87.52,366.30 89.77,366.30 92.03,366.30 94.28,366.30 96.54,366.30 98.79,366.30 101.05,366.30 103.31,366.30 105.56,366.30 107.82,366.30 110.07,366.30 112.33,366.30 114.58,366.30 116.84,366.30 119.09,366.30 121.35,366.30 123.61,366.30 125.86,366.30 128.12,366.30 130.37,365.64 132.63,364.11 134.88,360.60 137.14,355.99 139.39,354.24 141.65,344.59 143.91,341.08 146.16,332.97 148.42,327.71 150.67,320.69 152.93,323.76 155.18,320.03 157.44,318.50 159.69,324.64 161.95,329.90 164.21,333.85 166.46,338.45 168.72,346.78 170.97,348.32 173.23,351.39 175.48,355.99 177.74,360.60 179.99,363.67 182.25,365.20 184.51,365.86 186.76,366.30 189.02,366.30 191.27,366.30 193.53,366.30 195.78,366.30 198.04,366.30 200.29,366.30 202.55,366.30 204.81,366.30 207.06,366.30 209.32,366.30 211.57,366.30 213.83,366.30 216.08,366.30 218.34,366.30 220.59,366.30 222.85,366.30 225.11,366.30 227.36,366.30 229.62,366.30 231.87,366.30" fill="none" stroke="#2f8f22" stroke-width="1.8" stroke-linejoin="round"/>
<path d="M29.63 366.30a1.5 1.5 0 1 0 3 0a1.5 1.5 0 1 0 -3 0M31.88 366.30a1.5 1.5 0 1 0 3 0a1.5 1.5 0 1 0 -3 0M34.14 366.30a1.5 1.5 0 1 0 3 0a1.5 1.5 0 1 0 -3 0M36.39 366.30a1.5 1.5 0 1 0 3 0a1.5 1.5 0 1 0 -3 0M38.65 366.30a1.5 1.5 0 1 0 3 0a1.5 1.5 0 1 0 -3 0M40.91 366.30a1.5 1.5 0 1 0 3 0a1.5 1.5 0 1 0 -3 0M43.16 366.30a1.5 1.5 0 1 0 3 0a1.5 1.5 0 1 0 -3 0M45.42 366.30a1.5 1.5 0 1 0 3 0a1.5 1.5 0 1 0 -3 0M47.67 366.30a1.5 1.5 0 1 0 3 0a1.5 1.5 0 1 0 -3 0M49.93 366.30a1.5 1.5 0 1 0 3 0a1.5 1.5 0 1 0 -3 0M52.18 366.30a1.5 1.5 0 1 0 3 0a1.5 1.5 0 1 0 -3 0M54.44 366.30a1.5 1.5 0 1 0 3 0a1.5 1.5 0 1 0 -3 0M56.69 366.30a1.5 1.5 0 1 0 3 0a1.5 1.5 0 1 0 -3 0M58.95 366.30a1.5 1.5 0 1 0 3 0a1.5 1.5 0 1 0 -3 0M61.21 366.30a1.5 1.5 0 1 0 3 0a1.5 1.5 0 1 0 -3 0M63.46 366.30a1.5 1.5 0 1 0 3 0a1.5 1.5 0 1 0 -3 0M65.72 366.30a1.5 1.5 0 1 0 3 0a1.5 1.5 0 1 0 -3 0M67.97 366.30a1.5 1.5 0 1 0 3 0a1.5 1.5 0 1 0 -3 0M70.23 366.30a1.5 1.5 0 1 0 3 0a1.5 1.5 0 1 0 -3 0M72.48 366.30a1.5 1.5 0 1 0 3 0a1.5 1.5 0 1 0 -3 0M74.74 366.30a1.5 1.5 0 1 0 3 0a1.5 1.5 0 1 0 -3 0M76.99 366.30a1.5 1.5 0 1 0 3 0a1.5 1.5 0 1 0 -3 0M79.25 366.30a1.5 1.5 0 1 0 3 0a1.5 1.5 0 1 0 -3 0M81.51 366.30a1.5 1.5 0 1 0 3 0a1.5 1.5 0 1 0 -3 0M83.76 366.30a1.5 1.5 0 1 0 3 0a1.5 1.5 0 1 0 -3 0M86.02 366.30a1.5 1.5 0 1 0 3 0a1.5 1.5 0 1 0 -3 0M88.27 366.30a1.5 1.5 0 1 0 3 0a1.5 1.5 0 1 0 -3 0M90.53 366.30a1.5 1.5 0 1 0 3 0a1.5 1.5 0 1 0 -3 0M92.78 366.30a1.5 1.5 0 1 0 3 0a1.5 1.5 0 1 0 -3 0M95.04 366.30a1.5 1.5 0 1 0 3 0a1.5 1.5 0 1 0 -3 0M97.29 366.30a1.5 1.5 0 1 0 3 0a1.5 1.5 0 1 0 -3 0M99.55 366.30a1.5 1.5 0 1 0 3 0a1.5 1.5 0 1 0 -3 0M101.81 366.30a1.5 1.5 0 1 0 3 0a1.5 1.5 0 1 0 -3 0M104.06 366.30a1.5 1.5 0 1 0 3 0a1.5 1.5 0 1 0 -3 0M106.32 366.30a1.5 1.5 0 1 0 3 0a1.5 1.5 0 1 0 -3 0M108.57 366.30a1.5 1.5 0 1 0 3 0a1.5 1.5 0 1 0 -3 0M110.83 366.30a1.5 1.5 0 1 0 3 0a1.5 1.5 0 1 0 -3 0M113.08 366.30a1.5 1.5 0 1 0 3 0a1.5 1.5 0 1 0 -3 0M115.34 366.30a1.5 1.5 0 1 0 3 0a1.5 1.5 0 1 0 -3 0M117.59 366.30a1.5 1.5 0 1 0 3 0a1.5 1.5 0 1 0 -3 0M119.85 366.30a1.5 1.5 0 1 0 3 0a1.5 1.5 0 1 0 -3 0M122.11 366.30a1.5 1.5 0 1 0 3 0a1.5 1.5 0 1 0 -3 0M124.36 366.30a1.5 1.5 0 1 0 3 0a1.5 1.5 0 1 0 -3 0M126.62 366.30a1.5 1.5 0 1 0 3 0a1.5 1.5 0 1 0 -3 0M128.87 365.64a1.5 1.5 0 1 0 3 0a1.5 1.5 0 1 0 -3 0M131.13 364.11a1.5 1.5 0 1 0 3 0a1.5 1.5 0 1 0 -3 0M133.38 360.60a1.5 1.5 0 1 0 3 0a1.5 1.5 0 1 0 -3 0M135.64 355.99a1.5 1.5 0 1 0 3 0a1.5 1.5 0 1 0 -3 0M137.89 354.24a1.5 1.5 0 1 0 3 0a1.5 1.5 0 1 0 -3 0M140.15 344.59a1.5 1.5 0 1 0 3 0a1.5 1.5 0 1 0 -3 0M142.41 341.08a1.5 1.5 0 1 0 3 0a1.5 1.5 0 1 0 -3 0M144.66 332.97a1.5 1.5 0 1 0 3 0a1.5 1.5 0 1 0 -3 0M146.92 327.71a1.5 1.5 0 1 0 3 0a1.5 1.5 0 1 0 -3 0M149.17 320.69a1.5 1.5 0 1 0 3 0a1.5 1.5 0 1 0 -3 0M151.43 323.76a1.5 1.5 0 1 0 3 0a1.5 1.5 0 1 0 -3 0M153.68 320.03a1.5 1.5 0 1 0 3 0a1.5 1.5 0 1 0 -3 0M155.94 318.50a1.5 1.5 0 1 0 3 0a1.5 1.5 0 1 0 -3 0M158.19 324.64a1.5 1.5 0 1 0 3 0a1.5 1.5 0 1 0 -3 0M160.45 329.90a1.5 1.5 0 1 0 3 0a1.5 1.5 0 1 0 -3 0M162.71 333.85a1.5 1.5 0 1 0 3 0a1.5 1.5 0 1 0 -3 0M164.96 338.45a1.5 1.5 0 1 0 3 0a1.5 1.5 0 1 0 -3 0M167.22 346.78a1.5 1.5 0 1 0 3 0a1.5 1.5 0 1 0 -3 0M169.47 348.32a1.5 1.5 0 1 0 3 0a1.5 1.5 0 1 0 -3 0M171.73 351.39a1.5 1.5 0 1 0 3 0a1.5 1.5 0 1 0 -3 0M173.98 355.99a1.5 1.5 0 1 0 3 0a1.5 1.5 0 1 0 -3 0M176.24 360.60a1.5 1.5 0 1 0 3 0a1.5 1.5 0 1 0 -3 0M178.49 363.67a1.5 1.5 0 1 0 3 0a1.5 1.5 0 1 0 -3 0M180.75 365.20a1.5 1.5 0 1 0 3 0a1.5 1.5 0 1 0 -3 0M183.01 365.86a1.5 1.5 0 1 0 3 0a1.5 1.5 0 1 0 -3 0M185.26 366.30a1.5 1.5 0 1 0 3 0a1.5 1.5 0 1 0 -3 0M187.52 366.30a1.5 1.5 0 1 0 3 0a1.5 1.5 0 1 0 -3 0M189.77 366.30a1.5 1.5 0 1 0 3 0a1.5 1.5 0 1 0 -3 0M192.03 366.30a1.5 1.5 0 1 0 3 0a1.5 1.5 0 1 0 -3 0M194.28 366.30a1.5 1.5 0 1 0 3 0a1.5 1.5 0 1 0 -3 0M196.54 366.30a1.5 1.5 0 1 0 3 0a1.5 1.5 0 1 0 -3 0M198.79 366.30a1.5 1.5 0 1 0 3 0a1.5 1.5 0 1 0 -3 0M201.05 366.30a1.5 1.5 0 1 0 3 0a1.5 1.5 0 1 0 -3 0M203.31 366.30a1.5 1.5 0 1 0 3 0a1.5 1.5 0 1 0 -3 0M205.56 366.30a1.5 1.5 0 1 0 3 0a1.5 1.5 0 1 0 -3 0M207.82 366.30a1.5 1.5 0 1 0 3 0a1.5 1.5 0 1 0 -3 0M210.07 366.30a1.5 1.5 0 1 0 3 0a1.5 1.5 0 1 0 -3 0M212.33 366.30a1.5 1.5 0 1 0 3 0a1.5 1.5 0 1 0 -3 0M214.58 366.30a1.5 1.5 0 1 0 3 0a1.5 1.5 0 1 0 -3 0M216.84 366.30a1.5 1.5 0 1 0 3 0a1.5 1.5 0 1 0 -3 0M219.09 366.30a1.5 1.5 0 1 0 3 0a1.5 1.5 0 1 0 -3 0M221.35 366.30a1.5 1.5 0 1 0 3 0a1.5 1.5 0 1 0 -3 0M223.61 366.30a1.5 1.5 0 1 0 3 0a1.5 1.5 0 1 0 -3 0M225.86 366.30a1.5 1.5 0 1 0 3 0a1.5 1.5 0 1 0 -3 0M228.12 366.30a1.5 1.5 0 1 0 3 0a1.5 1.5 0 1 0 -3 0M230.37 366.30a1.5 1.5 0 1 0 3 0a1.5 1.5 0 1 0 -3 0" fill="#2f8f22"/>
<polyline points="31.13,366.30 33.38,366.30 35.64,366.30 37.89,366.30 40.15,366.30 42.41,366.30 44.66,366.30 46.92,366.30 49.17,366.30 51.43,366.30 53.68,366.30 55.94,366.30 58.19,366.30 60.45,366.30 62.71,366.30 64.96,366.30 67.22,366.30 69.47,366.30 71.73,366.30 73.98,366.30 76.24,366.30 78.49,366.30 80.75,366.30 83.01,366.30 85.26,366.30 87.52,366.30 89.77,366.30 92.03,366.30 94.28,366.30 96.54,366.30 98.79,366.30 101.05,366.30 103.31,366.30 105.56,366.30 107.82,366.30 110.07,366.30 112.33,366.30 114.58,366.30 116.84,366.30 119.09,366.30 121.35,366.30 123.61,366.30 125.86,366.30 128.12,366.30 130.37,366.30 132.63,366.30 134.88,366.30 137.14,366.30 139.39,366.30 141.65,366.30 143.91,366.30 146.16,366.30 148.42,366.30 150.67,366.30 152.93,366.30 155.18,366.30 157.44,366.30 159.69,366.30 161.95,366.30 164.21,366.30 166.46,366.30 168.72,366.30 170.97,366.30 173.23,366.30 175.48,366.30 177.74,366.30 179.99,366.30 182.25,366.30 184.51,366.30 186.76,366.30 189.02,366.30 191.27,366.30 193.53,366.08 195.78,365.64 198.04,364.55 200.29,363.23 202.55,360.82 204.81,357.97 207.06,353.14 209.32,351.83 211.57,344.15 213.83,340.42 216.08,333.41 218.34,321.35 220.59,309.72 222.85,302.71 225.11,289.11 227.36,286.70 229.62,298.10 231.87,339.11" fill="none" stroke="#1d1dff" stroke-width="1.8" stroke-linejoin="round"/>
<path d="M29.63 366.30a1.5 1.5 0 1 0 3 0a1.5 1.5 0 1 0 -3 0M31.88 366.30a1.5 1.5 0 1 0 3 0a1.5 1.5 0 1 0 -3 0M34.14 366.30a1.5 1.5 0 1 0 3 0a1.5 1.5 0 1 0 -3 0M36.39 366.30a1.5 1.5 0 1 0 3 0a1.5 1.5 0 1 0 -3 0M38.65 366.30a1.5 1.5 0 1 0 3 0a1.5 1.5 0 1 0 -3 0M40.91 366.30a1.5 1.5 0 1 0 3 0a1.5 1.5 0 1 0 -3 0M43.16 366.30a1.5 1.5 0 1 0 3 0a1.5 1.5 0 1 0 -3 0M45.42 366.30a1.5 1.5 0 1 0 3 0a1.5 1.5 0 1 0 -3 0M47.67 366.30a1.5 1.5 0 1 0 3 0a1.5 1.5 0 1 0 -3 0M49.93 366.30a1.5 1.5 0 1 0 3 0a1.5 1.5 0 1 0 -3 0M52.18 366.30a1.5 1.5 0 1 0 3 0a1.5 1.5 0 1 0 -3 0M54.44 366.30a1.5 1.5 0 1 0 3 0a1.5 1.5 0 1 0 -3 0M56.69 366.30a1.5 1.5 0 1 0 3 0a1.5 1.5 0 1 0 -3 0M58.95 366.30a1.5 1.5 0 1 0 3 0a1.5 1.5 0 1 0 -3 0M61.21 366.30a1.5 1.5 0 1 0 3 0a1.5 1.5 0 1 0 -3 0M63.46 366.30a1.5 1.5 0 1 0 3 0a1.5 1.5 0 1 0 -3 0M65.72 366.30a1.5 1.5 0 1 0 3 0a1.5 1.5 0 1 0 -3 0M67.97 366.30a1.5 1.5 0 1 0 3 0a1.5 1.5 0 1 0 -3 0M70.23 366.30a1.5 1.5 0 1 0 3 0a1.5 1.5 0 1 0 -3 0M72.48 366.30a1.5 1.5 0 1 0 3 0a1.5 1.5 0 1 0 -3 0M74.74 366.30a1.5 1.5 0 1 0 3 0a1.5 1.5 0 1 0 -3 0M76.99 366.30a1.5 1.5 0 1 0 3 0a1.5 1.5 0 1 0 -3 0M79.25 366.30a1.5 1.5 0 1 0 3 0a1.5 1.5 0 1 0 -3 0M81.51 366.30a1.5 1.5 0 1 0 3 0a1.5 1.5 0 1 0 -3 0M83.76 366.30a1.5 1.5 0 1 0 3 0a1.5 1.5 0 1 0 -3 0M86.02 366.30a1.5 1.5 0 1 0 3 0a1.5 1.5 0 1 0 -3 0M88.27 366.30a1.5 1.5 0 1 0 3 0a1.5 1.5 0 1 0 -3 0M90.53 366.30a1.5 1.5 0 1 0 3 0a1.5 1.5 0 1 0 -3 0M92.78 366.30a1.5 1.5 0 1 0 3 0a1.5 1.5 0 1 0 -3 0M95.04 366.30a1.5 1.5 0 1 0 3 0a1.5 1.5 0 1 0 -3 0M97.29 366.30a1.5 1.5 0 1 0 3 0a1.5 1.5 0 1 0 -3 0M99.55 366.30a1.5 1.5 0 1 0 3 0a1.5 1.5 0 1 0 -3 0M101.81 366.30a1.5 1.5 0 1 0 3 0a1.5 1.5 0 1 0 -3 0M104.06 366.30a1.5 1.5 0 1 0 3 0a1.5 1.5 0 1 0 -3 0M106.32 366.30a1.5 1.5 0 1 0 3 0a1.5 1.5 0 1 0 -3 0M108.57 366.30a1.5 1.5 0 1 0 3 0a1.5 1.5 0 1 0 -3 0M110.83 366.30a1.5 1.5 0 1 0 3 0a1.5 1.5 0 1 0 -3 0M113.08 366.30a1.5 1.5 0 1 0 3 0a1.5 1.5 0 1 0 -3 0M115.34 366.30a1.5 1.5 0 1 0 3 0a1.5 1.5 0 1 0 -3 0M117.59 366.30a1.5 1.5 0 1 0 3 0a1.5 1.5 0 1 0 -3 0M119.85 366.30a1.5 1.5 0 1 0 3 0a1.5 1.5 0 1 0 -3 0M122.11 366.30a1.5 1.5 0 1 0 3 0a1.5 1.5 0 1 0 -3 0M124.36 366.30a1.5 1.5 0 1 0 3 0a1.5 1.5 0 1 0 -3 0M126.62 366.30a1.5 1.5 0 1 0 3 0a1.5 1.5 0 1 0 -3 0M128.87 366.30a1.5 1.5 0 1 0 3 0a1.5 1.5 0 1 0 -3 0M131.13 366.30a1.5 1.5 0 1 0 3 0a1.5 1.5 0 1 0 -3 0M133.38 366.30a1.5 1.5 0 1 0 3 0a1.5 1.5 0 1 0 -3 0M135.64 366.30a1.5 1.5 0 1 0 3 0a1.5 1.5 0 1 0 -3 0M137.89 366.30a1.5 1.5 0 1 0 3 0a1.5 1.5 0 1 0 -3 0M140.15 366.30a1.5 1.5 0 1 0 3 0a1.5 1.5 0 1 0 -3 0M142.41 366.30a1.5 1.5 0 1 0 3 0a1.5 1.5 0 1 0 -3 0M144.66 366.30a1.5 1.5 0 1 0 3 0a1.5 1.5 0 1 0 -3 0M146.92 366.30a1.5 1.5 0 1 0 3 0a1.5 1.5 0 1 0 -3 0M149.17 366.30a1.5 1.5 0 1 0 3 0a1.5 1.5 0 1 0 -3 0M151.43 366.30a1.5 1.5 0 1 0 3 0a1.5 1.5 0 1 0 -3 0M153.68 366.30a1.5 1.5 0 1 0 3 0a1.5 1.5 0 1 0 -3 0M155.94 366.30a1.5 1.5 0 1 0 3 0a1.5 1.5 0 1 0 -3 0M158.19 366.30a1.5 1.5 0 1 0 3 0a1.5 1.5 0 1 0 -3 0M160.45 366.30a1.5 1.5 0 1 0 3 0a1.5 1.5 0 1 0 -3 0M162.71 366.30a1.5 1.5 0 1 0 3 0a1.5 1.5 0 1 0 -3 0M164.96 366.30a1.5 1.5 0 1 0 3 0a1.5 1.5 0 1 0 -3 0M167.22 366.30a1.5 1.5 0 1 0 3 0a1.5 1.5 0 1 0 -3 0M169.47 366.30a1.5 1.5 0 1 0 3 0a1.5 1.5 0 1 0 -3 0M171.73 366.30a1.5 1.5 0 1 0 3 0a1.5 1.5 0 1 0 -3 0M173.98 366.30a1.5 1.5 0 1 0 3 0a1.5 1.5 0 1 0 -3 0M176.24 366.30a1.5 1.5 0 1 0 3 0a1.5 1.5 0 1 0 -3 0M178.49 366.30a1.5 1.5 0 1 0 3 0a1.5 1.5 0 1 0 -3 0M180.75 366.30a1.5 1.5 0 1 0 3 0a1.5 1.5 0 1 0 -3 0M183.01 366.30a1.5 1.5 0 1 0 3 0a1.5 1.5 0 1 0 -3 0M185.26 366.30a1.5 1.5 0 1 0 3 0a1.5 1.5 0 1 0 -3 0M187.52 366.30a1.5 1.5 0 1 0 3 0a1.5 1.5 0 1 0 -3 0M189.77 366.30a1.5 1.5 0 1 0 3 0a1.5 1.5 0 1 0 -3 0M192.03 366.08a1.5 1.5 0 1 0 3 0a1.5 1.5 0 1 0 -3 0M194.28 365.64a1.5 1.5 0 1 0 3 0a1.5 1.5 0 1 0 -3 0M196.54 364.55a1.5 1.5 0 1 0 3 0a1.5 1.5 0 1 0 -3 0M198.79 363.23a1.5 1.5 0 1 0 3 0a1.5 1.5 0 1 0 -3 0M201.05 360.82a1.5 1.5 0 1 0 3 0a1.5 1.5 0 1 0 -3 0M203.31 357.97a1.5 1.5 0 1 0 3 0a1.5 1.5 0 1 0 -3 0M205.56 353.14a1.5 1.5 0 1 0 3 0a1.5 1.5 0 1 0 -3 0M207.82 351.83a1.5 1.5 0 1 0 3 0a1.5 1.5 0 1 0 -3 0M210.07 344.15a1.5 1.5 0 1 0 3 0a1.5 1.5 0 1 0 -3 0M212.33 340.42a1.5 1.5 0 1 0 3 0a1.5 1.5 0 1 0 -3 0M214.58 333.41a1.5 1.5 0 1 0 3 0a1.5 1.5 0 1 0 -3 0M216.84 321.35a1.5 1.5 0 1 0 3 0a1.5 1.5 0 1 0 -3 0M219.09 309.72a1.5 1.5 0 1 0 3 0a1.5 1.5 0 1 0 -3 0M221.35 302.71a1.5 1.5 0 1 0 3 0a1.5 1.5 0 1 0 -3 0M223.61 289.11a1.5 1.5 0 1 0 3 0a1.5 1.5 0 1 0 -3 0M225.86 286.70a1.5 1.5 0 1 0 3 0a1.5 1.5 0 1 0 -3 0M228.12 298.10a1.5 1.5 0 1 0 3 0a1.5 1.5 0 1 0 -3 0M230.37 339.11a1.5 1.5 0 1 0 3 0a1.5 1.5 0 1 0 -3 0" fill="#1d1dff"/>
<polyline points="31.13,366.30 33.38,366.30 35.64,366.30 37.89,366.30 40.15,366.30 42.41,366.30 44.66,366.30 46.92,366.30 49.17,366.30 51.43,366.30 53.68,366.30 55.94,366.30 58.19,366.30 60.45,366.30 62.71,366.30 64.96,366.30 67.22,366.30 69.47,366.30 71.73,366.30 73.98,366.30 76.24,366.30 78.49,366.30 80.75,366.30 83.01,366.30 85.26,366.30 87.52,366.30 89.77,366.30 92.03,366.30 94.28,366.30 96.54,366.30 98.79,366.30 101.05,366.30 103.31,366.30 105.56,366.30 107.82,366.30 110.07,366.30 112.33,366.30 114.58,366.30 116.84,366.30 119.09,366.30 121.35,366.30 123.61,366.30 125.86,366.30 128.12,366.30 130.37,366.30 132.63,366.30 134.88,366.30 137.14,366.30 139.39,366.30 141.65,366.30 143.91,365.64 146.16,364.55 148.42,363.01 150.67,359.94 152.93,351.39 155.18,340.64 157.44,338.45 159.69,325.29 161.95,316.96 164.21,320.69 166.46,316.96 168.72,325.29 170.97,325.29 173.23,332.09 175.48,342.18 177.74,338.45 179.99,345.91 182.25,349.20 184.51,351.39 186.76,355.34 189.02,355.99 191.27,359.94 193.53,359.06 195.78,361.48 198.04,363.67 200.29,364.55 202.55,365.42 204.81,365.86 207.06,366.30 209.32,366.30 211.57,366.30 213.83,366.30 216.08,366.30 218.34,366.30 220.59,366.30 222.85,366.30 225.11,366.30 227.36,366.30 229.62,366.30 231.87,366.30" fill="none" stroke="#7a1f96" stroke-width="1.8" stroke-linejoin="round"/>
<path d="M29.63 366.30a1.5 1.5 0 1 0 3 0a1.5 1.5 0 1 0 -3 0M31.88 366.30a1.5 1.5 0 1 0 3 0a1.5 1.5 0 1 0 -3 0M34.14 366.30a1.5 1.5 0 1 0 3 0a1.5 1.5 0 1 0 -3 0M36.39 366.30a1.5 1.5 0 1 0 3 0a1.5 1.5 0 1 0 -3 0M38.65 366.30a1.5 1.5 0 1 0 3 0a1.5 1.5 0 1 0 -3 0M40.91 366.30a1.5 1.5 0 1 0 3 0a1.5 1.5 0 1 0 -3 0M43.16 366.30a1.5 1.5 0 1 0 3 0a1.5 1.5 0 1 0 -3 0M45.42 366.30a1.5 1.5 0 1 0 3 0a1.5 1.5 0 1 0 -3 0M47.67 366.30a1.5 1.5 0 1 0 3 0a1.5 1.5 0 1 0 -3 0M49.93 366.30a1.5 1.5 0 1 0 3 0a1.5 1.5 0 1 0 -3 0M52.18 366.30a1.5 1.5 0 1 0 3 0a1.5 1.5 0 1 0 -3 0M54.44 366.30a1.5 1.5 0 1 0 3 0a1.5 1.5 0 1 0 -3 0M56.69 366.30a1.5 1.5 0 1 0 3 0a1.5 1.5 0 1 0 -3 0M58.95 366.30a1.5 1.5 0 1 0 3 0a1.5 1.5 0 1 0 -3 0M61.21 366.30a1.5 1.5 0 1 0 3 0a1.5 1.5 0 1 0 -3 0M63.46 366.30a1.5 1.5 0 1 0 3 0a1.5 1.5 0 1 0 -3 0M65.72 366.30a1.5 1.5 0 1 0 3 0a1.5 1.5 0 1 0 -3 0M67.97 366.30a1.5 1.5 0 1 0 3 0a1.5 1.5 0 1 0 -3 0M70.23 366.30a1.5 1.5 0 1 0 3 0a1.5 1.5 0 1 0 -3 0M72.48 366.30a1.5 1.5 0 1 0 3 0a1.5 1.5 0 1 0 -3 0M74.74 366.30a1.5 1.5 0 1 0 3 0a1.5 1.5 0 1 0 -3 0M76.99 366.30a1.5 1.5 0 1 0 3 0a1.5 1.5 0 1 0 -3 0M79.25 366.30a1.5 1.5 0 1 0 3 0a1.5 1.5 0 1 0 -3 0M81.51 366.30a1.5 1.5 0 1 0 3 0a1.5 1.5 0 1 0 -3 0M83.76 366.30a1.5 1.5 0 1 0 3 0a1.5 1.5 0 1 0 -3 0M86.02 366.30a1.5 1.5 0 1 0 3 0a1.5 1.5 0 1 0 -3 0M88.27 366.30a1.5 1.5 0 1 0 3 0a1.5 1.5 0 1 0 -3 0M90.53 366.30a1.5 1.5 0 1 0 3 0a1.5 1.5 0 1 0 -3 0M92.78 366.30a1.5 1.5 0 1 0 3 0a1.5 1.5 0 1 0 -3 0M95.04 366.30a1.5 1.5 0 1 0 3 0a1.5 1.5 0 1 0 -3 0M97.29 366.30a1.5 1.5 0 1 0 3 0a1.5 1.5 0 1 0 -3 0M99.55 366.30a1.5 1.5 0 1 0 3 0a1.5 1.5 0 1 0 -3 0M101.81 366.30a1.5 1.5 0 1 0 3 0a1.5 1.5 0 1 0 -3 0M104.06 366.30a1.5 1.5 0 1 0 3 0a1.5 1.5 0 1 0 -3 0M106.32 366.30a1.5 1.5 0 1 0 3 0a1.5 1.5 0 1 0 -3 0M108.57 366.30a1.5 1.5 0 1 0 3 0a1.5 1.5 0 1 0 -3 0M110.83 366.30a1.5 1.5 0 1 0 3 0a1.5 1.5 0 1 0 -3 0M113.08 366.30a1.5 1.5 0 1 0 3 0a1.5 1.5 0 1 0 -3 0M115.34 366.30a1.5 1.5 0 1 0 3 0a1.5 1.5 0 1 0 -3 0M117.59 366.30a1.5 1.5 0 1 0 3 0a1.5 1.5 0 1 0 -3 0M119.85 366.30a1.5 1.5 0 1 0 3 0a1.5 1.5 0 1 0 -3 0M122.11 366.30a1.5 1.5 0 1 0 3 0a1.5 1.5 0 1 0 -3 0M124.36 366.30a1.5 1.5 0 1 0 3 0a1.5 1.5 0 1 0 -3 0M126.62 366.30a1.5 1.5 0 1 0 3 0a1.5 1.5 0 1 0 -3 0M128.87 366.30a1.5 1.5 0 1 0 3 0a1.5 1.5 0 1 0 -3 0M131.13 366.30a1.5 1.5 0 1 0 3 0a1.5 1.5 0 1 0 -3 0M133.38 366.30a1.5 1.5 0 1 0 3 0a1.5 1.5 0 1 0 -3 0M135.64 366.30a1.5 1.5 0 1 0 3 0a1.5 1.5 0 1 0 -3 0M137.89 366.30a1.5 1.5 0 1 0 3 0a1.5 1.5 0 1 0 -3 0M140.15 366.30a1.5 1.5 0 1 0 3 0a1.5 1.5 0 1 0 -3 0M142.41 365.64a1.5 1.5 0 1 0 3 0a1.5 1.5 0 1 0 -3 0M144.66 364.55a1.5 1.5 0 1 0 3 0a1.5 1.5 0 1 0 -3 0M146.92 363.01a1.5 1.5 0 1 0 3 0a1.5 1.5 0 1 0 -3 0M149.17 359.94a1.5 1.5 0 1 0 3 0a1.5 1.5 0 1 0 -3 0M151.43 351.39a1.5 1.5 0 1 0 3 0a1.5 1.5 0 1 0 -3 0M153.68 340.64a1.5 1.5 0 1 0 3 0a1.5 1.5 0 1 0 -3 0M155.94 338.45a1.5 1.5 0 1 0 3 0a1.5 1.5 0 1 0 -3 0M158.19 325.29a1.5 1.5 0 1 0 3 0a1.5 1.5 0 1 0 -3 0M160.45 316.96a1.5 1.5 0 1 0 3 0a1.5 1.5 0 1 0 -3 0M162.71 320.69a1.5 1.5 0 1 0 3 0a1.5 1.5 0 1 0 -3 0M164.96 316.96a1.5 1.5 0 1 0 3 0a1.5 1.5 0 1 0 -3 0M167.22 325.29a1.5 1.5 0 1 0 3 0a1.5 1.5 0 1 0 -3 0M169.47 325.29a1.5 1.5 0 1 0 3 0a1.5 1.5 0 1 0 -3 0M171.73 332.09a1.5 1.5 0 1 0 3 0a1.5 1.5 0 1 0 -3 0M173.98 342.18a1.5 1.5 0 1 0 3 0a1.5 1.5 0 1 0 -3 0M176.24 338.45a1.5 1.5 0 1 0 3 0a1.5 1.5 0 1 0 -3 0M178.49 345.91a1.5 1.5 0 1 0 3 0a1.5 1.5 0 1 0 -3 0M180.75 349.20a1.5 1.5 0 1 0 3 0a1.5 1.5 0 1 0 -3 0M183.01 351.39a1.5 1.5 0 1 0 3 0a1.5 1.5 0 1 0 -3 0M185.26 355.34a1.5 1.5 0 1 0 3 0a1.5 1.5 0 1 0 -3 0M187.52 355.99a1.5 1.5 0 1 0 3 0a1.5 1.5 0 1 0 -3 0M189.77 359.94a1.5 1.5 0 1 0 3 0a1.5 1.5 0 1 0 -3 0M192.03 359.06a1.5 1.5 0 1 0 3 0a1.5 1.5 0 1 0 -3 0M194.28 361.48a1.5 1.5 0 1 0 3 0a1.5 1.5 0 1 0 -3 0M196.54 363.67a1.5 1.5 0 1 0 3 0a1.5 1.5 0 1 0 -3 0M198.79 364.55a1.5 1.5 0 1 0 3 0a1.5 1.5 0 1 0 -3 0M201.05 365.42a1.5 1.5 0 1 0 3 0a1.5 1.5 0 1 0 -3 0M203.31 365.86a1.5 1.5 0 1 0 3 0a1.5 1.5 0 1 0 -3 0M205.56 366.30a1.5 1.5 0 1 0 3 0a1.5 1.5 0 1 0 -3 0M207.82 366.30a1.5 1.5 0 1 0 3 0a1.5 1.5 0 1 0 -3 0M210.07 366.30a1.5 1.5 0 1 0 3 0a1.5 1.5 0 1 0 -3 0M212.33 366.30a1.5 1.5 0 1 0 3 0a1.5 1.5 0 1 0 -3 0M214.58 366.30a1.5 1.5 0 1 0 3 0a1.5 1.5 0 1 0 -3 0M216.84 366.30a1.5 1.5 0 1 0 3 0a1.5 1.5 0 1 0 -3 0M219.09 366.30a1.5 1.5 0 1 0 3 0a1.5 1.5 0 1 0 -3 0M221.35 366.30a1.5 1.5 0 1 0 3 0a1.5 1.5 0 1 0 -3 0M223.61 366.30a1.5 1.5 0 1 0 3 0a1.5 1.5 0 1 0 -3 0M225.86 366.30a1.5 1.5 0 1 0 3 0a1.5 1.5 0 1 0 -3 0M228.12 366.30a1.5 1.5 0 1 0 3 0a1.5 1.5 0 1 0 -3 0M230.37 366.30a1.5 1.5 0 1 0 3 0a1.5 1.5 0 1 0 -3 0" fill="#7a1f96"/>
<line x1="148.20" y1="222.40" x2="164.90" y2="222.40" stroke="#eea43a" stroke-width="2.8"/>
<text x="169.70" y="225.00" font-size="7.81" textLength="8.30" lengthAdjust="spacingAndGlyphs">all</text>
<line x1="148.20" y1="232.80" x2="164.90" y2="232.80" stroke="#ff2417" stroke-width="1.5"/>
<circle cx="156.5" cy="232.8" r="1.3" fill="#ff2417"/>
<text x="169.7" y="235.40" font-size="7.81" fill="#262626" textLength="40.90" lengthAdjust="spacingAndGlyphs"><tspan font-style="italic">cis</tspan>-1,2-DCE</text>
<line x1="148.20" y1="243.50" x2="164.90" y2="243.50" stroke="#2f8f22" stroke-width="1.5"/>
<circle cx="156.5" cy="243.5" r="1.3" fill="#2f8f22"/>
<text x="169.7" y="246.10" font-size="7.81" fill="#262626" textLength="57.25" lengthAdjust="spacingAndGlyphs"><tspan font-style="italic">twisted</tspan>-1,2-DCE</text>
<line x1="148.20" y1="254.00" x2="164.90" y2="254.00" stroke="#1d1dff" stroke-width="1.5"/>
<circle cx="156.5" cy="254.0" r="1.3" fill="#1d1dff"/>
<text x="169.7" y="256.60" font-size="7.81" fill="#262626" textLength="49.58" lengthAdjust="spacingAndGlyphs"><tspan font-style="italic">trans</tspan>-1,2-DCE</text>
<line x1="148.20" y1="264.20" x2="164.90" y2="264.20" stroke="#7a1f96" stroke-width="1.5"/>
<circle cx="156.5" cy="264.2" r="1.3" fill="#7a1f96"/>
<text x="169.70" y="266.80" font-size="7.81" textLength="28.76" lengthAdjust="spacingAndGlyphs">1,1-DCE</text>
<text x="8.50" y="290.80" font-size="9.2" text-anchor="middle" textLength="34.60" lengthAdjust="spacingAndGlyphs" transform="rotate(-90 8.50 290.80)">Counts</text>
<text x="98.8" y="385.8" font-size="10.34" fill="#262626" textLength="65.6" lengthAdjust="spacingAndGlyphs"><tspan font-style="italic">θ</tspan><tspan font-size="7.26" dy="1.6">56</tspan><tspan dy="-1.6"> (degrees)</tspan></text>
<text x="34.90" y="358.50" font-size="13.2" font-weight="bold" textLength="16.00" lengthAdjust="spacingAndGlyphs">(c)</text>
<line x1="316.45" y1="212.30" x2="316.45" y2="366.20" stroke="#ebebeb" stroke-width="0.8"/>
<line x1="274.40" y1="327.73" x2="442.60" y2="327.73" stroke="#ebebeb" stroke-width="0.8"/>
<line x1="358.50" y1="212.30" x2="358.50" y2="366.20" stroke="#ebebeb" stroke-width="0.8"/>
<line x1="274.40" y1="289.25" x2="442.60" y2="289.25" stroke="#ebebeb" stroke-width="0.8"/>
<line x1="400.55" y1="212.30" x2="400.55" y2="366.20" stroke="#ebebeb" stroke-width="0.8"/>
<line x1="274.40" y1="250.78" x2="442.60" y2="250.78" stroke="#ebebeb" stroke-width="0.8"/>
<path d="M332.34 290.96h2.17v2.01h-2.17zM334.20 290.96h2.17v2.01h-2.17zM334.20 284.12h2.17v2.01h-2.17zM336.07 297.80h2.17v2.01h-2.17zM336.07 292.67h2.17v2.01h-2.17zM336.07 284.12h2.17v2.01h-2.17zM336.07 282.41h2.17v2.01h-2.17zM337.94 282.41h2.17v2.01h-2.17zM339.81 287.54h2.17v2.01h-2.17zM339.81 285.83h2.17v2.01h-2.17zM339.81 284.12h2.17v2.01h-2.17zM341.68 285.83h2.17v2.01h-2.17zM341.68 284.12h2.17v2.01h-2.17zM347.29 278.99h2.17v2.01h-2.17zM349.16 299.51h2.17v2.01h-2.17zM349.16 282.41h2.17v2.01h-2.17zM351.02 284.12h2.17v2.01h-2.17zM351.02 282.41h2.17v2.01h-2.17zM356.63 297.80h2.17v2.01h-2.17zM356.63 282.41h2.17v2.01h-2.17zM356.63 237.95h2.17v2.01h-2.17zM356.63 232.82h2.17v2.01h-2.17zM358.50 267.02h2.17v2.01h-2.17zM358.50 237.95h2.17v2.01h-2.17zM360.37 285.83h2.17v2.01h-2.17zM360.37 246.50h2.17v2.01h-2.17zM360.37 234.53h2.17v2.01h-2.17zM362.24 297.80h2.17v2.01h-2.17zM362.24 289.25h2.17v2.01h-2.17zM362.24 275.57h2.17v2.01h-2.17zM362.24 273.86h2.17v2.01h-2.17zM362.24 234.53h2.17v2.01h-2.17zM364.11 296.09h2.17v2.01h-2.17zM364.11 292.67h2.17v2.01h-2.17zM364.11 287.54h2.17v2.01h-2.17zM364.11 285.83h2.17v2.01h-2.17zM364.11 275.57h2.17v2.01h-2.17zM364.11 270.44h2.17v2.01h-2.17zM364.11 237.95h2.17v2.01h-2.17zM364.11 234.53h2.17v2.01h-2.17zM365.98 277.28h2.17v2.01h-2.17zM365.98 275.57h2.17v2.01h-2.17zM365.98 236.24h2.17v2.01h-2.17zM365.98 234.53h2.17v2.01h-2.17zM367.84 294.38h2.17v2.01h-2.17zM367.84 290.96h2.17v2.01h-2.17zM367.84 277.28h2.17v2.01h-2.17zM367.84 275.57h2.17v2.01h-2.17zM367.84 272.15h2.17v2.01h-2.17zM367.84 239.66h2.17v2.01h-2.17zM367.84 237.95h2.17v2.01h-2.17zM367.84 232.82h2.17v2.01h-2.17zM369.71 280.70h2.17v2.01h-2.17zM369.71 277.28h2.17v2.01h-2.17zM369.71 275.57h2.17v2.01h-2.17zM369.71 237.95h2.17v2.01h-2.17zM369.71 236.24h2.17v2.01h-2.17zM371.58 282.41h2.17v2.01h-2.17zM371.58 278.99h2.17v2.01h-2.17zM371.58 239.66h2.17v2.01h-2.17zM371.58 237.95h2.17v2.01h-2.17zM371.58 236.24h2.17v2.01h-2.17zM373.45 282.41h2.17v2.01h-2.17zM373.45 237.95h2.17v2.01h-2.17zM373.45 234.53h2.17v2.01h-2.17zM375.32 280.70h2.17v2.01h-2.17zM375.32 239.66h2.17v2.01h-2.17zM377.19 284.12h2.17v2.01h-2.17zM377.19 278.99h2.17v2.01h-2.17zM377.19 243.08h2.17v2.01h-2.17zM377.19 239.66h2.17v2.01h-2.17zM379.06 289.25h2.17v2.01h-2.17zM379.06 285.83h2.17v2.01h-2.17zM379.06 284.12h2.17v2.01h-2.17zM379.06 280.70h2.17v2.01h-2.17zM379.06 239.66h2.17v2.01h-2.17zM379.06 237.95h2.17v2.01h-2.17zM380.93 287.54h2.17v2.01h-2.17zM380.93 284.12h2.17v2.01h-2.17zM380.93 280.70h2.17v2.01h-2.17zM380.93 246.50h2.17v2.01h-2.17zM380.93 243.08h2.17v2.01h-2.17zM380.93 241.37h2.17v2.01h-2.17zM380.93 237.95h2.17v2.01h-2.17zM382.80 287.54h2.17v2.01h-2.17zM382.80 285.83h2.17v2.01h-2.17zM382.80 282.41h2.17v2.01h-2.17zM382.80 249.92h2.17v2.01h-2.17zM382.80 248.21h2.17v2.01h-2.17zM384.66 285.83h2.17v2.01h-2.17zM384.66 282.41h2.17v2.01h-2.17zM384.66 248.21h2.17v2.01h-2.17zM386.53 287.54h2.17v2.01h-2.17zM386.53 248.21h2.17v2.01h-2.17zM388.40 285.83h2.17v2.01h-2.17zM388.40 278.99h2.17v2.01h-2.17zM388.40 265.31h2.17v2.01h-2.17zM388.40 258.47h2.17v2.01h-2.17zM390.27 287.54h2.17v2.01h-2.17zM390.27 282.41h2.17v2.01h-2.17zM390.27 278.99h2.17v2.01h-2.17zM390.27 260.18h2.17v2.01h-2.17zM390.27 253.34h2.17v2.01h-2.17zM392.14 278.99h2.17v2.01h-2.17zM392.14 261.89h2.17v2.01h-2.17zM392.14 258.47h2.17v2.01h-2.17zM392.14 256.76h2.17v2.01h-2.17zM394.01 289.25h2.17v2.01h-2.17zM394.01 282.41h2.17v2.01h-2.17zM394.01 280.70h2.17v2.01h-2.17zM394.01 278.99h2.17v2.01h-2.17zM394.01 275.57h2.17v2.01h-2.17zM394.01 272.15h2.17v2.01h-2.17zM394.01 268.73h2.17v2.01h-2.17zM394.01 265.31h2.17v2.01h-2.17zM394.01 261.89h2.17v2.01h-2.17zM394.01 256.76h2.17v2.01h-2.17zM395.88 284.12h2.17v2.01h-2.17zM395.88 275.57h2.17v2.01h-2.17zM395.88 272.15h2.17v2.01h-2.17zM395.88 265.31h2.17v2.01h-2.17zM397.75 280.70h2.17v2.01h-2.17zM397.75 273.86h2.17v2.01h-2.17zM397.75 268.73h2.17v2.01h-2.17zM397.75 267.02h2.17v2.01h-2.17zM399.62 284.12h2.17v2.01h-2.17zM399.62 275.57h2.17v2.01h-2.17zM399.62 272.15h2.17v2.01h-2.17zM399.62 256.76h2.17v2.01h-2.17zM401.48 284.12h2.17v2.01h-2.17zM401.48 275.57h2.17v2.01h-2.17zM401.48 270.44h2.17v2.01h-2.17zM401.48 265.31h2.17v2.01h-2.17zM403.35 270.44h2.17v2.01h-2.17zM410.83 220.85h2.17v2.01h-2.17zM410.83 215.72h2.17v2.01h-2.17zM412.70 222.56h2.17v2.01h-2.17zM414.57 229.40h2.17v2.01h-2.17zM414.57 227.69h2.17v2.01h-2.17zM414.57 224.27h2.17v2.01h-2.17zM414.57 220.85h2.17v2.01h-2.17zM414.57 215.72h2.17v2.01h-2.17zM416.44 231.11h2.17v2.01h-2.17zM416.44 229.40h2.17v2.01h-2.17zM416.44 219.14h2.17v2.01h-2.17zM418.30 234.53h2.17v2.01h-2.17zM418.30 229.40h2.17v2.01h-2.17zM418.30 225.98h2.17v2.01h-2.17zM418.30 212.30h2.17v2.01h-2.17zM420.17 229.40h2.17v2.01h-2.17zM420.17 212.30h2.17v2.01h-2.17zM422.04 241.37h2.17v2.01h-2.17zM422.04 239.66h2.17v2.01h-2.17zM422.04 229.40h2.17v2.01h-2.17zM423.91 231.11h2.17v2.01h-2.17zM423.91 227.69h2.17v2.01h-2.17zM425.78 237.95h2.17v2.01h-2.17zM425.78 236.24h2.17v2.01h-2.17zM425.78 231.11h2.17v2.01h-2.17zM427.65 237.95h2.17v2.01h-2.17zM427.65 236.24h2.17v2.01h-2.17zM427.65 234.53h2.17v2.01h-2.17zM429.52 236.24h2.17v2.01h-2.17zM431.39 241.37h2.17v2.01h-2.17zM431.39 237.95h2.17v2.01h-2.17zM431.39 236.24h2.17v2.01h-2.17zM431.39 232.82h2.17v2.01h-2.17zM433.26 234.53h2.17v2.01h-2.17zM435.12 237.95h2.17v2.01h-2.17zM436.99 236.24h2.17v2.01h-2.17zM438.86 234.53h2.17v2.01h-2.17zM440.73 237.95h2.17v2.01h-2.17zM440.73 236.24h2.17v2.01h-2.17zM440.73 234.53h2.17v2.01h-2.17z" fill="#010106" shape-rendering="crispEdges"/>
<path d="M334.20 296.09h2.17v2.01h-2.17zM334.20 294.38h2.17v2.01h-2.17zM336.07 296.09h2.17v2.01h-2.17zM336.07 294.38h2.17v2.01h-2.17zM336.07 290.96h2.17v2.01h-2.17zM337.94 297.80h2.17v2.01h-2.17zM337.94 289.25h2.17v2.01h-2.17zM341.68 287.54h2.17v2.01h-2.17zM343.55 284.12h2.17v2.01h-2.17zM345.42 282.41h2.17v2.01h-2.17zM345.42 280.70h2.17v2.01h-2.17zM354.76 284.12h2.17v2.01h-2.17zM356.63 285.83h2.17v2.01h-2.17zM356.63 284.12h2.17v2.01h-2.17zM356.63 270.44h2.17v2.01h-2.17zM356.63 260.18h2.17v2.01h-2.17zM358.50 297.80h2.17v2.01h-2.17zM358.50 287.54h2.17v2.01h-2.17zM358.50 263.60h2.17v2.01h-2.17zM358.50 255.05h2.17v2.01h-2.17zM358.50 232.82h2.17v2.01h-2.17zM360.37 296.09h2.17v2.01h-2.17zM360.37 289.25h2.17v2.01h-2.17zM360.37 287.54h2.17v2.01h-2.17zM360.37 236.24h2.17v2.01h-2.17zM362.24 267.02h2.17v2.01h-2.17zM362.24 237.95h2.17v2.01h-2.17zM362.24 236.24h2.17v2.01h-2.17zM364.11 290.96h2.17v2.01h-2.17zM364.11 289.25h2.17v2.01h-2.17zM364.11 272.15h2.17v2.01h-2.17zM364.11 239.66h2.17v2.01h-2.17zM364.11 236.24h2.17v2.01h-2.17zM364.11 232.82h2.17v2.01h-2.17zM365.98 296.09h2.17v2.01h-2.17zM365.98 273.86h2.17v2.01h-2.17zM365.98 272.15h2.17v2.01h-2.17zM369.71 278.99h2.17v2.01h-2.17zM369.71 273.86h2.17v2.01h-2.17zM369.71 270.44h2.17v2.01h-2.17zM369.71 239.66h2.17v2.01h-2.17zM369.71 234.53h2.17v2.01h-2.17zM371.58 277.28h2.17v2.01h-2.17zM371.58 241.37h2.17v2.01h-2.17zM373.45 278.99h2.17v2.01h-2.17zM375.32 243.08h2.17v2.01h-2.17zM375.32 241.37h2.17v2.01h-2.17zM375.32 236.24h2.17v2.01h-2.17zM377.19 277.28h2.17v2.01h-2.17zM380.93 249.92h2.17v2.01h-2.17zM380.93 248.21h2.17v2.01h-2.17zM380.93 244.79h2.17v2.01h-2.17zM382.80 280.70h2.17v2.01h-2.17zM382.80 278.99h2.17v2.01h-2.17zM382.80 251.63h2.17v2.01h-2.17zM382.80 246.50h2.17v2.01h-2.17zM386.53 278.99h2.17v2.01h-2.17zM386.53 277.28h2.17v2.01h-2.17zM386.53 253.34h2.17v2.01h-2.17zM388.40 270.44h2.17v2.01h-2.17zM388.40 256.76h2.17v2.01h-2.17zM390.27 261.89h2.17v2.01h-2.17zM390.27 258.47h2.17v2.01h-2.17zM392.14 280.70h2.17v2.01h-2.17zM392.14 277.28h2.17v2.01h-2.17zM392.14 273.86h2.17v2.01h-2.17zM392.14 263.60h2.17v2.01h-2.17zM392.14 260.18h2.17v2.01h-2.17zM392.14 253.34h2.17v2.01h-2.17zM394.01 277.28h2.17v2.01h-2.17zM395.88 280.70h2.17v2.01h-2.17zM395.88 273.86h2.17v2.01h-2.17zM395.88 270.44h2.17v2.01h-2.17zM397.75 282.41h2.17v2.01h-2.17zM412.70 225.98h2.17v2.01h-2.17zM412.70 220.85h2.17v2.01h-2.17zM414.57 214.01h2.17v2.01h-2.17zM418.30 232.82h2.17v2.01h-2.17zM418.30 220.85h2.17v2.01h-2.17zM418.30 219.14h2.17v2.01h-2.17zM420.17 214.01h2.17v2.01h-2.17zM422.04 234.53h2.17v2.01h-2.17zM422.04 227.69h2.17v2.01h-2.17zM422.04 225.98h2.17v2.01h-2.17zM423.91 232.82h2.17v2.01h-2.17zM425.78 234.53h2.17v2.01h-2.17zM425.78 232.82h2.17v2.01h-2.17zM427.65 232.82h2.17v2.01h-2.17zM427.65 231.11h2.17v2.01h-2.17zM429.52 237.95h2.17v2.01h-2.17zM431.39 231.11h2.17v2.01h-2.17zM436.99 237.95h2.17v2.01h-2.17zM436.99 234.53h2.17v2.01h-2.17zM438.86 236.24h2.17v2.01h-2.17z" fill="#02020c" shape-rendering="crispEdges"/>
<path d="M337.94 296.09h2.17v2.01h-2.17zM337.94 292.67h2.17v2.01h-2.17zM337.94 287.54h2.17v2.01h-2.17zM339.81 289.25h2.17v2.01h-2.17zM349.16 284.12h2.17v2.01h-2.17zM356.63 256.76h2.17v2.01h-2.17zM356.63 241.37h2.17v2.01h-2.17zM356.63 236.24h2.17v2.01h-2.17zM358.50 296.09h2.17v2.01h-2.17zM358.50 236.24h2.17v2.01h-2.17zM358.50 234.53h2.17v2.01h-2.17zM360.37 268.73h2.17v2.01h-2.17zM360.37 265.31h2.17v2.01h-2.17zM360.37 255.05h2.17v2.01h-2.17zM360.37 244.79h2.17v2.01h-2.17zM360.37 239.66h2.17v2.01h-2.17zM362.24 270.44h2.17v2.01h-2.17zM362.24 263.60h2.17v2.01h-2.17zM364.11 267.02h2.17v2.01h-2.17zM364.11 241.37h2.17v2.01h-2.17zM365.98 237.95h2.17v2.01h-2.17zM369.71 241.37h2.17v2.01h-2.17zM373.45 275.57h2.17v2.01h-2.17zM373.45 243.08h2.17v2.01h-2.17zM373.45 241.37h2.17v2.01h-2.17zM379.06 282.41h2.17v2.01h-2.17zM382.80 277.28h2.17v2.01h-2.17zM384.66 251.63h2.17v2.01h-2.17zM386.53 256.76h2.17v2.01h-2.17zM386.53 249.92h2.17v2.01h-2.17zM388.40 273.86h2.17v2.01h-2.17zM388.40 267.02h2.17v2.01h-2.17zM390.27 277.28h2.17v2.01h-2.17zM392.14 270.44h2.17v2.01h-2.17zM394.01 267.02h2.17v2.01h-2.17zM418.30 224.27h2.17v2.01h-2.17zM420.17 219.14h2.17v2.01h-2.17zM422.04 219.14h2.17v2.01h-2.17zM422.04 212.30h2.17v2.01h-2.17zM423.91 229.40h2.17v2.01h-2.17zM423.91 224.27h2.17v2.01h-2.17zM429.52 232.82h2.17v2.01h-2.17zM431.39 234.53h2.17v2.01h-2.17zM433.26 232.82h2.17v2.01h-2.17zM433.26 231.11h2.17v2.01h-2.17z" fill="#050417" shape-rendering="crispEdges"/>
<path d="M337.94 294.38h2.17v2.01h-2.17zM337.94 290.96h2.17v2.01h-2.17zM339.81 290.96h2.17v2.01h-2.17zM341.68 297.80h2.17v2.01h-2.17zM343.55 297.80h2.17v2.01h-2.17zM343.55 285.83h2.17v2.01h-2.17zM347.29 284.12h2.17v2.01h-2.17zM352.89 284.12h2.17v2.01h-2.17zM356.63 258.47h2.17v2.01h-2.17zM356.63 255.05h2.17v2.01h-2.17zM356.63 239.66h2.17v2.01h-2.17zM358.50 256.76h2.17v2.01h-2.17zM358.50 248.21h2.17v2.01h-2.17zM358.50 239.66h2.17v2.01h-2.17zM360.37 260.18h2.17v2.01h-2.17zM362.24 290.96h2.17v2.01h-2.17zM362.24 265.31h2.17v2.01h-2.17zM371.58 273.86h2.17v2.01h-2.17zM371.58 243.08h2.17v2.01h-2.17zM373.45 244.79h2.17v2.01h-2.17zM379.06 275.57h2.17v2.01h-2.17zM380.93 278.99h2.17v2.01h-2.17zM380.93 275.57h2.17v2.01h-2.17zM390.27 267.02h2.17v2.01h-2.17zM390.27 265.31h2.17v2.01h-2.17zM390.27 263.60h2.17v2.01h-2.17zM392.14 267.02h2.17v2.01h-2.17zM418.30 222.56h2.17v2.01h-2.17zM420.17 225.98h2.17v2.01h-2.17zM423.91 225.98h2.17v2.01h-2.17zM427.65 229.40h2.17v2.01h-2.17zM429.52 229.40h2.17v2.01h-2.17zM433.26 229.40h2.17v2.01h-2.17zM435.12 234.53h2.17v2.01h-2.17zM438.86 231.11h2.17v2.01h-2.17z" fill="#07051b" shape-rendering="crispEdges"/>
<path d="M339.81 296.09h2.17v2.01h-2.17zM341.68 289.25h2.17v2.01h-2.17zM345.42 297.80h2.17v2.01h-2.17zM356.63 287.54h2.17v2.01h-2.17zM356.63 246.50h2.17v2.01h-2.17zM356.63 234.53h2.17v2.01h-2.17zM358.50 246.50h2.17v2.01h-2.17zM358.50 241.37h2.17v2.01h-2.17zM360.37 294.38h2.17v2.01h-2.17zM360.37 290.96h2.17v2.01h-2.17zM360.37 248.21h2.17v2.01h-2.17zM362.24 239.66h2.17v2.01h-2.17zM365.98 267.02h2.17v2.01h-2.17zM365.98 241.37h2.17v2.01h-2.17zM367.84 241.37h2.17v2.01h-2.17zM369.71 268.73h2.17v2.01h-2.17zM369.71 243.08h2.17v2.01h-2.17zM371.58 275.57h2.17v2.01h-2.17zM373.45 246.50h2.17v2.01h-2.17zM377.19 282.41h2.17v2.01h-2.17zM382.80 253.34h2.17v2.01h-2.17zM384.66 261.89h2.17v2.01h-2.17zM388.40 272.15h2.17v2.01h-2.17zM392.14 265.31h2.17v2.01h-2.17zM420.17 217.43h2.17v2.01h-2.17zM422.04 217.43h2.17v2.01h-2.17zM425.78 212.30h2.17v2.01h-2.17zM431.39 229.40h2.17v2.01h-2.17zM431.39 225.98h2.17v2.01h-2.17zM435.12 231.11h2.17v2.01h-2.17zM435.12 229.40h2.17v2.01h-2.17zM440.73 229.40h2.17v2.01h-2.17z" fill="#0c0826" shape-rendering="crispEdges"/>
<path d="M339.81 294.38h2.17v2.01h-2.17zM356.63 296.09h2.17v2.01h-2.17zM365.98 246.50h2.17v2.01h-2.17zM367.84 265.31h2.17v2.01h-2.17zM367.84 246.50h2.17v2.01h-2.17zM369.71 249.92h2.17v2.01h-2.17zM369.71 248.21h2.17v2.01h-2.17zM379.06 270.44h2.17v2.01h-2.17zM380.93 270.44h2.17v2.01h-2.17zM382.80 272.15h2.17v2.01h-2.17zM382.80 263.60h2.17v2.01h-2.17zM382.80 261.89h2.17v2.01h-2.17zM382.80 260.18h2.17v2.01h-2.17zM425.78 219.14h2.17v2.01h-2.17zM427.65 214.01h2.17v2.01h-2.17zM438.86 224.27h2.17v2.01h-2.17zM440.73 224.27h2.17v2.01h-2.17z" fill="#340a5f" shape-rendering="crispEdges"/>
<path d="M339.81 292.67h2.17v2.01h-2.17zM341.68 290.96h2.17v2.01h-2.17zM352.89 287.54h2.17v2.01h-2.17zM354.76 285.83h2.17v2.01h-2.17zM356.63 248.21h2.17v2.01h-2.17zM362.24 260.18h2.17v2.01h-2.17zM362.24 258.47h2.17v2.01h-2.17zM362.24 248.21h2.17v2.01h-2.17zM364.11 263.60h2.17v2.01h-2.17zM364.11 246.50h2.17v2.01h-2.17zM364.11 244.79h2.17v2.01h-2.17zM367.84 244.79h2.17v2.01h-2.17zM375.32 248.21h2.17v2.01h-2.17zM375.32 246.50h2.17v2.01h-2.17zM377.19 248.21h2.17v2.01h-2.17zM384.66 272.15h2.17v2.01h-2.17zM386.53 263.60h2.17v2.01h-2.17zM386.53 261.89h2.17v2.01h-2.17zM425.78 224.27h2.17v2.01h-2.17zM427.65 224.27h2.17v2.01h-2.17zM427.65 212.30h2.17v2.01h-2.17zM429.52 231.11h2.17v2.01h-2.17zM429.52 227.69h2.17v2.01h-2.17zM431.39 227.69h2.17v2.01h-2.17zM440.73 227.69h2.17v2.01h-2.17z" fill="#1b0c41" shape-rendering="crispEdges"/>
<path d="M341.68 296.09h2.17v2.01h-2.17zM343.55 287.54h2.17v2.01h-2.17zM351.02 285.83h2.17v2.01h-2.17zM360.37 258.47h2.17v2.01h-2.17zM360.37 243.08h2.17v2.01h-2.17zM364.11 265.31h2.17v2.01h-2.17zM371.58 244.79h2.17v2.01h-2.17zM375.32 273.86h2.17v2.01h-2.17zM379.06 277.28h2.17v2.01h-2.17zM379.06 251.63h2.17v2.01h-2.17zM379.06 249.92h2.17v2.01h-2.17zM384.66 256.76h2.17v2.01h-2.17zM386.53 268.73h2.17v2.01h-2.17zM390.27 275.57h2.17v2.01h-2.17zM420.17 220.85h2.17v2.01h-2.17zM422.04 222.56h2.17v2.01h-2.17zM425.78 225.98h2.17v2.01h-2.17zM427.65 225.98h2.17v2.01h-2.17zM429.52 225.98h2.17v2.01h-2.17zM431.39 212.30h2.17v2.01h-2.17z" fill="#140b34" shape-rendering="crispEdges"/>
<path d="M341.68 294.38h2.17v2.01h-2.17zM351.02 287.54h2.17v2.01h-2.17zM354.76 289.25h2.17v2.01h-2.17zM356.63 290.96h2.17v2.01h-2.17zM358.50 294.38h2.17v2.01h-2.17zM364.11 256.76h2.17v2.01h-2.17zM365.98 251.63h2.17v2.01h-2.17zM377.19 255.05h2.17v2.01h-2.17zM380.93 265.31h2.17v2.01h-2.17zM380.93 258.47h2.17v2.01h-2.17zM429.52 224.27h2.17v2.01h-2.17zM429.52 219.14h2.17v2.01h-2.17z" fill="#450a69" shape-rendering="crispEdges"/>
<path d="M341.68 292.67h2.17v2.01h-2.17zM356.63 292.67h2.17v2.01h-2.17zM360.37 251.63h2.17v2.01h-2.17zM364.11 258.47h2.17v2.01h-2.17zM364.11 249.92h2.17v2.01h-2.17zM364.11 248.21h2.17v2.01h-2.17zM365.98 263.60h2.17v2.01h-2.17zM375.32 270.44h2.17v2.01h-2.17zM377.19 253.34h2.17v2.01h-2.17zM377.19 251.63h2.17v2.01h-2.17zM425.78 214.01h2.17v2.01h-2.17zM431.39 222.56h2.17v2.01h-2.17zM433.26 220.85h2.17v2.01h-2.17zM436.99 224.27h2.17v2.01h-2.17zM438.86 212.30h2.17v2.01h-2.17z" fill="#390963" shape-rendering="crispEdges"/>
<path d="M343.55 296.09h2.17v2.01h-2.17zM371.58 267.02h2.17v2.01h-2.17zM373.45 267.02h2.17v2.01h-2.17zM375.32 249.92h2.17v2.01h-2.17zM380.93 267.02h2.17v2.01h-2.17zM429.52 214.01h2.17v2.01h-2.17z" fill="#520e6d" shape-rendering="crispEdges"/>
<path d="M343.55 294.38h2.17v2.01h-2.17zM367.84 256.76h2.17v2.01h-2.17zM373.45 260.18h2.17v2.01h-2.17zM440.73 215.72h2.17v2.01h-2.17z" fill="#972766" shape-rendering="crispEdges"/>
<path d="M343.55 292.67h2.17v2.01h-2.17zM369.71 263.60h2.17v2.01h-2.17zM377.19 263.60h2.17v2.01h-2.17zM379.06 260.18h2.17v2.01h-2.17zM379.06 258.47h2.17v2.01h-2.17zM379.06 253.34h2.17v2.01h-2.17zM380.93 260.18h2.17v2.01h-2.17zM435.12 212.30h2.17v2.01h-2.17zM438.86 215.72h2.17v2.01h-2.17z" fill="#5a116e" shape-rendering="crispEdges"/>
<path d="M343.55 290.96h2.17v2.01h-2.17zM365.98 249.92h2.17v2.01h-2.17zM367.84 261.89h2.17v2.01h-2.17zM373.45 253.34h2.17v2.01h-2.17zM382.80 268.73h2.17v2.01h-2.17zM429.52 217.43h2.17v2.01h-2.17z" fill="#4d0d6c" shape-rendering="crispEdges"/>
<path d="M343.55 289.25h2.17v2.01h-2.17zM349.16 285.83h2.17v2.01h-2.17zM354.76 297.80h2.17v2.01h-2.17zM356.63 249.92h2.17v2.01h-2.17zM356.63 244.79h2.17v2.01h-2.17zM356.63 243.08h2.17v2.01h-2.17zM360.37 249.92h2.17v2.01h-2.17zM360.37 241.37h2.17v2.01h-2.17zM365.98 260.18h2.17v2.01h-2.17zM365.98 244.79h2.17v2.01h-2.17zM367.84 267.02h2.17v2.01h-2.17zM369.71 244.79h2.17v2.01h-2.17zM375.32 275.57h2.17v2.01h-2.17zM377.19 273.86h2.17v2.01h-2.17zM382.80 255.05h2.17v2.01h-2.17zM386.53 270.44h2.17v2.01h-2.17zM386.53 265.31h2.17v2.01h-2.17zM422.04 220.85h2.17v2.01h-2.17zM436.99 229.40h2.17v2.01h-2.17zM438.86 227.69h2.17v2.01h-2.17zM438.86 225.98h2.17v2.01h-2.17z" fill="#160b39" shape-rendering="crispEdges"/>
<path d="M345.42 296.09h2.17v2.01h-2.17zM373.45 261.89h2.17v2.01h-2.17zM379.06 265.31h2.17v2.01h-2.17zM438.86 220.85h2.17v2.01h-2.17zM438.86 219.14h2.17v2.01h-2.17z" fill="#771c6d" shape-rendering="crispEdges"/>
<path d="M345.42 294.38h2.17v2.01h-2.17z" fill="#d04545" shape-rendering="crispEdges"/>
<path d="M345.42 292.67h2.17v2.01h-2.17z" fill="#b0315b" shape-rendering="crispEdges"/>
<path d="M345.42 290.96h2.17v2.01h-2.17zM367.84 253.34h2.17v2.01h-2.17zM375.32 261.89h2.17v2.01h-2.17zM377.19 260.18h2.17v2.01h-2.17zM431.39 217.43h2.17v2.01h-2.17zM436.99 217.43h2.17v2.01h-2.17z" fill="#87216b" shape-rendering="crispEdges"/>
<path d="M345.42 289.25h2.17v2.01h-2.17zM356.63 294.38h2.17v2.01h-2.17zM364.11 253.34h2.17v2.01h-2.17zM371.58 268.73h2.17v2.01h-2.17zM371.58 256.76h2.17v2.01h-2.17zM371.58 251.63h2.17v2.01h-2.17zM371.58 249.92h2.17v2.01h-2.17zM377.19 270.44h2.17v2.01h-2.17zM429.52 220.85h2.17v2.01h-2.17zM435.12 222.56h2.17v2.01h-2.17z" fill="#4a0c6b" shape-rendering="crispEdges"/>
<path d="M345.42 287.54h2.17v2.01h-2.17zM356.63 289.25h2.17v2.01h-2.17zM358.50 249.92h2.17v2.01h-2.17zM362.24 243.08h2.17v2.01h-2.17zM375.32 272.15h2.17v2.01h-2.17zM377.19 275.57h2.17v2.01h-2.17zM379.06 272.15h2.17v2.01h-2.17zM382.80 273.86h2.17v2.01h-2.17zM420.17 215.72h2.17v2.01h-2.17zM423.91 215.72h2.17v2.01h-2.17zM429.52 222.56h2.17v2.01h-2.17z" fill="#1e0c45" shape-rendering="crispEdges"/>
<path d="M345.42 285.83h2.17v2.01h-2.17zM345.42 284.12h2.17v2.01h-2.17zM347.29 285.83h2.17v2.01h-2.17zM347.29 282.41h2.17v2.01h-2.17zM356.63 265.31h2.17v2.01h-2.17zM356.63 263.60h2.17v2.01h-2.17zM356.63 261.89h2.17v2.01h-2.17zM358.50 285.83h2.17v2.01h-2.17zM358.50 261.89h2.17v2.01h-2.17zM360.37 267.02h2.17v2.01h-2.17zM360.37 263.60h2.17v2.01h-2.17zM362.24 296.09h2.17v2.01h-2.17zM362.24 294.38h2.17v2.01h-2.17zM362.24 292.67h2.17v2.01h-2.17zM362.24 268.73h2.17v2.01h-2.17zM364.11 294.38h2.17v2.01h-2.17zM365.98 270.44h2.17v2.01h-2.17zM365.98 268.73h2.17v2.01h-2.17zM367.84 273.86h2.17v2.01h-2.17zM373.45 277.28h2.17v2.01h-2.17zM373.45 239.66h2.17v2.01h-2.17zM375.32 277.28h2.17v2.01h-2.17zM375.32 244.79h2.17v2.01h-2.17zM377.19 280.70h2.17v2.01h-2.17zM377.19 244.79h2.17v2.01h-2.17zM379.06 278.99h2.17v2.01h-2.17zM379.06 246.50h2.17v2.01h-2.17zM379.06 244.79h2.17v2.01h-2.17zM380.93 251.63h2.17v2.01h-2.17zM382.80 284.12h2.17v2.01h-2.17zM384.66 280.70h2.17v2.01h-2.17zM384.66 253.34h2.17v2.01h-2.17zM386.53 284.12h2.17v2.01h-2.17zM386.53 282.41h2.17v2.01h-2.17zM386.53 255.05h2.17v2.01h-2.17zM388.40 282.41h2.17v2.01h-2.17zM388.40 277.28h2.17v2.01h-2.17zM390.27 272.15h2.17v2.01h-2.17zM390.27 270.44h2.17v2.01h-2.17zM390.27 268.73h2.17v2.01h-2.17zM392.14 275.57h2.17v2.01h-2.17zM392.14 268.73h2.17v2.01h-2.17zM394.01 273.86h2.17v2.01h-2.17zM394.01 270.44h2.17v2.01h-2.17zM395.88 277.28h2.17v2.01h-2.17zM416.44 214.01h2.17v2.01h-2.17zM418.30 227.69h2.17v2.01h-2.17zM418.30 217.43h2.17v2.01h-2.17zM418.30 215.72h2.17v2.01h-2.17zM418.30 214.01h2.17v2.01h-2.17zM420.17 227.69h2.17v2.01h-2.17zM420.17 224.27h2.17v2.01h-2.17zM420.17 222.56h2.17v2.01h-2.17zM422.04 231.11h2.17v2.01h-2.17zM422.04 214.01h2.17v2.01h-2.17zM423.91 212.30h2.17v2.01h-2.17zM425.78 227.69h2.17v2.01h-2.17zM435.12 232.82h2.17v2.01h-2.17zM436.99 232.82h2.17v2.01h-2.17zM440.73 232.82h2.17v2.01h-2.17z" fill="#030210" shape-rendering="crispEdges"/>
<path d="M347.29 297.80h2.17v2.01h-2.17zM351.02 297.80h2.17v2.01h-2.17zM358.50 292.67h2.17v2.01h-2.17zM362.24 256.76h2.17v2.01h-2.17zM362.24 253.34h2.17v2.01h-2.17zM364.11 261.89h2.17v2.01h-2.17zM365.98 261.89h2.17v2.01h-2.17zM369.71 267.02h2.17v2.01h-2.17zM371.58 248.21h2.17v2.01h-2.17zM373.45 272.15h2.17v2.01h-2.17zM373.45 248.21h2.17v2.01h-2.17zM377.19 272.15h2.17v2.01h-2.17zM380.93 273.86h2.17v2.01h-2.17zM380.93 268.73h2.17v2.01h-2.17zM380.93 256.76h2.17v2.01h-2.17zM380.93 255.05h2.17v2.01h-2.17zM384.66 267.02h2.17v2.01h-2.17zM384.66 263.60h2.17v2.01h-2.17zM423.91 219.14h2.17v2.01h-2.17zM436.99 225.98h2.17v2.01h-2.17zM436.99 212.30h2.17v2.01h-2.17z" fill="#2b0b57" shape-rendering="crispEdges"/>
<path d="M347.29 296.09h2.17v2.01h-2.17z" fill="#da4e3c" shape-rendering="crispEdges"/>
<path d="M347.29 294.38h2.17v2.01h-2.17zM349.16 294.38h2.17v2.01h-2.17z" fill="#fcb418" shape-rendering="crispEdges"/>
<path d="M347.29 292.67h2.17v2.01h-2.17z" fill="#fb9b06" shape-rendering="crispEdges"/>
<path d="M347.29 290.96h2.17v2.01h-2.17z" fill="#f78410" shape-rendering="crispEdges"/>
<path d="M347.29 289.25h2.17v2.01h-2.17zM367.84 251.63h2.17v2.01h-2.17zM379.06 263.60h2.17v2.01h-2.17zM436.99 220.85h2.17v2.01h-2.17z" fill="#7c1d6d" shape-rendering="crispEdges"/>
<path d="M347.29 287.54h2.17v2.01h-2.17zM349.16 297.80h2.17v2.01h-2.17zM362.24 255.05h2.17v2.01h-2.17zM364.11 251.63h2.17v2.01h-2.17zM369.71 265.31h2.17v2.01h-2.17zM379.06 273.86h2.17v2.01h-2.17zM423.91 217.43h2.17v2.01h-2.17zM427.65 222.56h2.17v2.01h-2.17zM431.39 224.27h2.17v2.01h-2.17zM435.12 224.27h2.17v2.01h-2.17z" fill="#2f0a5b" shape-rendering="crispEdges"/>
<path d="M349.16 296.09h2.17v2.01h-2.17zM349.16 290.96h2.17v2.01h-2.17z" fill="#e05536" shape-rendering="crispEdges"/>
<path d="M349.16 292.67h2.17v2.01h-2.17z" fill="#f2e661" shape-rendering="crispEdges"/>
<path d="M349.16 289.25h2.17v2.01h-2.17zM352.89 290.96h2.17v2.01h-2.17zM375.32 256.76h2.17v2.01h-2.17z" fill="#b73557" shape-rendering="crispEdges"/>
<path d="M349.16 287.54h2.17v2.01h-2.17zM373.45 268.73h2.17v2.01h-2.17zM375.32 268.73h2.17v2.01h-2.17zM377.19 268.73h2.17v2.01h-2.17zM379.06 261.89h2.17v2.01h-2.17zM379.06 256.76h2.17v2.01h-2.17zM427.65 219.14h2.17v2.01h-2.17zM427.65 217.43h2.17v2.01h-2.17zM436.99 222.56h2.17v2.01h-2.17zM440.73 222.56h2.17v2.01h-2.17z" fill="#57106e" shape-rendering="crispEdges"/>
<path d="M351.02 296.09h2.17v2.01h-2.17z" fill="#ea632a" shape-rendering="crispEdges"/>
<path d="M351.02 294.38h2.17v2.01h-2.17z" fill="#fb9706" shape-rendering="crispEdges"/>
<path d="M351.02 292.67h2.17v2.01h-2.17z" fill="#f1ef75" shape-rendering="crispEdges"/>
<path d="M351.02 290.96h2.17v2.01h-2.17z" fill="#f98e09" shape-rendering="crispEdges"/>
<path d="M351.02 289.25h2.17v2.01h-2.17zM369.71 261.89h2.17v2.01h-2.17zM371.58 255.05h2.17v2.01h-2.17zM377.19 265.31h2.17v2.01h-2.17zM433.26 214.01h2.17v2.01h-2.17zM436.99 214.01h2.17v2.01h-2.17zM440.73 217.43h2.17v2.01h-2.17z" fill="#7f1e6c" shape-rendering="crispEdges"/>
<path d="M352.89 297.80h2.17v2.01h-2.17zM362.24 249.92h2.17v2.01h-2.17zM362.24 246.50h2.17v2.01h-2.17zM371.58 246.50h2.17v2.01h-2.17zM382.80 275.57h2.17v2.01h-2.17zM384.66 270.44h2.17v2.01h-2.17zM384.66 258.47h2.17v2.01h-2.17zM386.53 267.02h2.17v2.01h-2.17zM423.91 220.85h2.17v2.01h-2.17zM427.65 220.85h2.17v2.01h-2.17zM433.26 224.27h2.17v2.01h-2.17zM435.12 227.69h2.17v2.01h-2.17zM436.99 227.69h2.17v2.01h-2.17zM440.73 225.98h2.17v2.01h-2.17zM440.73 212.30h2.17v2.01h-2.17z" fill="#230c4c" shape-rendering="crispEdges"/>
<path d="M352.89 296.09h2.17v2.01h-2.17zM436.99 219.14h2.17v2.01h-2.17z" fill="#a82e5f" shape-rendering="crispEdges"/>
<path d="M352.89 294.38h2.17v2.01h-2.17z" fill="#fa9207" shape-rendering="crispEdges"/>
<path d="M352.89 292.67h2.17v2.01h-2.17z" fill="#e55c30" shape-rendering="crispEdges"/>
<path d="M352.89 289.25h2.17v2.01h-2.17zM369.71 253.34h2.17v2.01h-2.17zM371.58 265.31h2.17v2.01h-2.17zM373.45 249.92h2.17v2.01h-2.17zM377.19 261.89h2.17v2.01h-2.17zM379.06 267.02h2.17v2.01h-2.17zM427.65 215.72h2.17v2.01h-2.17zM431.39 215.72h2.17v2.01h-2.17zM435.12 220.85h2.17v2.01h-2.17z" fill="#62146e" shape-rendering="crispEdges"/>
<path d="M352.89 285.83h2.17v2.01h-2.17zM358.50 290.96h2.17v2.01h-2.17zM358.50 253.34h2.17v2.01h-2.17zM358.50 251.63h2.17v2.01h-2.17zM358.50 244.79h2.17v2.01h-2.17zM360.37 292.67h2.17v2.01h-2.17zM360.37 253.34h2.17v2.01h-2.17zM362.24 261.89h2.17v2.01h-2.17zM362.24 244.79h2.17v2.01h-2.17zM365.98 243.08h2.17v2.01h-2.17zM367.84 270.44h2.17v2.01h-2.17zM367.84 268.73h2.17v2.01h-2.17zM373.45 273.86h2.17v2.01h-2.17zM377.19 249.92h2.17v2.01h-2.17zM380.93 277.28h2.17v2.01h-2.17zM384.66 277.28h2.17v2.01h-2.17zM384.66 260.18h2.17v2.01h-2.17zM386.53 272.15h2.17v2.01h-2.17zM386.53 258.47h2.17v2.01h-2.17zM388.40 275.57h2.17v2.01h-2.17zM388.40 268.73h2.17v2.01h-2.17zM388.40 263.60h2.17v2.01h-2.17zM390.27 273.86h2.17v2.01h-2.17zM392.14 272.15h2.17v2.01h-2.17zM422.04 215.72h2.17v2.01h-2.17zM423.91 214.01h2.17v2.01h-2.17zM425.78 222.56h2.17v2.01h-2.17zM427.65 227.69h2.17v2.01h-2.17zM429.52 212.30h2.17v2.01h-2.17zM433.26 227.69h2.17v2.01h-2.17zM433.26 212.30h2.17v2.01h-2.17z" fill="#10092d" shape-rendering="crispEdges"/>
<path d="M354.76 296.09h2.17v2.01h-2.17zM364.11 255.05h2.17v2.01h-2.17zM380.93 253.34h2.17v2.01h-2.17zM425.78 220.85h2.17v2.01h-2.17zM425.78 217.43h2.17v2.01h-2.17zM425.78 215.72h2.17v2.01h-2.17zM431.39 219.14h2.17v2.01h-2.17zM433.26 222.56h2.17v2.01h-2.17z" fill="#3d0965" shape-rendering="crispEdges"/>
<path d="M354.76 294.38h2.17v2.01h-2.17z" fill="#e25734" shape-rendering="crispEdges"/>
<path d="M354.76 292.67h2.17v2.01h-2.17z" fill="#b3325a" shape-rendering="crispEdges"/>
<path d="M354.76 290.96h2.17v2.01h-2.17zM373.45 258.47h2.17v2.01h-2.17z" fill="#8c2369" shape-rendering="crispEdges"/>
<path d="M354.76 287.54h2.17v2.01h-2.17zM364.11 260.18h2.17v2.01h-2.17zM367.84 263.60h2.17v2.01h-2.17zM369.71 246.50h2.17v2.01h-2.17zM375.32 251.63h2.17v2.01h-2.17zM380.93 272.15h2.17v2.01h-2.17zM382.80 270.44h2.17v2.01h-2.17zM382.80 265.31h2.17v2.01h-2.17zM382.80 258.47h2.17v2.01h-2.17zM382.80 256.76h2.17v2.01h-2.17zM384.66 268.73h2.17v2.01h-2.17zM433.26 225.98h2.17v2.01h-2.17zM435.12 225.98h2.17v2.01h-2.17z" fill="#260c51" shape-rendering="crispEdges"/>
<path d="M356.63 253.34h2.17v2.01h-2.17zM356.63 251.63h2.17v2.01h-2.17zM358.50 289.25h2.17v2.01h-2.17zM358.50 258.47h2.17v2.01h-2.17zM358.50 243.08h2.17v2.01h-2.17zM360.37 261.89h2.17v2.01h-2.17zM360.37 256.76h2.17v2.01h-2.17zM362.24 241.37h2.17v2.01h-2.17zM364.11 268.73h2.17v2.01h-2.17zM364.11 243.08h2.17v2.01h-2.17zM365.98 265.31h2.17v2.01h-2.17zM365.98 239.66h2.17v2.01h-2.17zM367.84 243.08h2.17v2.01h-2.17zM369.71 272.15h2.17v2.01h-2.17zM371.58 272.15h2.17v2.01h-2.17zM371.58 270.44h2.17v2.01h-2.17zM377.19 246.50h2.17v2.01h-2.17zM379.06 248.21h2.17v2.01h-2.17zM384.66 275.57h2.17v2.01h-2.17zM384.66 273.86h2.17v2.01h-2.17zM384.66 255.05h2.17v2.01h-2.17zM386.53 275.57h2.17v2.01h-2.17zM386.53 273.86h2.17v2.01h-2.17zM386.53 260.18h2.17v2.01h-2.17zM388.40 261.89h2.17v2.01h-2.17zM388.40 260.18h2.17v2.01h-2.17zM422.04 224.27h2.17v2.01h-2.17zM423.91 222.56h2.17v2.01h-2.17zM425.78 229.40h2.17v2.01h-2.17zM436.99 231.11h2.17v2.01h-2.17zM438.86 232.82h2.17v2.01h-2.17zM438.86 229.40h2.17v2.01h-2.17zM440.73 231.11h2.17v2.01h-2.17z" fill="#0a0722" shape-rendering="crispEdges"/>
<path d="M362.24 251.63h2.17v2.01h-2.17zM365.98 248.21h2.17v2.01h-2.17zM367.84 248.21h2.17v2.01h-2.17zM373.45 270.44h2.17v2.01h-2.17zM373.45 251.63h2.17v2.01h-2.17zM379.06 255.05h2.17v2.01h-2.17zM382.80 267.02h2.17v2.01h-2.17zM384.66 265.31h2.17v2.01h-2.17zM429.52 215.72h2.17v2.01h-2.17z" fill="#420a68" shape-rendering="crispEdges"/>
<path d="M365.98 258.47h2.17v2.01h-2.17zM365.98 255.05h2.17v2.01h-2.17zM371.58 261.89h2.17v2.01h-2.17zM377.19 256.76h2.17v2.01h-2.17zM379.06 268.73h2.17v2.01h-2.17zM380.93 263.60h2.17v2.01h-2.17zM380.93 261.89h2.17v2.01h-2.17zM431.39 220.85h2.17v2.01h-2.17zM433.26 219.14h2.17v2.01h-2.17zM438.86 222.56h2.17v2.01h-2.17z" fill="#5f136e" shape-rendering="crispEdges"/>
<path d="M365.98 256.76h2.17v2.01h-2.17zM367.84 260.18h2.17v2.01h-2.17zM367.84 249.92h2.17v2.01h-2.17zM369.71 260.18h2.17v2.01h-2.17zM375.32 253.34h2.17v2.01h-2.17z" fill="#6f196e" shape-rendering="crispEdges"/>
<path d="M365.98 253.34h2.17v2.01h-2.17zM369.71 251.63h2.17v2.01h-2.17zM371.58 263.60h2.17v2.01h-2.17zM373.45 265.31h2.17v2.01h-2.17zM373.45 263.60h2.17v2.01h-2.17zM373.45 255.05h2.17v2.01h-2.17zM375.32 267.02h2.17v2.01h-2.17zM438.86 217.43h2.17v2.01h-2.17z" fill="#6a176e" shape-rendering="crispEdges"/>
<path d="M367.84 258.47h2.17v2.01h-2.17zM435.12 217.43h2.17v2.01h-2.17zM435.12 214.01h2.17v2.01h-2.17zM440.73 219.14h2.17v2.01h-2.17zM440.73 214.01h2.17v2.01h-2.17z" fill="#932667" shape-rendering="crispEdges"/>
<path d="M367.84 255.05h2.17v2.01h-2.17zM377.19 258.47h2.17v2.01h-2.17z" fill="#67166e" shape-rendering="crispEdges"/>
<path d="M369.71 258.47h2.17v2.01h-2.17zM369.71 256.76h2.17v2.01h-2.17zM369.71 255.05h2.17v2.01h-2.17zM371.58 253.34h2.17v2.01h-2.17zM375.32 265.31h2.17v2.01h-2.17zM433.26 215.72h2.17v2.01h-2.17zM435.12 219.14h2.17v2.01h-2.17z" fill="#721a6e" shape-rendering="crispEdges"/>
<path d="M371.58 260.18h2.17v2.01h-2.17zM435.12 215.72h2.17v2.01h-2.17zM438.86 214.01h2.17v2.01h-2.17z" fill="#9b2964" shape-rendering="crispEdges"/>
<path d="M371.58 258.47h2.17v2.01h-2.17zM373.45 256.76h2.17v2.01h-2.17zM440.73 220.85h2.17v2.01h-2.17z" fill="#a32c61" shape-rendering="crispEdges"/>
<path d="M375.32 263.60h2.17v2.01h-2.17z" fill="#ab2f5e" shape-rendering="crispEdges"/>
<path d="M375.32 260.18h2.17v2.01h-2.17z" fill="#c33b4f" shape-rendering="crispEdges"/>
<path d="M375.32 258.47h2.17v2.01h-2.17zM375.32 255.05h2.17v2.01h-2.17z" fill="#8f2469" shape-rendering="crispEdges"/>
<path d="M377.19 267.02h2.17v2.01h-2.17z" fill="#84206b" shape-rendering="crispEdges"/>
<path d="M431.39 214.01h2.17v2.01h-2.17zM436.99 215.72h2.17v2.01h-2.17z" fill="#a02a63" shape-rendering="crispEdges"/>
<path d="M433.26 217.43h2.17v2.01h-2.17z" fill="#bc3754" shape-rendering="crispEdges"/>
<rect x="274.4" y="212.3" width="168.20000000000005" height="153.89999999999998" fill="none" stroke="#c4c4c4" stroke-width="1.1"/>
<text x="274.40" y="376.00" font-size="10.12" text-anchor="middle" textLength="5.85" lengthAdjust="spacingAndGlyphs">0</text>
<text x="272.00" y="369.30" font-size="10.12" text-anchor="end" textLength="5.85" lengthAdjust="spacingAndGlyphs">0</text>
<text x="316.45" y="376.00" font-size="10.12" text-anchor="middle" textLength="11.71" lengthAdjust="spacingAndGlyphs">45</text>
<text x="272.00" y="330.83" font-size="10.12" text-anchor="end" textLength="11.71" lengthAdjust="spacingAndGlyphs">45</text>
<text x="358.50" y="376.00" font-size="10.12" text-anchor="middle" textLength="11.71" lengthAdjust="spacingAndGlyphs">90</text>
<text x="272.00" y="292.35" font-size="10.12" text-anchor="end" textLength="11.71" lengthAdjust="spacingAndGlyphs">90</text>
<text x="400.55" y="376.00" font-size="10.12" text-anchor="middle" textLength="17.56" lengthAdjust="spacingAndGlyphs">135</text>
<text x="272.00" y="253.88" font-size="10.12" text-anchor="end" textLength="17.56" lengthAdjust="spacingAndGlyphs">135</text>
<text x="442.60" y="376.00" font-size="10.12" text-anchor="middle" textLength="17.56" lengthAdjust="spacingAndGlyphs">180</text>
<text x="272.00" y="215.40" font-size="10.12" text-anchor="end" textLength="17.56" lengthAdjust="spacingAndGlyphs">180</text>
<rect x="453.30" y="212.80" width="7.70" height="152.80" fill="url(#cbar)"/>
<rect x="453.3" y="212.8" width="7.7" height="152.80" fill="none" stroke="#c4c4c4" stroke-width="0.8"/>
<text x="462.60" y="368.70" font-size="9.46" textLength="5.47" lengthAdjust="spacingAndGlyphs">0</text>
<text x="462.60" y="338.14" font-size="9.46" textLength="10.94" lengthAdjust="spacingAndGlyphs">20</text>
<text x="462.60" y="307.58" font-size="9.46" textLength="10.94" lengthAdjust="spacingAndGlyphs">40</text>
<text x="462.60" y="277.02" font-size="9.46" textLength="10.94" lengthAdjust="spacingAndGlyphs">60</text>
<text x="462.60" y="246.46" font-size="9.46" textLength="10.94" lengthAdjust="spacingAndGlyphs">80</text>
<text x="462.60" y="215.90" font-size="9.46" textLength="16.41" lengthAdjust="spacingAndGlyphs">100</text>
<text x="481.40" y="287.00" font-size="10.2" text-anchor="middle" textLength="38.20" lengthAdjust="spacingAndGlyphs" transform="rotate(-90 481.40 287.00)">Counts</text>
<text x="325.4" y="387.3" font-size="10.34" fill="#262626" textLength="65.6" lengthAdjust="spacingAndGlyphs"><tspan font-style="italic">θ</tspan><tspan font-size="7.26" dy="1.6">12</tspan><tspan dy="-1.6"> (degrees)</tspan></text>
<text x="0" y="0" font-size="10.34" fill="#262626" textLength="68.4" lengthAdjust="spacingAndGlyphs" transform="translate(250.6 322.2) rotate(-90)"><tspan font-style="italic">θ</tspan><tspan font-size="7.26" dy="1.6">56</tspan><tspan dy="-1.6"> (degrees)</tspan></text>
<text x="278.80" y="358.50" font-size="13.2" font-weight="bold" textLength="18.00" lengthAdjust="spacingAndGlyphs">(d)</text></svg>
</body></html>
